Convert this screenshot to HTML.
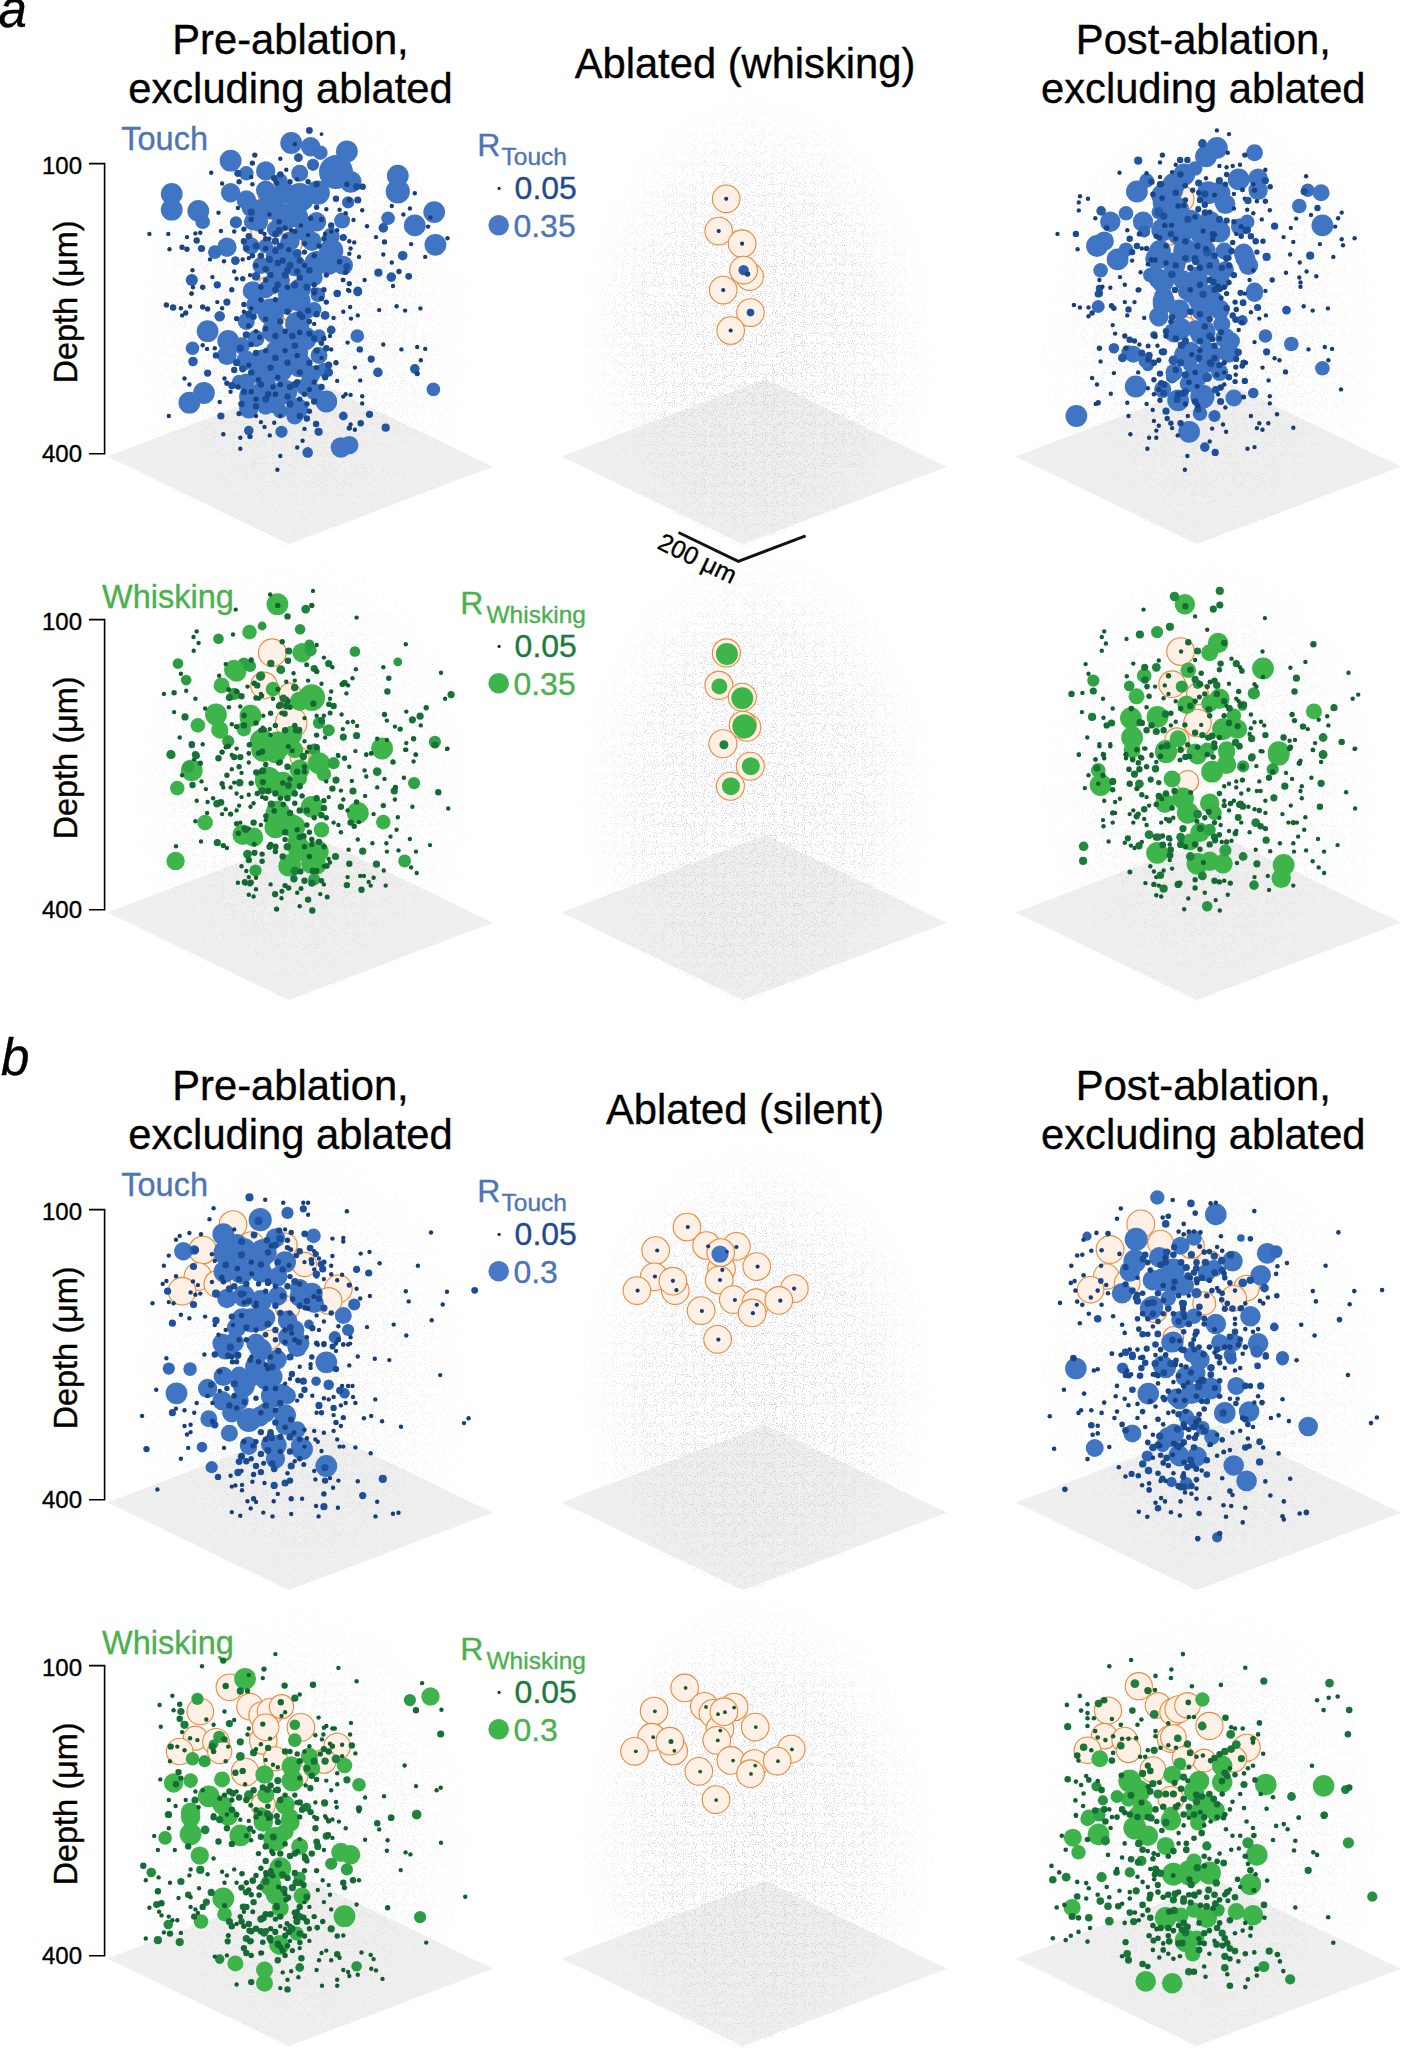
<!DOCTYPE html><html><head><meta charset="utf-8"><style>html,body{margin:0;padding:0;background:#fff;width:1403px;height:2048px;overflow:hidden}svg{display:block}</style></head><body>
<svg width="1403" height="2048" viewBox="0 0 1403 2048" font-family='"Liberation Sans", sans-serif'>
<style>text{stroke-width:0.35px}text:not([fill]){stroke:#000}</style>
<rect width="1403" height="2048" fill="#fff"/>
<text x="-1.5" y="27.3" font-size="51" font-style="italic" stroke="#000" stroke-width="0.7">a</text>
<text x="1" y="1074.5" font-size="51" font-style="italic" stroke="#000" stroke-width="0.7">b</text>
<polygon points="107.5,456.4 288.7,544.0 493.0,466.7 311.5,379.0" fill="#efefef"/>
<polygon points="561.5,456.4 742.7,544.0 947.0,466.7 765.5,379.0" fill="#efefef"/>
<polygon points="1015.5,456.4 1196.7,544.0 1401.0,466.7 1219.5,379.0" fill="#efefef"/>
<path d="M89,163.6 H104.6 V453.8 H89" fill="none" stroke="#000" stroke-width="1.6"/>
<text x="82" y="173.8" text-anchor="end" font-size="24">100</text>
<text x="82" y="462.0" text-anchor="end" font-size="24">400</text>
<text transform="translate(77,302.0) rotate(-90)" text-anchor="middle" font-size="32.5">Depth (μm)</text>
<polygon points="107.5,912.4 288.7,1000.0 493.0,922.7 311.5,835.0" fill="#efefef"/>
<polygon points="561.5,912.4 742.7,1000.0 947.0,922.7 765.5,835.0" fill="#efefef"/>
<polygon points="1015.5,912.4 1196.7,1000.0 1401.0,922.7 1219.5,835.0" fill="#efefef"/>
<path d="M89,619.6 H104.6 V909.8 H89" fill="none" stroke="#000" stroke-width="1.6"/>
<text x="82" y="629.8" text-anchor="end" font-size="24">100</text>
<text x="82" y="918.0" text-anchor="end" font-size="24">400</text>
<text transform="translate(77,758.0) rotate(-90)" text-anchor="middle" font-size="32.5">Depth (μm)</text>
<polygon points="107.5,1502.4 288.7,1590.0 493.0,1512.7 311.5,1425.0" fill="#efefef"/>
<polygon points="561.5,1502.4 742.7,1590.0 947.0,1512.7 765.5,1425.0" fill="#efefef"/>
<polygon points="1015.5,1502.4 1196.7,1590.0 1401.0,1512.7 1219.5,1425.0" fill="#efefef"/>
<path d="M89,1209.6 H104.6 V1499.8 H89" fill="none" stroke="#000" stroke-width="1.6"/>
<text x="82" y="1219.8" text-anchor="end" font-size="24">100</text>
<text x="82" y="1508.0" text-anchor="end" font-size="24">400</text>
<text transform="translate(77,1348.0) rotate(-90)" text-anchor="middle" font-size="32.5">Depth (μm)</text>
<polygon points="107.5,1958.4 288.7,2046.0 493.0,1968.7 311.5,1881.0" fill="#efefef"/>
<polygon points="561.5,1958.4 742.7,2046.0 947.0,1968.7 765.5,1881.0" fill="#efefef"/>
<polygon points="1015.5,1958.4 1196.7,2046.0 1401.0,1968.7 1219.5,1881.0" fill="#efefef"/>
<path d="M89,1665.6 H104.6 V1955.8 H89" fill="none" stroke="#000" stroke-width="1.6"/>
<text x="82" y="1675.8" text-anchor="end" font-size="24">100</text>
<text x="82" y="1964.0" text-anchor="end" font-size="24">400</text>
<text transform="translate(77,1804.0) rotate(-90)" text-anchor="middle" font-size="32.5">Depth (μm)</text>
<defs><filter id="spk" x="0" y="0" width="1" height="1" filterUnits="objectBoundingBox"><feTurbulence type="fractalNoise" baseFrequency="0.9" numOctaves="1" seed="7" result="n"/><feColorMatrix in="n" type="matrix" values="0 0 0 0 0.55  0 0 0 0 0.57  0 0 0 0 0.62  0 0 0 18 -10.6" result="d"/><feComposite in="d" in2="SourceGraphic" operator="in"/></filter><radialGradient id="cg" cx="0.5" cy="0.48" r="0.5"><stop offset="0" stop-color="#000" stop-opacity="1"/><stop offset="0.6" stop-color="#000" stop-opacity="0.7"/><stop offset="1" stop-color="#000" stop-opacity="0"/></radialGradient></defs>
<defs><clipPath id="cl00"><polygon points="107.6,90.0 490.7,90.0 490.7,465.0 287.5,548.8 107.6,456.2"/></clipPath><clipPath id="cl01"><polygon points="561.6,90.0 944.7,90.0 944.7,465.0 741.5,548.8 561.6,456.2"/></clipPath><clipPath id="cl02"><polygon points="1015.6,90.0 1398.7,90.0 1398.7,465.0 1195.5,548.8 1015.6,456.2"/></clipPath><clipPath id="cl10"><polygon points="107.6,546.0 490.7,546.0 490.7,921.0 287.5,1004.8 107.6,912.2"/></clipPath><clipPath id="cl11"><polygon points="561.6,546.0 944.7,546.0 944.7,921.0 741.5,1004.8 561.6,912.2"/></clipPath><clipPath id="cl12"><polygon points="1015.6,546.0 1398.7,546.0 1398.7,921.0 1195.5,1004.8 1015.6,912.2"/></clipPath><clipPath id="cl20"><polygon points="107.6,1136.0 490.7,1136.0 490.7,1511.0 287.5,1594.8 107.6,1502.2"/></clipPath><clipPath id="cl21"><polygon points="561.6,1136.0 944.7,1136.0 944.7,1511.0 741.5,1594.8 561.6,1502.2"/></clipPath><clipPath id="cl22"><polygon points="1015.6,1136.0 1398.7,1136.0 1398.7,1511.0 1195.5,1594.8 1015.6,1502.2"/></clipPath><clipPath id="cl30"><polygon points="107.6,1592.0 490.7,1592.0 490.7,1967.0 287.5,2050.8 107.6,1958.2"/></clipPath><clipPath id="cl31"><polygon points="561.6,1592.0 944.7,1592.0 944.7,1967.0 741.5,2050.8 561.6,1958.2"/></clipPath><clipPath id="cl32"><polygon points="1015.6,1592.0 1398.7,1592.0 1398.7,1967.0 1195.5,2050.8 1015.6,1958.2"/></clipPath></defs>
<g clip-path="url(#cl00)"><ellipse cx="303.0" cy="350.0" rx="185" ry="255" fill="url(#cg)" opacity="0.40" filter="url(#spk)"/></g>
<g clip-path="url(#cl01)"><ellipse cx="757.0" cy="350.0" rx="185" ry="255" fill="url(#cg)" opacity="0.80" filter="url(#spk)"/></g>
<g clip-path="url(#cl02)"><ellipse cx="1211.0" cy="350.0" rx="185" ry="255" fill="url(#cg)" opacity="0.40" filter="url(#spk)"/></g>
<g clip-path="url(#cl10)"><ellipse cx="303.0" cy="806.0" rx="185" ry="255" fill="url(#cg)" opacity="0.40" filter="url(#spk)"/></g>
<g clip-path="url(#cl11)"><ellipse cx="757.0" cy="806.0" rx="185" ry="255" fill="url(#cg)" opacity="0.80" filter="url(#spk)"/></g>
<g clip-path="url(#cl12)"><ellipse cx="1211.0" cy="806.0" rx="185" ry="255" fill="url(#cg)" opacity="0.40" filter="url(#spk)"/></g>
<g clip-path="url(#cl20)"><ellipse cx="303.0" cy="1396.0" rx="185" ry="255" fill="url(#cg)" opacity="0.40" filter="url(#spk)"/></g>
<g clip-path="url(#cl21)"><ellipse cx="757.0" cy="1396.0" rx="185" ry="255" fill="url(#cg)" opacity="0.80" filter="url(#spk)"/></g>
<g clip-path="url(#cl22)"><ellipse cx="1211.0" cy="1396.0" rx="185" ry="255" fill="url(#cg)" opacity="0.40" filter="url(#spk)"/></g>
<g clip-path="url(#cl30)"><ellipse cx="303.0" cy="1852.0" rx="185" ry="255" fill="url(#cg)" opacity="0.40" filter="url(#spk)"/></g>
<g clip-path="url(#cl31)"><ellipse cx="757.0" cy="1852.0" rx="185" ry="255" fill="url(#cg)" opacity="0.80" filter="url(#spk)"/></g>
<g clip-path="url(#cl32)"><ellipse cx="1211.0" cy="1852.0" rx="185" ry="255" fill="url(#cg)" opacity="0.40" filter="url(#spk)"/></g>
<text x="290.5" y="54.0" text-anchor="middle" font-size="41.7">Pre-ablation,</text>
<text x="290.5" y="102.5" text-anchor="middle" font-size="41.7">excluding ablated</text>
<text x="745" y="78.4" text-anchor="middle" font-size="41.7">Ablated (whisking)</text>
<text x="1203.3" y="54.0" text-anchor="middle" font-size="41.7">Post-ablation,</text>
<text x="1203.3" y="102.5" text-anchor="middle" font-size="41.7">excluding ablated</text>
<text x="290.5" y="1100.0" text-anchor="middle" font-size="41.7">Pre-ablation,</text>
<text x="290.5" y="1148.5" text-anchor="middle" font-size="41.7">excluding ablated</text>
<text x="745" y="1124.4" text-anchor="middle" font-size="41.7">Ablated (silent)</text>
<text x="1203.3" y="1100.0" text-anchor="middle" font-size="41.7">Post-ablation,</text>
<text x="1203.3" y="1148.5" text-anchor="middle" font-size="41.7">excluding ablated</text>
<text x="121.3" y="149.5" font-size="32.5" fill="#4d74b4" stroke="#4d74b4">Touch</text>
<text x="477.3" y="156.4" font-size="32" fill="#4d74b4" stroke="#4d74b4">R</text>
<text x="501.5" y="164.6" font-size="24.5" fill="#4d74b4" stroke="#4d74b4">Touch</text>
<circle cx="499.1" cy="188.4" r="1.6" fill="#1a2f55"/>
<text x="514.6" y="198.7" font-size="32" fill="#1f4b8e" stroke="#1f4b8e">0.05</text>
<circle cx="498.7" cy="225.2" r="10.3" fill="#4a78c6"/>
<text x="513.4" y="237.0" font-size="32" fill="#4d74b4" stroke="#4d74b4">0.35</text>
<text x="102.0" y="607.5" font-size="32.5" fill="#4cb050" stroke="#4cb050">Whisking</text>
<text x="460.3" y="614.4" font-size="32" fill="#4cb050" stroke="#4cb050">R</text>
<text x="486.5" y="622.6" font-size="24.5" fill="#4cb050" stroke="#4cb050">Whisking</text>
<circle cx="499.1" cy="646.4" r="1.6" fill="#1c3a28"/>
<text x="514.6" y="656.7" font-size="32" fill="#1e7a3c" stroke="#1e7a3c">0.05</text>
<circle cx="498.7" cy="683.2" r="10.3" fill="#3cb54a"/>
<text x="513.4" y="695.0" font-size="32" fill="#4cb050" stroke="#4cb050">0.35</text>
<text x="121.3" y="1195.5" font-size="32.5" fill="#4d74b4" stroke="#4d74b4">Touch</text>
<text x="477.3" y="1202.4" font-size="32" fill="#4d74b4" stroke="#4d74b4">R</text>
<text x="501.5" y="1210.6" font-size="24.5" fill="#4d74b4" stroke="#4d74b4">Touch</text>
<circle cx="499.1" cy="1234.4" r="1.6" fill="#1a2f55"/>
<text x="514.6" y="1244.7" font-size="32" fill="#1f4b8e" stroke="#1f4b8e">0.05</text>
<circle cx="498.7" cy="1271.2" r="10.3" fill="#4a78c6"/>
<text x="513.4" y="1283.0" font-size="32" fill="#4d74b4" stroke="#4d74b4">0.3</text>
<text x="102.0" y="1653.5" font-size="32.5" fill="#4cb050" stroke="#4cb050">Whisking</text>
<text x="460.3" y="1660.4" font-size="32" fill="#4cb050" stroke="#4cb050">R</text>
<text x="486.5" y="1668.6" font-size="24.5" fill="#4cb050" stroke="#4cb050">Whisking</text>
<circle cx="499.1" cy="1692.4" r="1.6" fill="#1c3a28"/>
<text x="514.6" y="1702.7" font-size="32" fill="#1e7a3c" stroke="#1e7a3c">0.05</text>
<circle cx="498.7" cy="1729.2" r="10.3" fill="#3cb54a"/>
<text x="513.4" y="1741.0" font-size="32" fill="#4cb050" stroke="#4cb050">0.3</text>
<path d="M678.5,532.5 L738.3,561.3 L805.6,535.9" fill="none" stroke="#111" stroke-width="3"/>
<text transform="translate(656,548) rotate(25.7)" font-size="25">200 μm</text>
<g>
<circle cx="295.6" cy="276.6" r="13.8" fill="#fef0e4" stroke="#e98a3d" stroke-width="1.1"/>
<circle cx="272.2" cy="198.8" r="13.8" fill="#fef0e4" stroke="#e98a3d" stroke-width="1.1"/>
<circle cx="264.7" cy="231.1" r="13.8" fill="#fef0e4" stroke="#e98a3d" stroke-width="1.1"/>
<circle cx="288.1" cy="243.7" r="13.8" fill="#fef0e4" stroke="#e98a3d" stroke-width="1.1"/>
<circle cx="289.6" cy="270.1" r="13.8" fill="#fef0e4" stroke="#e98a3d" stroke-width="1.1"/>
<circle cx="269.2" cy="290.1" r="13.8" fill="#fef0e4" stroke="#e98a3d" stroke-width="1.1"/>
<circle cx="296.5" cy="312.6" r="13.8" fill="#fef0e4" stroke="#e98a3d" stroke-width="1.1"/>
<circle cx="276.7" cy="330.5" r="13.8" fill="#fef0e4" stroke="#e98a3d" stroke-width="1.1"/>
<circle cx="171.7" cy="193.9" r="10.9" fill="#4075c4"/>
<circle cx="171.7" cy="209.7" r="10.9" fill="#4075c4"/>
<circle cx="230.6" cy="160.7" r="10.9" fill="#4075c4"/>
<circle cx="198.3" cy="210.9" r="10.9" fill="#4075c4"/>
<circle cx="202.7" cy="221.8" r="7.3" fill="#3e73c2"/>
<circle cx="230.6" cy="192.7" r="9.7" fill="#4075c4"/>
<circle cx="291.2" cy="143.0" r="10.9" fill="#4075c4"/>
<circle cx="310.6" cy="146.7" r="9.7" fill="#4075c4"/>
<circle cx="320.3" cy="152.7" r="7.3" fill="#3e73c2"/>
<circle cx="346.9" cy="151.5" r="10.9" fill="#4075c4"/>
<circle cx="265.7" cy="170.9" r="9.7" fill="#4075c4"/>
<circle cx="336.0" cy="172.1" r="17.0" fill="#4075c4"/>
<circle cx="350.6" cy="181.8" r="10.9" fill="#4075c4"/>
<circle cx="313.0" cy="164.8" r="6.1" fill="#3368b8"/>
<circle cx="299.7" cy="197.6" r="14.5" fill="#4075c4"/>
<circle cx="317.8" cy="192.7" r="12.1" fill="#4075c4"/>
<circle cx="270.6" cy="206.0" r="13.3" fill="#4075c4"/>
<circle cx="251.2" cy="207.3" r="9.7" fill="#4075c4"/>
<circle cx="285.1" cy="216.9" r="13.3" fill="#4075c4"/>
<circle cx="265.7" cy="190.3" r="9.7" fill="#4075c4"/>
<circle cx="252.4" cy="221.8" r="8.5" fill="#4075c4"/>
<circle cx="283.9" cy="192.7" r="10.9" fill="#4075c4"/>
<circle cx="397.8" cy="175.7" r="10.9" fill="#4075c4"/>
<circle cx="397.8" cy="191.5" r="12.1" fill="#4075c4"/>
<circle cx="434.2" cy="212.1" r="10.9" fill="#4075c4"/>
<circle cx="414.8" cy="225.4" r="10.9" fill="#4075c4"/>
<circle cx="435.4" cy="244.8" r="10.9" fill="#4075c4"/>
<circle cx="388.1" cy="218.2" r="6.8" fill="#3a6fbe"/>
<circle cx="342.1" cy="220.6" r="8.0" fill="#4075c4"/>
<circle cx="316.6" cy="221.8" r="9.7" fill="#4075c4"/>
<circle cx="311.8" cy="241.2" r="9.7" fill="#4075c4"/>
<circle cx="331.2" cy="250.9" r="12.1" fill="#4075c4"/>
<circle cx="343.3" cy="265.4" r="9.7" fill="#4075c4"/>
<circle cx="316.6" cy="263.0" r="12.1" fill="#4075c4"/>
<circle cx="226.9" cy="247.2" r="9.7" fill="#4075c4"/>
<circle cx="214.8" cy="252.1" r="6.8" fill="#3a6fbe"/>
<circle cx="251.2" cy="246.0" r="8.5" fill="#4075c4"/>
<circle cx="252.4" cy="290.9" r="9.7" fill="#4075c4"/>
<circle cx="271.8" cy="284.8" r="9.7" fill="#4075c4"/>
<circle cx="299.7" cy="289.7" r="10.9" fill="#4075c4"/>
<circle cx="285.1" cy="255.7" r="10.9" fill="#4075c4"/>
<circle cx="275.4" cy="267.8" r="10.9" fill="#4075c4"/>
<circle cx="306.9" cy="277.5" r="9.7" fill="#4075c4"/>
<circle cx="235.9" cy="222.3" r="6.1" fill="#3368b8"/>
<circle cx="246.3" cy="200.0" r="9.7" fill="#4075c4"/>
<circle cx="258.5" cy="221.8" r="9.7" fill="#4075c4"/>
<circle cx="275.4" cy="229.1" r="8.5" fill="#4075c4"/>
<circle cx="297.2" cy="216.9" r="10.9" fill="#4075c4"/>
<circle cx="304.5" cy="231.5" r="9.7" fill="#4075c4"/>
<circle cx="290.0" cy="241.2" r="9.7" fill="#4075c4"/>
<circle cx="265.7" cy="246.0" r="7.3" fill="#3e73c2"/>
<circle cx="275.4" cy="255.7" r="9.7" fill="#4075c4"/>
<circle cx="294.8" cy="265.4" r="10.9" fill="#4075c4"/>
<circle cx="331.2" cy="236.3" r="8.5" fill="#4075c4"/>
<circle cx="260.9" cy="265.4" r="8.5" fill="#4075c4"/>
<circle cx="280.3" cy="280.0" r="9.7" fill="#4075c4"/>
<circle cx="265.7" cy="289.7" r="8.5" fill="#4075c4"/>
<circle cx="287.5" cy="294.5" r="9.7" fill="#4075c4"/>
<circle cx="314.2" cy="277.5" r="8.5" fill="#4075c4"/>
<circle cx="328.7" cy="265.4" r="9.7" fill="#4075c4"/>
<circle cx="246.3" cy="173.3" r="7.3" fill="#3e73c2"/>
<circle cx="299.7" cy="173.3" r="8.5" fill="#4075c4"/>
<circle cx="280.3" cy="180.6" r="7.3" fill="#3e73c2"/>
<circle cx="348.1" cy="202.4" r="6.1" fill="#3368b8"/>
<circle cx="299.7" cy="300.9" r="10.9" fill="#4075c4"/>
<circle cx="317.8" cy="294.8" r="7.3" fill="#3e73c2"/>
<circle cx="270.6" cy="311.8" r="13.3" fill="#4075c4"/>
<circle cx="273.0" cy="331.2" r="10.9" fill="#4075c4"/>
<circle cx="297.2" cy="323.9" r="12.1" fill="#4075c4"/>
<circle cx="304.5" cy="338.5" r="12.1" fill="#4075c4"/>
<circle cx="286.3" cy="342.1" r="10.9" fill="#4075c4"/>
<circle cx="207.6" cy="331.2" r="10.9" fill="#4075c4"/>
<circle cx="228.2" cy="340.9" r="10.9" fill="#4075c4"/>
<circle cx="226.9" cy="355.4" r="9.7" fill="#4075c4"/>
<circle cx="192.5" cy="348.2" r="6.8" fill="#3a6fbe"/>
<circle cx="219.7" cy="316.2" r="5.3" fill="#2e63b3"/>
<circle cx="319.0" cy="336.0" r="6.8" fill="#3a6fbe"/>
<circle cx="262.1" cy="362.7" r="13.3" fill="#4075c4"/>
<circle cx="246.3" cy="360.3" r="9.7" fill="#4075c4"/>
<circle cx="280.3" cy="370.0" r="12.1" fill="#4075c4"/>
<circle cx="299.7" cy="365.1" r="12.1" fill="#4075c4"/>
<circle cx="310.6" cy="374.8" r="9.7" fill="#4075c4"/>
<circle cx="246.3" cy="382.1" r="8.5" fill="#4075c4"/>
<circle cx="251.2" cy="396.6" r="12.1" fill="#4075c4"/>
<circle cx="265.7" cy="386.9" r="10.9" fill="#4075c4"/>
<circle cx="285.1" cy="391.8" r="12.1" fill="#4075c4"/>
<circle cx="275.4" cy="403.9" r="9.7" fill="#4075c4"/>
<circle cx="297.2" cy="408.8" r="10.9" fill="#4075c4"/>
<circle cx="248.8" cy="408.8" r="9.7" fill="#4075c4"/>
<circle cx="326.3" cy="401.5" r="10.9" fill="#4075c4"/>
<circle cx="203.9" cy="393.0" r="10.9" fill="#4075c4"/>
<circle cx="189.4" cy="402.7" r="10.9" fill="#4075c4"/>
<circle cx="357.3" cy="336.0" r="6.8" fill="#3a6fbe"/>
<circle cx="433.4" cy="389.4" r="6.8" fill="#3a6fbe"/>
<circle cx="281.5" cy="431.8" r="6.1" fill="#3368b8"/>
<circle cx="340.9" cy="447.5" r="10.2" fill="#4075c4"/>
<circle cx="349.3" cy="445.1" r="9.2" fill="#4075c4"/>
<circle cx="294.8" cy="416.0" r="8.5" fill="#4075c4"/>
<circle cx="246.3" cy="321.5" r="8.5" fill="#4075c4"/>
<circle cx="256.0" cy="304.5" r="9.7" fill="#4075c4"/>
<circle cx="285.1" cy="304.5" r="9.7" fill="#4075c4"/>
<circle cx="314.2" cy="309.4" r="7.3" fill="#3e73c2"/>
<circle cx="319.0" cy="355.4" r="8.5" fill="#4075c4"/>
<circle cx="323.9" cy="370.0" r="7.3" fill="#3e73c2"/>
<circle cx="241.5" cy="345.7" r="8.5" fill="#4075c4"/>
<circle cx="256.0" cy="338.5" r="8.5" fill="#4075c4"/>
<circle cx="314.2" cy="391.8" r="8.5" fill="#4075c4"/>
<circle cx="275.4" cy="350.6" r="9.7" fill="#4075c4"/>
<circle cx="290.0" cy="353.0" r="9.7" fill="#4075c4"/>
<circle cx="260.9" cy="374.8" r="9.7" fill="#4075c4"/>
<circle cx="239.1" cy="382.1" r="7.3" fill="#3e73c2"/>
<circle cx="304.5" cy="386.9" r="8.5" fill="#4075c4"/>
<circle cx="265.7" cy="406.3" r="8.5" fill="#4075c4"/>
<circle cx="280.3" cy="411.2" r="7.3" fill="#3e73c2"/>
<circle cx="306.9" cy="311.8" r="7.3" fill="#3e73c2"/>
<circle cx="299.7" cy="353.0" r="8.5" fill="#4075c4"/>
<circle cx="309.4" cy="130.4" r="3.4" fill="#1b4e97"/>
<circle cx="321.5" cy="134.1" r="1.9" fill="#163a72"/>
<circle cx="254.8" cy="155.1" r="2.7" fill="#184384"/>
<circle cx="252.4" cy="163.1" r="2.7" fill="#184384"/>
<circle cx="211.2" cy="172.8" r="2.2" fill="#173d77"/>
<circle cx="237.9" cy="173.3" r="3.6" fill="#1c509c"/>
<circle cx="239.1" cy="181.8" r="2.7" fill="#184384"/>
<circle cx="222.1" cy="183.5" r="2.2" fill="#173d77"/>
<circle cx="280.3" cy="158.8" r="2.2" fill="#173d77"/>
<circle cx="286.3" cy="169.7" r="2.2" fill="#173d77"/>
<circle cx="280.3" cy="174.5" r="3.2" fill="#1a4a91"/>
<circle cx="274.2" cy="178.2" r="3.2" fill="#1a4a91"/>
<circle cx="276.6" cy="183.0" r="2.7" fill="#184384"/>
<circle cx="297.2" cy="179.4" r="2.2" fill="#173d77"/>
<circle cx="290.0" cy="181.8" r="2.7" fill="#184384"/>
<circle cx="308.1" cy="181.8" r="2.7" fill="#184384"/>
<circle cx="316.6" cy="184.2" r="3.2" fill="#1a4a91"/>
<circle cx="251.2" cy="177.0" r="2.2" fill="#173d77"/>
<circle cx="252.4" cy="184.2" r="2.2" fill="#173d77"/>
<circle cx="298.4" cy="157.6" r="4.4" fill="#2358a5"/>
<circle cx="294.8" cy="144.2" r="2.2" fill="#173d77"/>
<circle cx="356.6" cy="186.7" r="3.6" fill="#1c509c"/>
<circle cx="362.7" cy="186.7" r="3.2" fill="#1a4a91"/>
<circle cx="346.9" cy="184.2" r="2.7" fill="#184384"/>
<circle cx="336.0" cy="198.8" r="3.2" fill="#1a4a91"/>
<circle cx="349.3" cy="200.0" r="2.7" fill="#184384"/>
<circle cx="357.8" cy="200.0" r="3.6" fill="#1c509c"/>
<circle cx="316.6" cy="207.3" r="2.7" fill="#184384"/>
<circle cx="326.3" cy="209.2" r="2.2" fill="#173d77"/>
<circle cx="339.6" cy="209.7" r="2.2" fill="#173d77"/>
<circle cx="345.7" cy="213.3" r="2.2" fill="#173d77"/>
<circle cx="362.2" cy="210.2" r="2.2" fill="#173d77"/>
<circle cx="353.5" cy="219.9" r="2.2" fill="#173d77"/>
<circle cx="367.0" cy="226.2" r="2.2" fill="#173d77"/>
<circle cx="391.8" cy="206.0" r="2.2" fill="#173d77"/>
<circle cx="403.4" cy="214.5" r="2.2" fill="#173d77"/>
<circle cx="409.9" cy="208.5" r="2.2" fill="#173d77"/>
<circle cx="414.8" cy="193.2" r="2.2" fill="#173d77"/>
<circle cx="383.3" cy="227.9" r="4.8" fill="#285cab"/>
<circle cx="376.0" cy="237.1" r="2.2" fill="#173d77"/>
<circle cx="384.5" cy="241.9" r="2.7" fill="#184384"/>
<circle cx="411.1" cy="244.1" r="2.2" fill="#173d77"/>
<circle cx="428.1" cy="226.6" r="2.2" fill="#173d77"/>
<circle cx="430.5" cy="217.4" r="2.2" fill="#173d77"/>
<circle cx="447.5" cy="238.3" r="2.2" fill="#173d77"/>
<circle cx="402.7" cy="255.7" r="4.8" fill="#285cab"/>
<circle cx="425.2" cy="256.9" r="2.2" fill="#173d77"/>
<circle cx="383.3" cy="254.5" r="2.2" fill="#173d77"/>
<circle cx="391.8" cy="262.5" r="2.2" fill="#173d77"/>
<circle cx="378.4" cy="272.7" r="4.1" fill="#2155a2"/>
<circle cx="391.3" cy="277.1" r="4.8" fill="#285cab"/>
<circle cx="399.0" cy="271.5" r="2.7" fill="#184384"/>
<circle cx="408.7" cy="276.3" r="3.4" fill="#1b4e97"/>
<circle cx="393.0" cy="286.0" r="2.2" fill="#173d77"/>
<circle cx="364.6" cy="280.0" r="2.2" fill="#173d77"/>
<circle cx="357.8" cy="290.9" r="4.4" fill="#2358a5"/>
<circle cx="337.2" cy="293.3" r="3.6" fill="#1c509c"/>
<circle cx="349.3" cy="283.6" r="2.7" fill="#184384"/>
<circle cx="343.3" cy="280.0" r="2.2" fill="#173d77"/>
<circle cx="349.3" cy="290.9" r="2.2" fill="#173d77"/>
<circle cx="149.4" cy="233.9" r="2.2" fill="#173d77"/>
<circle cx="168.3" cy="233.9" r="2.2" fill="#173d77"/>
<circle cx="169.5" cy="249.2" r="2.2" fill="#173d77"/>
<circle cx="187.0" cy="237.1" r="2.2" fill="#173d77"/>
<circle cx="182.1" cy="247.2" r="2.7" fill="#184384"/>
<circle cx="187.0" cy="249.2" r="2.7" fill="#184384"/>
<circle cx="196.7" cy="240.5" r="3.2" fill="#1a4a91"/>
<circle cx="201.5" cy="248.5" r="3.6" fill="#1c509c"/>
<circle cx="195.4" cy="233.4" r="2.2" fill="#173d77"/>
<circle cx="200.3" cy="232.7" r="2.2" fill="#173d77"/>
<circle cx="218.5" cy="212.8" r="2.2" fill="#173d77"/>
<circle cx="220.9" cy="231.0" r="2.2" fill="#173d77"/>
<circle cx="237.9" cy="208.0" r="2.2" fill="#173d77"/>
<circle cx="234.2" cy="231.5" r="2.2" fill="#173d77"/>
<circle cx="210.0" cy="259.4" r="2.2" fill="#173d77"/>
<circle cx="224.0" cy="261.3" r="2.2" fill="#173d77"/>
<circle cx="235.4" cy="260.6" r="4.4" fill="#2358a5"/>
<circle cx="242.7" cy="259.4" r="2.2" fill="#173d77"/>
<circle cx="248.8" cy="258.1" r="2.2" fill="#173d77"/>
<circle cx="191.8" cy="280.0" r="6.1" fill="#2e63b3"/>
<circle cx="192.5" cy="270.3" r="2.2" fill="#173d77"/>
<circle cx="202.7" cy="287.2" r="2.7" fill="#184384"/>
<circle cx="193.0" cy="287.2" r="2.2" fill="#173d77"/>
<circle cx="191.3" cy="293.5" r="2.2" fill="#173d77"/>
<circle cx="217.3" cy="284.8" r="3.6" fill="#1c509c"/>
<circle cx="212.4" cy="277.1" r="2.2" fill="#173d77"/>
<circle cx="234.2" cy="271.5" r="2.2" fill="#173d77"/>
<circle cx="236.6" cy="278.7" r="2.2" fill="#173d77"/>
<circle cx="242.7" cy="278.7" r="2.7" fill="#184384"/>
<circle cx="250.0" cy="275.1" r="2.2" fill="#173d77"/>
<circle cx="256.0" cy="276.3" r="4.4" fill="#2358a5"/>
<circle cx="231.8" cy="289.7" r="2.7" fill="#184384"/>
<circle cx="248.8" cy="236.3" r="3.2" fill="#1a4a91"/>
<circle cx="256.0" cy="246.0" r="3.6" fill="#1c509c"/>
<circle cx="269.4" cy="238.8" r="2.2" fill="#173d77"/>
<circle cx="275.4" cy="241.2" r="3.6" fill="#1c509c"/>
<circle cx="265.7" cy="248.5" r="2.7" fill="#184384"/>
<circle cx="269.4" cy="259.4" r="3.6" fill="#1c509c"/>
<circle cx="280.3" cy="246.0" r="3.6" fill="#1c509c"/>
<circle cx="288.7" cy="249.7" r="2.7" fill="#184384"/>
<circle cx="297.2" cy="253.3" r="4.4" fill="#2358a5"/>
<circle cx="304.5" cy="252.1" r="2.7" fill="#184384"/>
<circle cx="290.0" cy="265.4" r="3.6" fill="#1c509c"/>
<circle cx="285.1" cy="275.1" r="3.6" fill="#1c509c"/>
<circle cx="297.2" cy="271.5" r="3.2" fill="#1a4a91"/>
<circle cx="294.8" cy="284.8" r="3.6" fill="#1c509c"/>
<circle cx="306.9" cy="287.2" r="3.6" fill="#1c509c"/>
<circle cx="314.2" cy="290.9" r="3.6" fill="#1c509c"/>
<circle cx="287.5" cy="287.2" r="2.7" fill="#184384"/>
<circle cx="277.8" cy="263.0" r="3.2" fill="#1a4a91"/>
<circle cx="265.7" cy="269.1" r="3.2" fill="#1a4a91"/>
<circle cx="260.9" cy="287.2" r="2.7" fill="#184384"/>
<circle cx="275.4" cy="289.7" r="3.2" fill="#1a4a91"/>
<circle cx="300.9" cy="225.4" r="2.2" fill="#173d77"/>
<circle cx="310.6" cy="218.2" r="2.7" fill="#184384"/>
<circle cx="321.5" cy="219.4" r="2.7" fill="#184384"/>
<circle cx="331.2" cy="225.4" r="3.2" fill="#1a4a91"/>
<circle cx="331.2" cy="231.5" r="2.2" fill="#173d77"/>
<circle cx="325.1" cy="233.9" r="2.2" fill="#173d77"/>
<circle cx="337.2" cy="230.3" r="2.2" fill="#173d77"/>
<circle cx="343.3" cy="237.5" r="3.6" fill="#1c509c"/>
<circle cx="349.3" cy="241.2" r="2.2" fill="#173d77"/>
<circle cx="354.2" cy="242.4" r="2.2" fill="#173d77"/>
<circle cx="350.6" cy="248.5" r="2.2" fill="#173d77"/>
<circle cx="349.3" cy="253.8" r="2.2" fill="#173d77"/>
<circle cx="359.0" cy="256.9" r="2.2" fill="#173d77"/>
<circle cx="339.6" cy="261.8" r="2.7" fill="#184384"/>
<circle cx="346.9" cy="266.6" r="3.6" fill="#1c509c"/>
<circle cx="345.7" cy="272.2" r="2.7" fill="#184384"/>
<circle cx="342.8" cy="280.0" r="2.2" fill="#173d77"/>
<circle cx="304.5" cy="265.4" r="2.7" fill="#184384"/>
<circle cx="326.3" cy="275.1" r="2.7" fill="#184384"/>
<circle cx="279.1" cy="221.8" r="2.7" fill="#184384"/>
<circle cx="279.1" cy="230.3" r="3.2" fill="#1a4a91"/>
<circle cx="285.1" cy="227.9" r="2.7" fill="#184384"/>
<circle cx="291.2" cy="230.3" r="2.2" fill="#173d77"/>
<circle cx="251.2" cy="212.1" r="3.6" fill="#1c509c"/>
<circle cx="251.2" cy="219.4" r="2.7" fill="#184384"/>
<circle cx="269.4" cy="214.5" r="2.2" fill="#173d77"/>
<circle cx="264.5" cy="233.9" r="2.2" fill="#173d77"/>
<circle cx="308.1" cy="235.1" r="2.2" fill="#173d77"/>
<circle cx="323.9" cy="238.8" r="2.7" fill="#184384"/>
<circle cx="243.9" cy="241.2" r="3.2" fill="#1a4a91"/>
<circle cx="246.3" cy="248.5" r="3.2" fill="#1a4a91"/>
<circle cx="252.4" cy="255.7" r="2.7" fill="#184384"/>
<circle cx="260.9" cy="255.7" r="3.2" fill="#1a4a91"/>
<circle cx="265.7" cy="238.8" r="2.7" fill="#184384"/>
<circle cx="275.4" cy="250.9" r="3.2" fill="#1a4a91"/>
<circle cx="282.7" cy="260.6" r="3.2" fill="#1a4a91"/>
<circle cx="287.5" cy="270.3" r="3.2" fill="#1a4a91"/>
<circle cx="299.7" cy="260.6" r="3.2" fill="#1a4a91"/>
<circle cx="309.4" cy="270.3" r="3.2" fill="#1a4a91"/>
<circle cx="314.2" cy="255.7" r="2.7" fill="#184384"/>
<circle cx="319.0" cy="246.0" r="2.7" fill="#184384"/>
<circle cx="304.5" cy="243.6" r="2.7" fill="#184384"/>
<circle cx="294.8" cy="231.5" r="2.7" fill="#184384"/>
<circle cx="275.4" cy="233.9" r="3.2" fill="#1a4a91"/>
<circle cx="285.1" cy="236.3" r="2.7" fill="#184384"/>
<circle cx="260.9" cy="231.5" r="2.7" fill="#184384"/>
<circle cx="243.9" cy="229.1" r="2.7" fill="#184384"/>
<circle cx="270.6" cy="275.1" r="3.2" fill="#1a4a91"/>
<circle cx="277.8" cy="284.8" r="3.2" fill="#1a4a91"/>
<circle cx="299.7" cy="277.5" r="3.2" fill="#1a4a91"/>
<circle cx="314.2" cy="284.8" r="2.7" fill="#184384"/>
<circle cx="323.9" cy="289.7" r="2.7" fill="#184384"/>
<circle cx="265.7" cy="280.0" r="2.7" fill="#184384"/>
<circle cx="256.0" cy="265.4" r="2.7" fill="#184384"/>
<circle cx="191.8" cy="293.6" r="2.2" fill="#173d77"/>
<circle cx="166.4" cy="305.0" r="2.7" fill="#184384"/>
<circle cx="173.1" cy="307.5" r="3.2" fill="#1a4a91"/>
<circle cx="180.9" cy="308.2" r="2.2" fill="#173d77"/>
<circle cx="190.1" cy="306.5" r="2.2" fill="#173d77"/>
<circle cx="182.1" cy="315.4" r="2.2" fill="#173d77"/>
<circle cx="185.7" cy="313.0" r="2.7" fill="#184384"/>
<circle cx="202.7" cy="307.0" r="2.7" fill="#184384"/>
<circle cx="207.6" cy="308.9" r="2.7" fill="#184384"/>
<circle cx="217.3" cy="302.1" r="2.2" fill="#173d77"/>
<circle cx="226.9" cy="302.1" r="3.6" fill="#1c509c"/>
<circle cx="222.1" cy="308.2" r="2.2" fill="#173d77"/>
<circle cx="236.6" cy="318.6" r="2.7" fill="#184384"/>
<circle cx="248.8" cy="314.2" r="3.6" fill="#1c509c"/>
<circle cx="253.6" cy="316.7" r="3.2" fill="#1a4a91"/>
<circle cx="251.2" cy="308.2" r="2.2" fill="#173d77"/>
<circle cx="243.9" cy="311.8" r="2.2" fill="#173d77"/>
<circle cx="248.8" cy="325.9" r="2.7" fill="#184384"/>
<circle cx="246.3" cy="334.8" r="3.6" fill="#1c509c"/>
<circle cx="256.0" cy="331.2" r="2.2" fill="#173d77"/>
<circle cx="251.2" cy="344.5" r="2.7" fill="#184384"/>
<circle cx="259.7" cy="337.3" r="2.7" fill="#184384"/>
<circle cx="240.3" cy="348.2" r="3.6" fill="#1c509c"/>
<circle cx="202.7" cy="345.3" r="2.2" fill="#173d77"/>
<circle cx="207.1" cy="348.9" r="2.2" fill="#173d77"/>
<circle cx="193.0" cy="361.5" r="4.8" fill="#285cab"/>
<circle cx="216.0" cy="355.4" r="3.2" fill="#1a4a91"/>
<circle cx="214.8" cy="348.2" r="2.2" fill="#173d77"/>
<circle cx="236.6" cy="362.7" r="3.6" fill="#1c509c"/>
<circle cx="234.2" cy="370.0" r="3.2" fill="#1a4a91"/>
<circle cx="242.7" cy="368.8" r="3.6" fill="#1c509c"/>
<circle cx="248.8" cy="365.1" r="2.7" fill="#184384"/>
<circle cx="207.6" cy="373.1" r="3.6" fill="#1c509c"/>
<circle cx="184.5" cy="378.5" r="2.2" fill="#173d77"/>
<circle cx="189.4" cy="384.5" r="2.2" fill="#173d77"/>
<circle cx="224.5" cy="378.5" r="2.2" fill="#173d77"/>
<circle cx="226.9" cy="383.3" r="2.7" fill="#184384"/>
<circle cx="231.8" cy="385.7" r="3.6" fill="#1c509c"/>
<circle cx="230.6" cy="391.8" r="2.2" fill="#173d77"/>
<circle cx="237.9" cy="386.9" r="2.7" fill="#184384"/>
<circle cx="219.7" cy="402.0" r="2.2" fill="#173d77"/>
<circle cx="220.9" cy="416.0" r="3.6" fill="#1c509c"/>
<circle cx="168.8" cy="416.0" r="2.2" fill="#173d77"/>
<circle cx="223.3" cy="434.2" r="2.2" fill="#173d77"/>
<circle cx="240.3" cy="437.8" r="2.2" fill="#173d77"/>
<circle cx="248.8" cy="430.6" r="4.8" fill="#285cab"/>
<circle cx="250.0" cy="436.6" r="2.7" fill="#184384"/>
<circle cx="240.3" cy="448.7" r="2.2" fill="#173d77"/>
<circle cx="260.9" cy="422.1" r="2.2" fill="#173d77"/>
<circle cx="264.5" cy="426.9" r="2.2" fill="#173d77"/>
<circle cx="269.8" cy="435.4" r="2.2" fill="#173d77"/>
<circle cx="274.2" cy="422.8" r="2.2" fill="#173d77"/>
<circle cx="280.3" cy="416.0" r="2.2" fill="#173d77"/>
<circle cx="280.3" cy="456.0" r="2.2" fill="#173d77"/>
<circle cx="277.4" cy="469.8" r="2.2" fill="#173d77"/>
<circle cx="297.2" cy="447.5" r="2.2" fill="#173d77"/>
<circle cx="302.6" cy="440.8" r="2.2" fill="#173d77"/>
<circle cx="307.7" cy="452.4" r="5.3" fill="#2c61b1"/>
<circle cx="304.5" cy="428.9" r="2.2" fill="#173d77"/>
<circle cx="316.1" cy="424.0" r="3.2" fill="#1a4a91"/>
<circle cx="318.6" cy="431.8" r="4.1" fill="#2155a2"/>
<circle cx="314.2" cy="293.6" r="2.2" fill="#173d77"/>
<circle cx="321.5" cy="298.5" r="2.7" fill="#184384"/>
<circle cx="326.3" cy="302.1" r="2.7" fill="#184384"/>
<circle cx="337.2" cy="293.6" r="3.6" fill="#1c509c"/>
<circle cx="348.1" cy="290.0" r="2.2" fill="#173d77"/>
<circle cx="357.8" cy="291.9" r="4.4" fill="#2358a5"/>
<circle cx="316.6" cy="314.2" r="3.2" fill="#1a4a91"/>
<circle cx="325.1" cy="315.4" r="4.4" fill="#2358a5"/>
<circle cx="333.6" cy="317.9" r="2.2" fill="#173d77"/>
<circle cx="343.3" cy="311.8" r="2.2" fill="#173d77"/>
<circle cx="350.1" cy="307.0" r="2.2" fill="#173d77"/>
<circle cx="357.8" cy="315.4" r="2.2" fill="#173d77"/>
<circle cx="351.0" cy="318.6" r="2.2" fill="#173d77"/>
<circle cx="331.2" cy="330.0" r="4.4" fill="#2358a5"/>
<circle cx="330.0" cy="336.0" r="2.2" fill="#173d77"/>
<circle cx="323.9" cy="338.5" r="2.7" fill="#184384"/>
<circle cx="314.2" cy="323.9" r="2.2" fill="#173d77"/>
<circle cx="308.1" cy="310.6" r="3.2" fill="#1a4a91"/>
<circle cx="302.1" cy="316.7" r="3.2" fill="#1a4a91"/>
<circle cx="316.6" cy="350.6" r="3.2" fill="#1a4a91"/>
<circle cx="326.3" cy="348.2" r="3.2" fill="#1a4a91"/>
<circle cx="331.2" cy="349.4" r="2.2" fill="#173d77"/>
<circle cx="321.5" cy="357.9" r="2.2" fill="#173d77"/>
<circle cx="336.0" cy="362.7" r="2.7" fill="#184384"/>
<circle cx="328.7" cy="365.1" r="3.6" fill="#1c509c"/>
<circle cx="328.7" cy="372.4" r="4.4" fill="#2358a5"/>
<circle cx="325.1" cy="377.3" r="3.2" fill="#1a4a91"/>
<circle cx="337.2" cy="380.9" r="2.2" fill="#173d77"/>
<circle cx="347.6" cy="342.6" r="2.2" fill="#173d77"/>
<circle cx="359.8" cy="349.4" r="3.2" fill="#1a4a91"/>
<circle cx="354.9" cy="367.6" r="2.2" fill="#173d77"/>
<circle cx="371.2" cy="359.1" r="3.6" fill="#1c509c"/>
<circle cx="377.9" cy="372.4" r="4.8" fill="#285cab"/>
<circle cx="360.2" cy="380.4" r="2.2" fill="#173d77"/>
<circle cx="383.3" cy="344.5" r="2.2" fill="#173d77"/>
<circle cx="379.2" cy="310.1" r="2.2" fill="#173d77"/>
<circle cx="396.6" cy="306.2" r="2.2" fill="#173d77"/>
<circle cx="405.1" cy="310.6" r="2.2" fill="#173d77"/>
<circle cx="420.4" cy="308.4" r="2.2" fill="#173d77"/>
<circle cx="401.4" cy="349.4" r="2.2" fill="#173d77"/>
<circle cx="417.2" cy="347.0" r="2.2" fill="#173d77"/>
<circle cx="425.2" cy="348.9" r="2.2" fill="#173d77"/>
<circle cx="420.8" cy="360.3" r="2.2" fill="#173d77"/>
<circle cx="414.8" cy="368.8" r="4.8" fill="#285cab"/>
<circle cx="417.2" cy="373.6" r="2.7" fill="#184384"/>
<circle cx="343.3" cy="396.6" r="2.2" fill="#173d77"/>
<circle cx="345.7" cy="394.2" r="2.2" fill="#173d77"/>
<circle cx="350.6" cy="394.9" r="2.2" fill="#173d77"/>
<circle cx="362.2" cy="396.2" r="2.2" fill="#173d77"/>
<circle cx="362.2" cy="403.4" r="2.2" fill="#173d77"/>
<circle cx="343.3" cy="416.0" r="4.4" fill="#2358a5"/>
<circle cx="369.5" cy="414.3" r="3.6" fill="#1c509c"/>
<circle cx="360.7" cy="423.3" r="3.2" fill="#1a4a91"/>
<circle cx="350.6" cy="424.5" r="2.2" fill="#173d77"/>
<circle cx="349.3" cy="428.1" r="2.7" fill="#184384"/>
<circle cx="354.9" cy="429.8" r="2.2" fill="#173d77"/>
<circle cx="385.7" cy="427.7" r="4.1" fill="#2155a2"/>
<circle cx="265.7" cy="328.8" r="2.7" fill="#184384"/>
<circle cx="275.4" cy="336.0" r="3.2" fill="#1a4a91"/>
<circle cx="285.1" cy="331.2" r="2.7" fill="#184384"/>
<circle cx="292.4" cy="336.0" r="3.2" fill="#1a4a91"/>
<circle cx="299.7" cy="332.4" r="2.7" fill="#184384"/>
<circle cx="309.4" cy="333.6" r="3.2" fill="#1a4a91"/>
<circle cx="270.6" cy="367.6" r="3.2" fill="#1a4a91"/>
<circle cx="277.8" cy="377.3" r="2.7" fill="#184384"/>
<circle cx="287.5" cy="362.7" r="3.2" fill="#1a4a91"/>
<circle cx="297.2" cy="355.4" r="2.7" fill="#184384"/>
<circle cx="299.7" cy="372.4" r="3.2" fill="#1a4a91"/>
<circle cx="309.4" cy="362.7" r="3.2" fill="#1a4a91"/>
<circle cx="316.6" cy="367.6" r="2.7" fill="#184384"/>
<circle cx="260.9" cy="384.5" r="3.2" fill="#1a4a91"/>
<circle cx="273.0" cy="386.9" r="2.7" fill="#184384"/>
<circle cx="290.0" cy="386.9" r="3.2" fill="#1a4a91"/>
<circle cx="294.8" cy="384.5" r="3.6" fill="#1c509c"/>
<circle cx="304.5" cy="394.2" r="2.7" fill="#184384"/>
<circle cx="309.4" cy="389.4" r="2.7" fill="#184384"/>
<circle cx="314.2" cy="401.5" r="3.2" fill="#1a4a91"/>
<circle cx="306.9" cy="403.9" r="2.7" fill="#184384"/>
<circle cx="256.0" cy="406.3" r="3.2" fill="#1a4a91"/>
<circle cx="265.7" cy="399.1" r="3.6" fill="#1c509c"/>
<circle cx="275.4" cy="394.2" r="2.7" fill="#184384"/>
<circle cx="290.0" cy="403.9" r="3.6" fill="#1c509c"/>
<circle cx="299.7" cy="416.0" r="3.2" fill="#1a4a91"/>
<circle cx="306.9" cy="418.5" r="3.2" fill="#1a4a91"/>
<circle cx="241.5" cy="403.9" r="3.2" fill="#1a4a91"/>
<circle cx="239.1" cy="413.6" r="2.7" fill="#184384"/>
<circle cx="256.0" cy="416.0" r="2.2" fill="#173d77"/>
<circle cx="243.9" cy="304.5" r="2.7" fill="#184384"/>
<circle cx="260.9" cy="299.7" r="2.7" fill="#184384"/>
<circle cx="275.4" cy="299.7" r="2.7" fill="#184384"/>
<circle cx="287.5" cy="311.8" r="3.2" fill="#1a4a91"/>
<circle cx="280.3" cy="321.5" r="3.2" fill="#1a4a91"/>
<circle cx="265.7" cy="319.1" r="2.7" fill="#184384"/>
<circle cx="299.7" cy="314.2" r="3.2" fill="#1a4a91"/>
<circle cx="309.4" cy="321.5" r="2.7" fill="#184384"/>
<circle cx="314.2" cy="338.5" r="3.2" fill="#1a4a91"/>
<circle cx="321.5" cy="343.3" r="2.7" fill="#184384"/>
<circle cx="294.8" cy="345.7" r="3.2" fill="#1a4a91"/>
<circle cx="285.1" cy="350.6" r="2.7" fill="#184384"/>
<circle cx="275.4" cy="357.9" r="3.2" fill="#1a4a91"/>
<circle cx="265.7" cy="350.6" r="2.7" fill="#184384"/>
<circle cx="256.0" cy="353.0" r="3.2" fill="#1a4a91"/>
<circle cx="251.2" cy="372.4" r="3.2" fill="#1a4a91"/>
<circle cx="258.5" cy="379.7" r="2.7" fill="#184384"/>
<circle cx="268.1" cy="394.2" r="3.2" fill="#1a4a91"/>
<circle cx="280.3" cy="384.5" r="2.7" fill="#184384"/>
<circle cx="287.5" cy="396.6" r="3.2" fill="#1a4a91"/>
<circle cx="299.7" cy="399.1" r="2.7" fill="#184384"/>
<circle cx="297.2" cy="382.1" r="3.2" fill="#1a4a91"/>
<circle cx="314.2" cy="382.1" r="2.7" fill="#184384"/>
<circle cx="321.5" cy="386.9" r="3.2" fill="#1a4a91"/>
<circle cx="309.4" cy="411.2" r="2.7" fill="#184384"/>
<circle cx="251.2" cy="391.8" r="2.7" fill="#184384"/>
<circle cx="243.9" cy="391.8" r="3.2" fill="#1a4a91"/>
<circle cx="256.0" cy="399.1" r="2.7" fill="#184384"/>
</g>
<g>
<circle cx="749.6" cy="276.6" r="13.8" fill="#fef0e4" stroke="#e98a3d" stroke-width="1.1"/>
<circle cx="726.2" cy="198.8" r="13.8" fill="#fef0e4" stroke="#e98a3d" stroke-width="1.1"/>
<circle cx="718.7" cy="231.1" r="13.8" fill="#fef0e4" stroke="#e98a3d" stroke-width="1.1"/>
<circle cx="742.1" cy="243.7" r="13.8" fill="#fef0e4" stroke="#e98a3d" stroke-width="1.1"/>
<circle cx="743.6" cy="270.1" r="13.8" fill="#fef0e4" stroke="#e98a3d" stroke-width="1.1"/>
<circle cx="723.2" cy="290.1" r="13.8" fill="#fef0e4" stroke="#e98a3d" stroke-width="1.1"/>
<circle cx="750.5" cy="312.6" r="13.8" fill="#fef0e4" stroke="#e98a3d" stroke-width="1.1"/>
<circle cx="730.7" cy="330.5" r="13.8" fill="#fef0e4" stroke="#e98a3d" stroke-width="1.1"/>
<circle cx="726.2" cy="198.8" r="2.1" fill="#163c76"/>
<circle cx="718.7" cy="231.1" r="2.1" fill="#163c76"/>
<circle cx="742.1" cy="243.7" r="2.1" fill="#163c76"/>
<circle cx="723.2" cy="290.1" r="2.1" fill="#163c76"/>
<circle cx="730.7" cy="330.5" r="2.1" fill="#163c76"/>
<circle cx="743.6" cy="270.1" r="5.2" fill="#2b60af"/>
<circle cx="747.5" cy="274.0" r="2.8" fill="#184486"/>
<circle cx="750.5" cy="312.6" r="3.8" fill="#1e529e"/>
</g>
<g>
<circle cx="1203.6" cy="276.6" r="13.8" fill="#fef0e4" stroke="#e98a3d" stroke-width="1.1"/>
<circle cx="1180.2" cy="198.8" r="13.8" fill="#fef0e4" stroke="#e98a3d" stroke-width="1.1"/>
<circle cx="1172.7" cy="231.1" r="13.8" fill="#fef0e4" stroke="#e98a3d" stroke-width="1.1"/>
<circle cx="1196.1" cy="243.7" r="13.8" fill="#fef0e4" stroke="#e98a3d" stroke-width="1.1"/>
<circle cx="1197.6" cy="270.1" r="13.8" fill="#fef0e4" stroke="#e98a3d" stroke-width="1.1"/>
<circle cx="1177.2" cy="290.1" r="13.8" fill="#fef0e4" stroke="#e98a3d" stroke-width="1.1"/>
<circle cx="1204.5" cy="312.6" r="13.8" fill="#fef0e4" stroke="#e98a3d" stroke-width="1.1"/>
<circle cx="1184.7" cy="330.5" r="13.8" fill="#fef0e4" stroke="#e98a3d" stroke-width="1.1"/>
<circle cx="1216.9" cy="147.9" r="10.9" fill="#4075c4"/>
<circle cx="1206.0" cy="156.4" r="10.9" fill="#4075c4"/>
<circle cx="1254.5" cy="152.7" r="8.5" fill="#4075c4"/>
<circle cx="1184.2" cy="174.5" r="10.9" fill="#4075c4"/>
<circle cx="1195.1" cy="168.5" r="7.3" fill="#3e73c2"/>
<circle cx="1136.9" cy="191.5" r="10.9" fill="#4075c4"/>
<circle cx="1146.6" cy="180.6" r="7.3" fill="#3e73c2"/>
<circle cx="1238.7" cy="179.4" r="10.9" fill="#4075c4"/>
<circle cx="1258.1" cy="178.2" r="9.7" fill="#4075c4"/>
<circle cx="1258.1" cy="190.3" r="9.7" fill="#4075c4"/>
<circle cx="1219.4" cy="192.7" r="10.9" fill="#4075c4"/>
<circle cx="1223.0" cy="202.4" r="8.5" fill="#4075c4"/>
<circle cx="1170.9" cy="190.3" r="12.1" fill="#4075c4"/>
<circle cx="1163.6" cy="202.4" r="10.9" fill="#4075c4"/>
<circle cx="1175.7" cy="209.7" r="13.3" fill="#4075c4"/>
<circle cx="1158.8" cy="212.1" r="7.3" fill="#3e73c2"/>
<circle cx="1190.3" cy="221.8" r="12.1" fill="#4075c4"/>
<circle cx="1168.5" cy="226.6" r="10.9" fill="#4075c4"/>
<circle cx="1209.7" cy="221.8" r="10.9" fill="#4075c4"/>
<circle cx="1219.4" cy="231.5" r="10.9" fill="#4075c4"/>
<circle cx="1110.3" cy="221.8" r="10.2" fill="#4075c4"/>
<circle cx="1126.0" cy="213.3" r="7.3" fill="#3e73c2"/>
<circle cx="1143.0" cy="221.8" r="10.2" fill="#4075c4"/>
<circle cx="1144.2" cy="231.5" r="6.1" fill="#3368b8"/>
<circle cx="1097.0" cy="246.0" r="10.9" fill="#4075c4"/>
<circle cx="1104.2" cy="241.2" r="9.7" fill="#4075c4"/>
<circle cx="1117.6" cy="259.4" r="10.9" fill="#4075c4"/>
<circle cx="1126.0" cy="249.7" r="7.3" fill="#3e73c2"/>
<circle cx="1100.6" cy="270.3" r="7.3" fill="#3e73c2"/>
<circle cx="1160.0" cy="250.9" r="10.9" fill="#4075c4"/>
<circle cx="1153.9" cy="259.4" r="8.5" fill="#4075c4"/>
<circle cx="1185.4" cy="250.9" r="12.1" fill="#4075c4"/>
<circle cx="1204.8" cy="250.9" r="10.9" fill="#4075c4"/>
<circle cx="1224.2" cy="250.9" r="8.5" fill="#4075c4"/>
<circle cx="1243.6" cy="253.3" r="9.7" fill="#4075c4"/>
<circle cx="1248.4" cy="265.4" r="9.7" fill="#4075c4"/>
<circle cx="1158.8" cy="278.7" r="10.2" fill="#4075c4"/>
<circle cx="1150.3" cy="275.1" r="7.3" fill="#3e73c2"/>
<circle cx="1183.0" cy="280.0" r="9.7" fill="#4075c4"/>
<circle cx="1197.5" cy="275.1" r="8.5" fill="#4075c4"/>
<circle cx="1216.9" cy="275.1" r="7.3" fill="#3e73c2"/>
<circle cx="1247.2" cy="221.8" r="7.3" fill="#3e73c2"/>
<circle cx="1299.3" cy="206.0" r="7.3" fill="#3e73c2"/>
<circle cx="1307.8" cy="190.3" r="6.8" fill="#3a6fbe"/>
<circle cx="1321.1" cy="192.7" r="8.5" fill="#4075c4"/>
<circle cx="1322.4" cy="225.4" r="10.9" fill="#4075c4"/>
<circle cx="1254.5" cy="290.9" r="8.5" fill="#4075c4"/>
<circle cx="1163.6" cy="296.9" r="9.7" fill="#4075c4"/>
<circle cx="1190.3" cy="294.5" r="8.5" fill="#4075c4"/>
<circle cx="1209.7" cy="294.5" r="9.7" fill="#4075c4"/>
<circle cx="1163.6" cy="300.9" r="10.9" fill="#4075c4"/>
<circle cx="1158.8" cy="316.7" r="9.7" fill="#4075c4"/>
<circle cx="1178.1" cy="309.4" r="9.7" fill="#4075c4"/>
<circle cx="1197.5" cy="299.7" r="9.7" fill="#4075c4"/>
<circle cx="1214.5" cy="299.7" r="8.5" fill="#4075c4"/>
<circle cx="1185.4" cy="292.4" r="7.3" fill="#3e73c2"/>
<circle cx="1221.8" cy="323.9" r="8.5" fill="#4075c4"/>
<circle cx="1180.6" cy="328.8" r="10.9" fill="#4075c4"/>
<circle cx="1195.1" cy="328.8" r="8.5" fill="#4075c4"/>
<circle cx="1231.5" cy="340.9" r="8.5" fill="#4075c4"/>
<circle cx="1229.0" cy="353.0" r="9.7" fill="#4075c4"/>
<circle cx="1190.3" cy="353.0" r="10.9" fill="#4075c4"/>
<circle cx="1207.2" cy="355.4" r="9.7" fill="#4075c4"/>
<circle cx="1190.3" cy="365.1" r="7.3" fill="#3e73c2"/>
<circle cx="1209.7" cy="365.1" r="7.3" fill="#3e73c2"/>
<circle cx="1098.2" cy="306.5" r="6.5" fill="#376cbc"/>
<circle cx="1254.5" cy="293.6" r="8.5" fill="#4075c4"/>
<circle cx="1265.4" cy="336.0" r="6.8" fill="#3a6fbe"/>
<circle cx="1291.3" cy="344.0" r="7.3" fill="#3e73c2"/>
<circle cx="1322.4" cy="368.3" r="7.3" fill="#3e73c2"/>
<circle cx="1133.3" cy="354.2" r="8.5" fill="#4075c4"/>
<circle cx="1147.9" cy="365.1" r="6.1" fill="#3368b8"/>
<circle cx="1113.9" cy="348.2" r="5.3" fill="#2e63b3"/>
<circle cx="1135.7" cy="386.5" r="10.9" fill="#4075c4"/>
<circle cx="1076.4" cy="416.0" r="10.9" fill="#4075c4"/>
<circle cx="1178.1" cy="400.3" r="10.9" fill="#4075c4"/>
<circle cx="1202.4" cy="396.6" r="12.1" fill="#4075c4"/>
<circle cx="1233.9" cy="397.9" r="8.5" fill="#4075c4"/>
<circle cx="1200.0" cy="413.6" r="7.3" fill="#3e73c2"/>
<circle cx="1214.5" cy="416.0" r="6.1" fill="#3368b8"/>
<circle cx="1189.1" cy="431.8" r="10.9" fill="#4075c4"/>
<circle cx="1172.1" cy="377.3" r="6.1" fill="#3368b8"/>
<circle cx="1187.8" cy="382.1" r="6.8" fill="#3a6fbe"/>
<circle cx="1253.3" cy="393.0" r="5.3" fill="#2e63b3"/>
<circle cx="1208.3" cy="192.7" r="11.4" fill="#4075c4"/>
<circle cx="1225.4" cy="204.1" r="10.0" fill="#4075c4"/>
<circle cx="1162.7" cy="195.5" r="11.4" fill="#4075c4"/>
<circle cx="1174.1" cy="184.1" r="11.4" fill="#4075c4"/>
<circle cx="1162.7" cy="229.7" r="11.4" fill="#4075c4"/>
<circle cx="1179.8" cy="232.6" r="12.8" fill="#4075c4"/>
<circle cx="1202.6" cy="232.6" r="12.8" fill="#4075c4"/>
<circle cx="1157.0" cy="258.3" r="11.4" fill="#4075c4"/>
<circle cx="1174.1" cy="264.0" r="11.4" fill="#4075c4"/>
<circle cx="1208.3" cy="264.0" r="11.4" fill="#4075c4"/>
<circle cx="1225.4" cy="269.7" r="8.6" fill="#4075c4"/>
<circle cx="1162.7" cy="281.1" r="11.4" fill="#4075c4"/>
<circle cx="1196.9" cy="281.1" r="11.4" fill="#4075c4"/>
<circle cx="1219.7" cy="281.1" r="10.0" fill="#4075c4"/>
<circle cx="1162.7" cy="303.9" r="10.0" fill="#4075c4"/>
<circle cx="1179.8" cy="309.6" r="10.0" fill="#4075c4"/>
<circle cx="1202.6" cy="309.6" r="11.4" fill="#4075c4"/>
<circle cx="1219.7" cy="309.6" r="10.0" fill="#4075c4"/>
<circle cx="1174.1" cy="332.4" r="10.0" fill="#4075c4"/>
<circle cx="1202.6" cy="332.4" r="12.8" fill="#4075c4"/>
<circle cx="1225.4" cy="338.1" r="10.0" fill="#4075c4"/>
<circle cx="1185.5" cy="355.2" r="11.4" fill="#4075c4"/>
<circle cx="1208.3" cy="355.2" r="12.8" fill="#4075c4"/>
<circle cx="1228.2" cy="352.3" r="10.0" fill="#4075c4"/>
<circle cx="1174.1" cy="372.3" r="8.6" fill="#4075c4"/>
<circle cx="1196.9" cy="375.1" r="11.4" fill="#4075c4"/>
<circle cx="1219.7" cy="372.3" r="8.6" fill="#4075c4"/>
<circle cx="1162.7" cy="389.4" r="8.6" fill="#4075c4"/>
<circle cx="1188.3" cy="383.7" r="8.6" fill="#4075c4"/>
<circle cx="1128.4" cy="352.3" r="7.1" fill="#3d72c1"/>
<circle cx="1145.6" cy="360.9" r="7.1" fill="#3d72c1"/>
<circle cx="1239.6" cy="226.9" r="8.6" fill="#4075c4"/>
<circle cx="1245.3" cy="258.3" r="10.0" fill="#4075c4"/>
<circle cx="1216.9" cy="130.4" r="2.2" fill="#173d77"/>
<circle cx="1229.0" cy="134.1" r="2.2" fill="#173d77"/>
<circle cx="1202.4" cy="143.5" r="4.4" fill="#2358a5"/>
<circle cx="1227.8" cy="152.7" r="2.2" fill="#173d77"/>
<circle cx="1244.8" cy="155.1" r="2.7" fill="#184384"/>
<circle cx="1138.2" cy="160.7" r="4.1" fill="#2155a2"/>
<circle cx="1162.4" cy="155.1" r="2.7" fill="#184384"/>
<circle cx="1160.0" cy="162.4" r="2.2" fill="#173d77"/>
<circle cx="1119.5" cy="172.8" r="2.2" fill="#173d77"/>
<circle cx="1180.1" cy="160.0" r="3.2" fill="#1a4a91"/>
<circle cx="1187.4" cy="160.0" r="3.2" fill="#1a4a91"/>
<circle cx="1175.7" cy="164.8" r="2.2" fill="#173d77"/>
<circle cx="1172.1" cy="172.1" r="2.2" fill="#173d77"/>
<circle cx="1180.6" cy="174.5" r="3.2" fill="#1a4a91"/>
<circle cx="1160.0" cy="177.0" r="2.2" fill="#173d77"/>
<circle cx="1160.0" cy="184.2" r="3.2" fill="#1a4a91"/>
<circle cx="1151.5" cy="181.8" r="3.2" fill="#1a4a91"/>
<circle cx="1146.6" cy="173.3" r="2.2" fill="#173d77"/>
<circle cx="1198.7" cy="183.0" r="3.6" fill="#1c509c"/>
<circle cx="1206.0" cy="178.2" r="2.2" fill="#173d77"/>
<circle cx="1219.4" cy="180.6" r="3.6" fill="#1c509c"/>
<circle cx="1225.4" cy="184.2" r="2.7" fill="#184384"/>
<circle cx="1219.4" cy="166.0" r="2.2" fill="#173d77"/>
<circle cx="1226.6" cy="167.3" r="2.2" fill="#173d77"/>
<circle cx="1232.7" cy="166.0" r="2.2" fill="#173d77"/>
<circle cx="1240.0" cy="164.8" r="2.2" fill="#173d77"/>
<circle cx="1226.6" cy="174.5" r="2.7" fill="#184384"/>
<circle cx="1265.4" cy="169.7" r="2.2" fill="#173d77"/>
<circle cx="1265.4" cy="180.6" r="3.6" fill="#1c509c"/>
<circle cx="1270.2" cy="186.7" r="2.7" fill="#184384"/>
<circle cx="1253.3" cy="184.2" r="2.2" fill="#173d77"/>
<circle cx="1254.5" cy="190.3" r="2.7" fill="#184384"/>
<circle cx="1256.9" cy="201.2" r="2.2" fill="#173d77"/>
<circle cx="1265.4" cy="201.2" r="2.7" fill="#184384"/>
<circle cx="1244.8" cy="198.8" r="2.2" fill="#173d77"/>
<circle cx="1233.9" cy="193.9" r="2.2" fill="#173d77"/>
<circle cx="1192.7" cy="190.3" r="2.7" fill="#184384"/>
<circle cx="1198.7" cy="192.7" r="2.7" fill="#184384"/>
<circle cx="1204.8" cy="193.9" r="3.6" fill="#1c509c"/>
<circle cx="1200.0" cy="200.0" r="3.2" fill="#1a4a91"/>
<circle cx="1204.8" cy="204.8" r="3.2" fill="#1a4a91"/>
<circle cx="1209.7" cy="212.1" r="2.7" fill="#184384"/>
<circle cx="1175.7" cy="192.7" r="3.2" fill="#1a4a91"/>
<circle cx="1185.4" cy="200.0" r="2.7" fill="#184384"/>
<circle cx="1178.1" cy="206.0" r="2.7" fill="#184384"/>
<circle cx="1187.8" cy="219.4" r="3.6" fill="#1c509c"/>
<circle cx="1195.1" cy="216.9" r="2.7" fill="#184384"/>
<circle cx="1080.0" cy="196.3" r="2.2" fill="#173d77"/>
<circle cx="1088.0" cy="198.8" r="2.2" fill="#173d77"/>
<circle cx="1078.8" cy="202.4" r="2.2" fill="#173d77"/>
<circle cx="1078.8" cy="210.4" r="2.2" fill="#173d77"/>
<circle cx="1095.3" cy="218.2" r="2.2" fill="#173d77"/>
<circle cx="1101.1" cy="210.9" r="4.8" fill="#285cab"/>
<circle cx="1106.7" cy="227.9" r="2.7" fill="#184384"/>
<circle cx="1075.9" cy="233.9" r="3.2" fill="#1a4a91"/>
<circle cx="1057.5" cy="233.9" r="2.2" fill="#173d77"/>
<circle cx="1077.6" cy="249.2" r="2.2" fill="#173d77"/>
<circle cx="1127.3" cy="230.3" r="2.2" fill="#173d77"/>
<circle cx="1129.7" cy="238.8" r="3.2" fill="#1a4a91"/>
<circle cx="1139.4" cy="233.9" r="2.7" fill="#184384"/>
<circle cx="1136.9" cy="246.0" r="3.2" fill="#1a4a91"/>
<circle cx="1132.1" cy="252.1" r="3.2" fill="#1a4a91"/>
<circle cx="1132.1" cy="260.6" r="2.2" fill="#173d77"/>
<circle cx="1141.8" cy="248.5" r="2.2" fill="#173d77"/>
<circle cx="1146.6" cy="248.5" r="2.7" fill="#184384"/>
<circle cx="1156.3" cy="236.3" r="2.7" fill="#184384"/>
<circle cx="1166.0" cy="246.0" r="2.7" fill="#184384"/>
<circle cx="1170.9" cy="233.9" r="3.2" fill="#1a4a91"/>
<circle cx="1175.7" cy="238.8" r="2.7" fill="#184384"/>
<circle cx="1185.4" cy="241.2" r="3.2" fill="#1a4a91"/>
<circle cx="1158.8" cy="212.1" r="4.8" fill="#285cab"/>
<circle cx="1164.8" cy="225.4" r="2.7" fill="#184384"/>
<circle cx="1233.9" cy="208.5" r="2.2" fill="#173d77"/>
<circle cx="1247.2" cy="209.7" r="2.2" fill="#173d77"/>
<circle cx="1253.3" cy="213.3" r="2.2" fill="#173d77"/>
<circle cx="1269.8" cy="210.2" r="2.2" fill="#173d77"/>
<circle cx="1261.8" cy="219.4" r="2.2" fill="#173d77"/>
<circle cx="1274.6" cy="226.2" r="3.6" fill="#1c509c"/>
<circle cx="1219.4" cy="219.4" r="3.6" fill="#1c509c"/>
<circle cx="1226.6" cy="220.6" r="3.2" fill="#1a4a91"/>
<circle cx="1233.9" cy="221.8" r="2.7" fill="#184384"/>
<circle cx="1241.2" cy="226.6" r="2.7" fill="#184384"/>
<circle cx="1246.0" cy="230.3" r="3.6" fill="#1c509c"/>
<circle cx="1250.9" cy="236.3" r="3.2" fill="#1a4a91"/>
<circle cx="1255.7" cy="241.2" r="3.2" fill="#1a4a91"/>
<circle cx="1263.0" cy="241.2" r="2.7" fill="#184384"/>
<circle cx="1241.2" cy="236.3" r="2.7" fill="#184384"/>
<circle cx="1236.3" cy="233.9" r="2.2" fill="#173d77"/>
<circle cx="1232.7" cy="242.4" r="2.7" fill="#184384"/>
<circle cx="1231.5" cy="250.9" r="3.2" fill="#1a4a91"/>
<circle cx="1229.0" cy="258.1" r="2.7" fill="#184384"/>
<circle cx="1214.5" cy="255.7" r="3.2" fill="#1a4a91"/>
<circle cx="1207.2" cy="252.1" r="4.4" fill="#2358a5"/>
<circle cx="1197.5" cy="246.0" r="3.2" fill="#1a4a91"/>
<circle cx="1195.1" cy="258.1" r="3.2" fill="#1a4a91"/>
<circle cx="1185.4" cy="258.1" r="3.2" fill="#1a4a91"/>
<circle cx="1266.6" cy="256.9" r="4.1" fill="#2155a2"/>
<circle cx="1256.9" cy="252.1" r="2.7" fill="#184384"/>
<circle cx="1253.3" cy="270.3" r="2.2" fill="#173d77"/>
<circle cx="1283.6" cy="237.1" r="2.2" fill="#173d77"/>
<circle cx="1293.3" cy="241.9" r="2.2" fill="#173d77"/>
<circle cx="1290.8" cy="227.9" r="2.2" fill="#173d77"/>
<circle cx="1296.2" cy="218.6" r="2.2" fill="#173d77"/>
<circle cx="1311.0" cy="215.0" r="2.2" fill="#173d77"/>
<circle cx="1317.5" cy="208.0" r="3.2" fill="#1a4a91"/>
<circle cx="1306.1" cy="176.2" r="2.2" fill="#173d77"/>
<circle cx="1304.2" cy="191.5" r="3.6" fill="#1c509c"/>
<circle cx="1338.1" cy="218.2" r="2.2" fill="#173d77"/>
<circle cx="1341.7" cy="212.6" r="2.2" fill="#173d77"/>
<circle cx="1335.2" cy="226.6" r="2.2" fill="#173d77"/>
<circle cx="1319.9" cy="244.1" r="2.2" fill="#173d77"/>
<circle cx="1341.7" cy="239.2" r="2.2" fill="#173d77"/>
<circle cx="1343.0" cy="245.3" r="2.2" fill="#173d77"/>
<circle cx="1354.6" cy="238.3" r="2.2" fill="#173d77"/>
<circle cx="1333.3" cy="256.9" r="2.2" fill="#173d77"/>
<circle cx="1310.2" cy="255.7" r="4.1" fill="#2155a2"/>
<circle cx="1290.1" cy="254.5" r="2.2" fill="#173d77"/>
<circle cx="1299.8" cy="262.5" r="2.2" fill="#173d77"/>
<circle cx="1306.6" cy="271.5" r="2.2" fill="#173d77"/>
<circle cx="1316.3" cy="276.3" r="2.2" fill="#173d77"/>
<circle cx="1286.0" cy="272.7" r="2.2" fill="#173d77"/>
<circle cx="1299.3" cy="277.5" r="2.2" fill="#173d77"/>
<circle cx="1300.5" cy="282.4" r="2.2" fill="#173d77"/>
<circle cx="1300.5" cy="286.7" r="2.2" fill="#173d77"/>
<circle cx="1272.2" cy="280.0" r="2.7" fill="#184384"/>
<circle cx="1265.4" cy="290.9" r="2.2" fill="#173d77"/>
<circle cx="1249.6" cy="280.0" r="2.2" fill="#173d77"/>
<circle cx="1099.4" cy="288.4" r="3.6" fill="#1c509c"/>
<circle cx="1098.2" cy="294.0" r="3.6" fill="#1c509c"/>
<circle cx="1102.5" cy="286.7" r="2.2" fill="#173d77"/>
<circle cx="1110.3" cy="287.7" r="2.2" fill="#173d77"/>
<circle cx="1120.0" cy="277.1" r="2.2" fill="#173d77"/>
<circle cx="1124.8" cy="284.8" r="2.2" fill="#173d77"/>
<circle cx="1099.4" cy="280.0" r="2.2" fill="#173d77"/>
<circle cx="1139.4" cy="289.7" r="2.2" fill="#173d77"/>
<circle cx="1140.6" cy="272.2" r="2.2" fill="#173d77"/>
<circle cx="1147.9" cy="264.2" r="2.2" fill="#173d77"/>
<circle cx="1166.0" cy="263.0" r="2.7" fill="#184384"/>
<circle cx="1175.7" cy="265.4" r="3.2" fill="#1a4a91"/>
<circle cx="1190.3" cy="267.8" r="3.2" fill="#1a4a91"/>
<circle cx="1200.0" cy="267.8" r="3.2" fill="#1a4a91"/>
<circle cx="1209.7" cy="265.4" r="3.2" fill="#1a4a91"/>
<circle cx="1221.8" cy="267.8" r="3.2" fill="#1a4a91"/>
<circle cx="1229.0" cy="265.4" r="3.2" fill="#1a4a91"/>
<circle cx="1233.9" cy="275.1" r="3.2" fill="#1a4a91"/>
<circle cx="1229.0" cy="282.4" r="2.7" fill="#184384"/>
<circle cx="1209.7" cy="280.0" r="3.2" fill="#1a4a91"/>
<circle cx="1200.0" cy="284.8" r="3.2" fill="#1a4a91"/>
<circle cx="1190.3" cy="289.7" r="2.7" fill="#184384"/>
<circle cx="1175.7" cy="289.7" r="2.7" fill="#184384"/>
<circle cx="1214.5" cy="289.7" r="3.2" fill="#1a4a91"/>
<circle cx="1224.2" cy="287.2" r="2.7" fill="#184384"/>
<circle cx="1073.9" cy="305.0" r="2.2" fill="#173d77"/>
<circle cx="1080.0" cy="307.5" r="2.2" fill="#173d77"/>
<circle cx="1088.5" cy="307.5" r="2.2" fill="#173d77"/>
<circle cx="1092.1" cy="313.0" r="2.7" fill="#184384"/>
<circle cx="1088.5" cy="316.2" r="2.2" fill="#173d77"/>
<circle cx="1099.4" cy="293.6" r="3.6" fill="#1c509c"/>
<circle cx="1111.5" cy="305.8" r="2.7" fill="#184384"/>
<circle cx="1113.9" cy="308.2" r="2.7" fill="#184384"/>
<circle cx="1124.8" cy="302.1" r="2.2" fill="#173d77"/>
<circle cx="1134.5" cy="302.1" r="2.2" fill="#173d77"/>
<circle cx="1128.5" cy="309.4" r="3.2" fill="#1a4a91"/>
<circle cx="1127.3" cy="315.4" r="2.2" fill="#173d77"/>
<circle cx="1138.2" cy="290.0" r="2.7" fill="#184384"/>
<circle cx="1144.2" cy="317.9" r="2.2" fill="#173d77"/>
<circle cx="1112.7" cy="325.1" r="2.2" fill="#173d77"/>
<circle cx="1115.1" cy="333.6" r="2.2" fill="#173d77"/>
<circle cx="1124.8" cy="336.0" r="2.7" fill="#184384"/>
<circle cx="1129.7" cy="339.7" r="3.2" fill="#1a4a91"/>
<circle cx="1134.5" cy="340.9" r="2.7" fill="#184384"/>
<circle cx="1139.4" cy="344.5" r="2.2" fill="#173d77"/>
<circle cx="1099.4" cy="348.2" r="2.7" fill="#184384"/>
<circle cx="1100.6" cy="361.5" r="2.2" fill="#173d77"/>
<circle cx="1122.4" cy="357.9" r="4.4" fill="#2358a5"/>
<circle cx="1126.0" cy="348.2" r="2.7" fill="#184384"/>
<circle cx="1141.8" cy="353.0" r="3.6" fill="#1c509c"/>
<circle cx="1149.1" cy="355.4" r="3.6" fill="#1c509c"/>
<circle cx="1153.9" cy="362.7" r="3.2" fill="#1a4a91"/>
<circle cx="1158.8" cy="360.3" r="2.7" fill="#184384"/>
<circle cx="1153.9" cy="334.8" r="3.6" fill="#1c509c"/>
<circle cx="1157.5" cy="345.7" r="2.2" fill="#173d77"/>
<circle cx="1163.6" cy="351.8" r="3.6" fill="#1c509c"/>
<circle cx="1166.0" cy="336.0" r="2.7" fill="#184384"/>
<circle cx="1113.9" cy="373.1" r="2.2" fill="#173d77"/>
<circle cx="1092.1" cy="378.0" r="2.2" fill="#173d77"/>
<circle cx="1097.0" cy="384.5" r="2.2" fill="#173d77"/>
<circle cx="1110.8" cy="393.7" r="2.2" fill="#173d77"/>
<circle cx="1098.2" cy="402.7" r="2.7" fill="#184384"/>
<circle cx="1095.7" cy="403.9" r="2.2" fill="#173d77"/>
<circle cx="1138.2" cy="372.4" r="2.2" fill="#173d77"/>
<circle cx="1147.9" cy="388.2" r="2.2" fill="#173d77"/>
<circle cx="1153.9" cy="379.7" r="2.7" fill="#184384"/>
<circle cx="1160.0" cy="373.6" r="3.2" fill="#1a4a91"/>
<circle cx="1161.2" cy="383.3" r="3.2" fill="#1a4a91"/>
<circle cx="1153.9" cy="394.2" r="2.2" fill="#173d77"/>
<circle cx="1158.8" cy="389.4" r="2.7" fill="#184384"/>
<circle cx="1163.6" cy="393.0" r="3.6" fill="#1c509c"/>
<circle cx="1160.0" cy="400.3" r="2.7" fill="#184384"/>
<circle cx="1127.3" cy="402.7" r="2.2" fill="#173d77"/>
<circle cx="1128.5" cy="416.0" r="2.2" fill="#173d77"/>
<circle cx="1146.6" cy="403.9" r="2.2" fill="#173d77"/>
<circle cx="1152.7" cy="410.0" r="2.2" fill="#173d77"/>
<circle cx="1153.9" cy="420.9" r="2.2" fill="#173d77"/>
<circle cx="1156.3" cy="430.6" r="2.2" fill="#173d77"/>
<circle cx="1149.1" cy="437.8" r="2.2" fill="#173d77"/>
<circle cx="1156.3" cy="437.8" r="2.2" fill="#173d77"/>
<circle cx="1158.8" cy="425.7" r="2.2" fill="#173d77"/>
<circle cx="1166.0" cy="411.2" r="3.6" fill="#1c509c"/>
<circle cx="1167.2" cy="418.5" r="2.7" fill="#184384"/>
<circle cx="1170.9" cy="423.3" r="2.7" fill="#184384"/>
<circle cx="1172.1" cy="428.1" r="2.2" fill="#173d77"/>
<circle cx="1130.4" cy="434.2" r="2.2" fill="#173d77"/>
<circle cx="1147.4" cy="448.7" r="2.2" fill="#173d77"/>
<circle cx="1184.9" cy="469.8" r="2.2" fill="#173d77"/>
<circle cx="1187.4" cy="456.0" r="2.2" fill="#173d77"/>
<circle cx="1180.6" cy="423.3" r="3.2" fill="#1a4a91"/>
<circle cx="1187.8" cy="416.0" r="2.2" fill="#173d77"/>
<circle cx="1177.7" cy="435.4" r="2.2" fill="#173d77"/>
<circle cx="1204.8" cy="447.1" r="4.8" fill="#285cab"/>
<circle cx="1209.7" cy="441.5" r="2.2" fill="#173d77"/>
<circle cx="1215.2" cy="452.4" r="3.6" fill="#1c509c"/>
<circle cx="1212.1" cy="428.6" r="2.2" fill="#173d77"/>
<circle cx="1223.0" cy="424.5" r="2.2" fill="#173d77"/>
<circle cx="1226.1" cy="431.8" r="2.2" fill="#173d77"/>
<circle cx="1220.6" cy="401.5" r="3.6" fill="#1c509c"/>
<circle cx="1225.4" cy="407.5" r="2.2" fill="#173d77"/>
<circle cx="1218.1" cy="394.2" r="2.2" fill="#173d77"/>
<circle cx="1224.2" cy="384.5" r="2.2" fill="#173d77"/>
<circle cx="1229.0" cy="377.3" r="3.2" fill="#1a4a91"/>
<circle cx="1235.1" cy="381.6" r="2.7" fill="#184384"/>
<circle cx="1244.8" cy="380.9" r="3.2" fill="#1a4a91"/>
<circle cx="1235.8" cy="374.8" r="2.2" fill="#173d77"/>
<circle cx="1235.8" cy="367.1" r="2.7" fill="#184384"/>
<circle cx="1243.6" cy="362.7" r="3.2" fill="#1a4a91"/>
<circle cx="1246.0" cy="362.7" r="2.2" fill="#173d77"/>
<circle cx="1219.4" cy="365.1" r="3.2" fill="#1a4a91"/>
<circle cx="1224.2" cy="372.4" r="2.2" fill="#173d77"/>
<circle cx="1216.9" cy="374.8" r="2.7" fill="#184384"/>
<circle cx="1207.2" cy="377.3" r="4.8" fill="#285cab"/>
<circle cx="1185.4" cy="374.8" r="3.6" fill="#1c509c"/>
<circle cx="1195.1" cy="372.4" r="2.7" fill="#184384"/>
<circle cx="1175.7" cy="370.0" r="3.2" fill="#1a4a91"/>
<circle cx="1173.3" cy="360.3" r="4.8" fill="#285cab"/>
<circle cx="1180.6" cy="362.7" r="3.6" fill="#1c509c"/>
<circle cx="1185.4" cy="391.8" r="3.6" fill="#1c509c"/>
<circle cx="1178.1" cy="394.2" r="3.2" fill="#1a4a91"/>
<circle cx="1185.4" cy="403.9" r="2.7" fill="#184384"/>
<circle cx="1195.1" cy="401.5" r="3.2" fill="#1a4a91"/>
<circle cx="1250.9" cy="416.0" r="2.2" fill="#173d77"/>
<circle cx="1259.3" cy="423.3" r="2.2" fill="#173d77"/>
<circle cx="1256.9" cy="428.1" r="2.2" fill="#173d77"/>
<circle cx="1262.5" cy="429.8" r="2.2" fill="#173d77"/>
<circle cx="1268.3" cy="423.3" r="2.2" fill="#173d77"/>
<circle cx="1277.0" cy="414.3" r="2.2" fill="#173d77"/>
<circle cx="1269.8" cy="403.4" r="2.2" fill="#173d77"/>
<circle cx="1269.8" cy="396.2" r="2.2" fill="#173d77"/>
<circle cx="1268.6" cy="380.4" r="2.2" fill="#173d77"/>
<circle cx="1293.3" cy="427.7" r="2.2" fill="#173d77"/>
<circle cx="1247.5" cy="448.7" r="2.2" fill="#173d77"/>
<circle cx="1254.5" cy="447.1" r="2.2" fill="#173d77"/>
<circle cx="1286.5" cy="310.1" r="4.4" fill="#2358a5"/>
<circle cx="1303.7" cy="306.2" r="2.2" fill="#173d77"/>
<circle cx="1312.7" cy="310.6" r="2.2" fill="#173d77"/>
<circle cx="1327.9" cy="308.4" r="2.2" fill="#173d77"/>
<circle cx="1308.5" cy="349.4" r="2.2" fill="#173d77"/>
<circle cx="1324.8" cy="347.0" r="2.2" fill="#173d77"/>
<circle cx="1332.1" cy="348.9" r="2.2" fill="#173d77"/>
<circle cx="1328.4" cy="360.3" r="2.2" fill="#173d77"/>
<circle cx="1285.5" cy="371.9" r="2.7" fill="#184384"/>
<circle cx="1274.6" cy="358.3" r="2.2" fill="#173d77"/>
<circle cx="1279.5" cy="360.3" r="2.2" fill="#173d77"/>
<circle cx="1266.6" cy="351.8" r="3.6" fill="#1c509c"/>
<circle cx="1254.5" cy="342.1" r="2.2" fill="#173d77"/>
<circle cx="1262.5" cy="367.6" r="2.2" fill="#173d77"/>
<circle cx="1341.0" cy="389.4" r="2.2" fill="#173d77"/>
<circle cx="1257.6" cy="307.5" r="3.6" fill="#1c509c"/>
<circle cx="1250.9" cy="312.3" r="2.2" fill="#173d77"/>
<circle cx="1259.3" cy="318.6" r="2.2" fill="#173d77"/>
<circle cx="1265.9" cy="315.4" r="2.2" fill="#173d77"/>
<circle cx="1242.4" cy="320.3" r="5.3" fill="#2c61b1"/>
<circle cx="1238.7" cy="330.0" r="2.2" fill="#173d77"/>
<circle cx="1232.7" cy="315.4" r="3.2" fill="#1a4a91"/>
<circle cx="1236.3" cy="309.4" r="2.7" fill="#184384"/>
<circle cx="1226.6" cy="308.2" r="3.2" fill="#1a4a91"/>
<circle cx="1235.1" cy="302.1" r="2.7" fill="#184384"/>
<circle cx="1226.6" cy="293.6" r="2.7" fill="#184384"/>
<circle cx="1244.8" cy="293.6" r="2.2" fill="#173d77"/>
<circle cx="1209.7" cy="319.1" r="3.2" fill="#1a4a91"/>
<circle cx="1204.8" cy="326.4" r="3.2" fill="#1a4a91"/>
<circle cx="1209.7" cy="336.0" r="3.6" fill="#1c509c"/>
<circle cx="1200.0" cy="340.9" r="3.2" fill="#1a4a91"/>
<circle cx="1214.5" cy="345.7" r="3.2" fill="#1a4a91"/>
<circle cx="1219.4" cy="338.5" r="2.7" fill="#184384"/>
<circle cx="1200.0" cy="314.2" r="3.2" fill="#1a4a91"/>
<circle cx="1190.3" cy="311.8" r="3.2" fill="#1a4a91"/>
<circle cx="1170.9" cy="321.5" r="2.7" fill="#184384"/>
<circle cx="1166.0" cy="331.2" r="3.2" fill="#1a4a91"/>
<circle cx="1175.7" cy="338.5" r="3.2" fill="#1a4a91"/>
<circle cx="1185.4" cy="340.9" r="3.6" fill="#1c509c"/>
<circle cx="1200.0" cy="350.6" r="2.7" fill="#184384"/>
<circle cx="1214.5" cy="357.9" r="3.2" fill="#1a4a91"/>
<circle cx="1224.2" cy="362.7" r="2.7" fill="#184384"/>
<circle cx="1243.6" cy="397.1" r="2.5" fill="#184180"/>
<circle cx="1155.0" cy="260.0" r="2.8" fill="#194588"/>
<circle cx="1221.1" cy="332.1" r="3.1" fill="#1a498f"/>
<circle cx="1171.5" cy="225.2" r="2.5" fill="#184180"/>
<circle cx="1205.1" cy="212.6" r="3.4" fill="#1b4d97"/>
<circle cx="1211.1" cy="363.5" r="3.7" fill="#1d519c"/>
<circle cx="1243.1" cy="302.7" r="3.4" fill="#1b4d97"/>
<circle cx="1197.2" cy="386.3" r="2.5" fill="#184180"/>
<circle cx="1182.9" cy="393.4" r="3.4" fill="#1b4d97"/>
<circle cx="1188.9" cy="382.3" r="2.8" fill="#194588"/>
<circle cx="1203.1" cy="230.9" r="2.5" fill="#184180"/>
<circle cx="1163.8" cy="216.1" r="3.7" fill="#1d519c"/>
<circle cx="1198.0" cy="409.1" r="3.7" fill="#1d519c"/>
<circle cx="1164.1" cy="384.6" r="3.4" fill="#1b4d97"/>
<circle cx="1220.8" cy="387.4" r="3.1" fill="#1a498f"/>
<circle cx="1226.5" cy="258.3" r="3.4" fill="#1b4d97"/>
<circle cx="1162.1" cy="351.8" r="3.4" fill="#1b4d97"/>
<circle cx="1212.8" cy="234.0" r="3.1" fill="#1a498f"/>
<circle cx="1240.5" cy="292.8" r="3.1" fill="#1a498f"/>
<circle cx="1213.4" cy="281.9" r="3.4" fill="#1b4d97"/>
<circle cx="1181.5" cy="345.2" r="3.7" fill="#1d519c"/>
<circle cx="1220.0" cy="289.3" r="2.8" fill="#194588"/>
<circle cx="1242.2" cy="366.0" r="2.8" fill="#194588"/>
<circle cx="1235.6" cy="319.6" r="3.4" fill="#1b4d97"/>
<circle cx="1177.2" cy="399.4" r="3.7" fill="#1d519c"/>
<circle cx="1203.1" cy="294.2" r="3.7" fill="#1d519c"/>
<circle cx="1206.0" cy="248.6" r="2.8" fill="#194588"/>
<circle cx="1195.7" cy="261.4" r="3.7" fill="#1d519c"/>
<circle cx="1236.2" cy="358.9" r="3.1" fill="#1a498f"/>
<circle cx="1220.0" cy="387.7" r="2.8" fill="#194588"/>
<circle cx="1247.9" cy="200.4" r="3.7" fill="#1d519c"/>
<circle cx="1212.6" cy="239.4" r="2.8" fill="#194588"/>
<circle cx="1215.7" cy="389.7" r="3.7" fill="#1d519c"/>
<circle cx="1159.5" cy="237.7" r="2.8" fill="#194588"/>
<circle cx="1242.5" cy="189.8" r="2.5" fill="#184180"/>
<circle cx="1151.3" cy="259.7" r="2.8" fill="#194588"/>
<circle cx="1214.5" cy="195.0" r="2.5" fill="#184180"/>
<circle cx="1148.1" cy="346.1" r="2.5" fill="#184180"/>
<circle cx="1183.8" cy="205.5" r="2.8" fill="#194588"/>
<circle cx="1221.1" cy="297.9" r="2.5" fill="#184180"/>
<circle cx="1185.2" cy="185.6" r="2.8" fill="#194588"/>
<circle cx="1161.2" cy="184.1" r="3.1" fill="#1a498f"/>
<circle cx="1241.9" cy="322.4" r="2.5" fill="#184180"/>
<circle cx="1174.9" cy="289.9" r="3.1" fill="#1a498f"/>
<circle cx="1191.7" cy="354.6" r="2.5" fill="#184180"/>
<circle cx="1238.2" cy="352.3" r="3.7" fill="#1d519c"/>
<circle cx="1218.0" cy="286.2" r="2.8" fill="#194588"/>
<circle cx="1155.2" cy="336.4" r="2.5" fill="#184180"/>
<circle cx="1148.1" cy="359.8" r="2.8" fill="#194588"/>
<circle cx="1198.9" cy="358.0" r="3.4" fill="#1b4d97"/>
<circle cx="1198.3" cy="209.2" r="3.1" fill="#1a498f"/>
<circle cx="1172.1" cy="317.3" r="3.4" fill="#1b4d97"/>
<circle cx="1212.6" cy="339.2" r="2.8" fill="#194588"/>
<circle cx="1214.3" cy="234.6" r="2.8" fill="#194588"/>
<circle cx="1162.1" cy="198.1" r="2.8" fill="#194588"/>
<circle cx="1197.7" cy="405.4" r="2.5" fill="#184180"/>
<circle cx="1247.6" cy="230.0" r="3.4" fill="#1b4d97"/>
<circle cx="1153.0" cy="194.4" r="2.8" fill="#194588"/>
<circle cx="1209.7" cy="362.6" r="3.1" fill="#1a498f"/>
<circle cx="1171.8" cy="274.5" r="3.7" fill="#1d519c"/>
</g>
<g>
<circle cx="272.3" cy="652.7" r="13.8" fill="#fef0e4" stroke="#e98a3d" stroke-width="1.1"/>
<circle cx="264.0" cy="685.4" r="13.3" fill="#fef0e4" stroke="#e98a3d" stroke-width="1.1"/>
<circle cx="290.0" cy="693.9" r="10.9" fill="#fef0e4" stroke="#e98a3d" stroke-width="1.1"/>
<circle cx="291.2" cy="723.0" r="15.8" fill="#fef0e4" stroke="#e98a3d" stroke-width="1.1"/>
<circle cx="299.7" cy="756.9" r="9.7" fill="#fef0e4" stroke="#e98a3d" stroke-width="1.1"/>
<circle cx="277.4" cy="604.2" r="10.9" fill="#3db54a"/>
<circle cx="249.5" cy="632.1" r="7.3" fill="#3bb249"/>
<circle cx="218.5" cy="638.7" r="5.3" fill="#2a9a43"/>
<circle cx="262.1" cy="626.0" r="4.4" fill="#2a9a43"/>
<circle cx="300.1" cy="629.2" r="5.3" fill="#2a9a43"/>
<circle cx="302.1" cy="652.7" r="9.7" fill="#3db54a"/>
<circle cx="310.6" cy="650.3" r="6.1" fill="#2fa245"/>
<circle cx="309.4" cy="644.2" r="4.8" fill="#2a9a43"/>
<circle cx="178.0" cy="663.6" r="5.3" fill="#2a9a43"/>
<circle cx="186.2" cy="680.1" r="5.3" fill="#2a9a43"/>
<circle cx="236.6" cy="672.1" r="9.7" fill="#3db54a"/>
<circle cx="243.9" cy="663.6" r="6.1" fill="#2fa245"/>
<circle cx="250.0" cy="666.0" r="6.1" fill="#2fa245"/>
<circle cx="221.6" cy="685.4" r="8.0" fill="#3db54a"/>
<circle cx="234.2" cy="693.9" r="6.1" fill="#2fa245"/>
<circle cx="273.0" cy="689.1" r="7.3" fill="#3bb249"/>
<circle cx="311.8" cy="697.5" r="13.3" fill="#3db54a"/>
<circle cx="299.7" cy="701.2" r="9.7" fill="#3db54a"/>
<circle cx="216.0" cy="714.5" r="10.9" fill="#3db54a"/>
<circle cx="197.9" cy="725.4" r="7.3" fill="#3bb249"/>
<circle cx="220.9" cy="731.5" r="7.3" fill="#3bb249"/>
<circle cx="228.2" cy="741.2" r="6.1" fill="#2fa245"/>
<circle cx="250.5" cy="715.7" r="10.9" fill="#3db54a"/>
<circle cx="243.9" cy="729.1" r="7.3" fill="#3bb249"/>
<circle cx="262.1" cy="741.2" r="12.1" fill="#3db54a"/>
<circle cx="277.8" cy="744.8" r="13.3" fill="#3db54a"/>
<circle cx="292.4" cy="735.1" r="9.7" fill="#3db54a"/>
<circle cx="294.8" cy="749.7" r="8.5" fill="#3db54a"/>
<circle cx="319.0" cy="723.0" r="6.1" fill="#2fa245"/>
<circle cx="328.7" cy="730.3" r="6.1" fill="#2fa245"/>
<circle cx="382.1" cy="748.4" r="10.9" fill="#3db54a"/>
<circle cx="434.9" cy="741.9" r="6.1" fill="#2fa245"/>
<circle cx="354.9" cy="651.5" r="5.3" fill="#2a9a43"/>
<circle cx="397.8" cy="661.9" r="4.4" fill="#2a9a43"/>
<circle cx="260.9" cy="675.7" r="4.4" fill="#2a9a43"/>
<circle cx="314.2" cy="749.7" r="6.1" fill="#2fa245"/>
<circle cx="263.3" cy="749.8" r="12.1" fill="#3db54a"/>
<circle cx="275.4" cy="752.3" r="10.9" fill="#3db54a"/>
<circle cx="191.8" cy="770.4" r="10.9" fill="#3db54a"/>
<circle cx="188.2" cy="766.8" r="6.1" fill="#2fa245"/>
<circle cx="177.3" cy="788.1" r="7.3" fill="#3bb249"/>
<circle cx="319.0" cy="763.2" r="10.9" fill="#3db54a"/>
<circle cx="323.9" cy="774.1" r="7.3" fill="#3bb249"/>
<circle cx="382.1" cy="749.8" r="9.7" fill="#3db54a"/>
<circle cx="268.1" cy="780.1" r="13.3" fill="#3db54a"/>
<circle cx="282.7" cy="782.6" r="10.9" fill="#3db54a"/>
<circle cx="299.7" cy="778.9" r="7.3" fill="#3bb249"/>
<circle cx="277.8" cy="812.9" r="12.1" fill="#3db54a"/>
<circle cx="275.4" cy="827.4" r="10.9" fill="#3db54a"/>
<circle cx="290.0" cy="822.6" r="9.7" fill="#3db54a"/>
<circle cx="311.8" cy="806.8" r="10.9" fill="#3db54a"/>
<circle cx="357.8" cy="812.9" r="10.9" fill="#3db54a"/>
<circle cx="383.3" cy="822.1" r="7.3" fill="#3bb249"/>
<circle cx="205.1" cy="822.6" r="7.8" fill="#3db54a"/>
<circle cx="242.7" cy="834.7" r="10.2" fill="#3db54a"/>
<circle cx="253.6" cy="837.1" r="9.7" fill="#3db54a"/>
<circle cx="321.5" cy="829.8" r="7.8" fill="#3db54a"/>
<circle cx="297.2" cy="841.9" r="9.7" fill="#3db54a"/>
<circle cx="317.8" cy="851.6" r="10.9" fill="#3db54a"/>
<circle cx="316.6" cy="865.0" r="9.7" fill="#3db54a"/>
<circle cx="290.0" cy="865.0" r="10.9" fill="#3db54a"/>
<circle cx="175.6" cy="860.9" r="9.2" fill="#3db54a"/>
<circle cx="404.6" cy="860.9" r="6.5" fill="#34a847"/>
<circle cx="414.1" cy="783.1" r="6.1" fill="#2fa245"/>
<circle cx="255.5" cy="870.5" r="6.1" fill="#2fa245"/>
<circle cx="314.2" cy="879.5" r="6.1" fill="#2fa245"/>
<circle cx="333.6" cy="763.2" r="6.1" fill="#2fa245"/>
<circle cx="271.1" cy="746.8" r="11.4" fill="#3db54a"/>
<circle cx="285.3" cy="786.7" r="11.4" fill="#3db54a"/>
<circle cx="299.6" cy="769.6" r="10.0" fill="#3db54a"/>
<circle cx="276.8" cy="815.2" r="11.4" fill="#3db54a"/>
<circle cx="293.9" cy="826.6" r="11.4" fill="#3db54a"/>
<circle cx="299.6" cy="849.4" r="11.4" fill="#3db54a"/>
<circle cx="311.0" cy="863.7" r="10.0" fill="#3db54a"/>
<circle cx="288.2" cy="866.5" r="10.0" fill="#3db54a"/>
<circle cx="234.0" cy="669.8" r="10.0" fill="#3db54a"/>
<circle cx="248.3" cy="718.3" r="8.6" fill="#3db54a"/>
<circle cx="219.7" cy="729.7" r="8.6" fill="#3db54a"/>
<circle cx="270.1" cy="594.5" r="2.2" fill="#115d2d"/>
<circle cx="277.8" cy="605.4" r="2.7" fill="#136430"/>
<circle cx="287.5" cy="616.4" r="3.2" fill="#156b34"/>
<circle cx="305.7" cy="609.1" r="4.4" fill="#1f823c"/>
<circle cx="311.8" cy="605.4" r="2.7" fill="#136430"/>
<circle cx="313.0" cy="590.9" r="2.2" fill="#115d2d"/>
<circle cx="235.7" cy="609.6" r="2.2" fill="#115d2d"/>
<circle cx="356.6" cy="617.6" r="2.2" fill="#115d2d"/>
<circle cx="196.7" cy="631.4" r="2.2" fill="#115d2d"/>
<circle cx="193.5" cy="637.0" r="2.2" fill="#115d2d"/>
<circle cx="198.6" cy="643.0" r="2.2" fill="#115d2d"/>
<circle cx="193.7" cy="650.8" r="2.2" fill="#115d2d"/>
<circle cx="233.0" cy="634.5" r="2.2" fill="#115d2d"/>
<circle cx="282.2" cy="641.8" r="2.7" fill="#136430"/>
<circle cx="288.7" cy="651.0" r="3.6" fill="#177337"/>
<circle cx="288.0" cy="660.7" r="3.2" fill="#156b34"/>
<circle cx="280.8" cy="669.7" r="4.4" fill="#1f823c"/>
<circle cx="314.2" cy="668.5" r="3.6" fill="#177337"/>
<circle cx="323.9" cy="657.6" r="2.2" fill="#115d2d"/>
<circle cx="328.7" cy="663.6" r="3.6" fill="#177337"/>
<circle cx="332.4" cy="667.3" r="2.2" fill="#115d2d"/>
<circle cx="316.6" cy="645.0" r="2.2" fill="#115d2d"/>
<circle cx="225.7" cy="664.1" r="2.2" fill="#115d2d"/>
<circle cx="180.9" cy="673.8" r="2.2" fill="#115d2d"/>
<circle cx="219.2" cy="675.7" r="2.2" fill="#115d2d"/>
<circle cx="251.2" cy="660.0" r="2.7" fill="#136430"/>
<circle cx="163.9" cy="693.9" r="2.2" fill="#115d2d"/>
<circle cx="174.1" cy="692.7" r="2.7" fill="#136430"/>
<circle cx="186.2" cy="690.8" r="2.2" fill="#115d2d"/>
<circle cx="195.4" cy="698.8" r="2.2" fill="#115d2d"/>
<circle cx="247.5" cy="686.6" r="2.2" fill="#115d2d"/>
<circle cx="257.2" cy="685.4" r="3.2" fill="#156b34"/>
<circle cx="260.4" cy="676.5" r="4.4" fill="#1f823c"/>
<circle cx="260.9" cy="693.9" r="2.2" fill="#115d2d"/>
<circle cx="256.0" cy="698.0" r="2.7" fill="#136430"/>
<circle cx="273.0" cy="698.8" r="2.2" fill="#115d2d"/>
<circle cx="279.1" cy="706.0" r="3.2" fill="#156b34"/>
<circle cx="287.5" cy="701.2" r="3.2" fill="#156b34"/>
<circle cx="290.0" cy="707.2" r="2.7" fill="#136430"/>
<circle cx="281.5" cy="713.3" r="2.2" fill="#115d2d"/>
<circle cx="286.3" cy="681.8" r="2.2" fill="#115d2d"/>
<circle cx="293.6" cy="673.3" r="2.2" fill="#115d2d"/>
<circle cx="294.8" cy="680.6" r="2.2" fill="#115d2d"/>
<circle cx="308.1" cy="680.6" r="2.2" fill="#115d2d"/>
<circle cx="321.5" cy="683.7" r="2.2" fill="#115d2d"/>
<circle cx="229.4" cy="697.5" r="3.6" fill="#177337"/>
<circle cx="241.5" cy="696.3" r="3.2" fill="#156b34"/>
<circle cx="236.6" cy="691.5" r="2.7" fill="#136430"/>
<circle cx="174.1" cy="712.1" r="2.2" fill="#115d2d"/>
<circle cx="185.0" cy="716.9" r="3.6" fill="#177337"/>
<circle cx="205.1" cy="708.5" r="2.2" fill="#115d2d"/>
<circle cx="228.9" cy="707.2" r="2.2" fill="#115d2d"/>
<circle cx="240.3" cy="706.5" r="2.2" fill="#115d2d"/>
<circle cx="270.6" cy="713.3" r="2.7" fill="#136430"/>
<circle cx="263.3" cy="715.7" r="2.2" fill="#115d2d"/>
<circle cx="256.0" cy="723.0" r="2.7" fill="#136430"/>
<circle cx="231.8" cy="724.2" r="2.2" fill="#115d2d"/>
<circle cx="236.6" cy="726.6" r="2.7" fill="#136430"/>
<circle cx="243.9" cy="725.4" r="3.2" fill="#156b34"/>
<circle cx="262.8" cy="727.8" r="2.2" fill="#115d2d"/>
<circle cx="269.8" cy="729.1" r="2.2" fill="#115d2d"/>
<circle cx="179.7" cy="737.5" r="2.2" fill="#115d2d"/>
<circle cx="191.8" cy="744.1" r="3.2" fill="#156b34"/>
<circle cx="202.7" cy="744.3" r="2.2" fill="#115d2d"/>
<circle cx="170.7" cy="754.5" r="4.4" fill="#1f823c"/>
<circle cx="196.7" cy="755.7" r="3.2" fill="#156b34"/>
<circle cx="194.2" cy="759.4" r="2.2" fill="#115d2d"/>
<circle cx="222.1" cy="752.1" r="2.7" fill="#136430"/>
<circle cx="225.7" cy="747.2" r="2.2" fill="#115d2d"/>
<circle cx="231.8" cy="755.0" r="2.2" fill="#115d2d"/>
<circle cx="248.8" cy="753.3" r="2.2" fill="#115d2d"/>
<circle cx="258.5" cy="753.3" r="2.7" fill="#136430"/>
<circle cx="304.5" cy="718.1" r="2.2" fill="#115d2d"/>
<circle cx="316.6" cy="715.7" r="2.2" fill="#115d2d"/>
<circle cx="323.9" cy="715.7" r="2.2" fill="#115d2d"/>
<circle cx="321.5" cy="720.6" r="3.6" fill="#177337"/>
<circle cx="316.6" cy="735.1" r="2.7" fill="#136430"/>
<circle cx="325.1" cy="737.5" r="2.2" fill="#115d2d"/>
<circle cx="331.2" cy="691.5" r="2.2" fill="#115d2d"/>
<circle cx="330.0" cy="698.8" r="2.2" fill="#115d2d"/>
<circle cx="333.6" cy="706.0" r="3.2" fill="#156b34"/>
<circle cx="346.4" cy="693.4" r="2.2" fill="#115d2d"/>
<circle cx="344.5" cy="683.0" r="3.2" fill="#156b34"/>
<circle cx="348.1" cy="685.4" r="2.2" fill="#115d2d"/>
<circle cx="352.5" cy="678.2" r="2.2" fill="#115d2d"/>
<circle cx="355.9" cy="669.2" r="2.2" fill="#115d2d"/>
<circle cx="341.6" cy="714.5" r="2.2" fill="#115d2d"/>
<circle cx="347.6" cy="722.3" r="2.2" fill="#115d2d"/>
<circle cx="353.0" cy="721.8" r="2.2" fill="#115d2d"/>
<circle cx="357.1" cy="725.9" r="2.2" fill="#115d2d"/>
<circle cx="342.8" cy="729.1" r="2.2" fill="#115d2d"/>
<circle cx="343.3" cy="737.1" r="3.6" fill="#177337"/>
<circle cx="356.6" cy="735.6" r="3.6" fill="#177337"/>
<circle cx="337.9" cy="755.0" r="2.2" fill="#115d2d"/>
<circle cx="383.3" cy="667.3" r="2.2" fill="#115d2d"/>
<circle cx="388.8" cy="678.2" r="2.7" fill="#136430"/>
<circle cx="387.4" cy="691.5" r="3.2" fill="#156b34"/>
<circle cx="405.8" cy="644.2" r="2.2" fill="#115d2d"/>
<circle cx="441.0" cy="672.8" r="2.2" fill="#115d2d"/>
<circle cx="384.5" cy="714.5" r="2.7" fill="#136430"/>
<circle cx="386.9" cy="720.6" r="2.2" fill="#115d2d"/>
<circle cx="394.9" cy="726.6" r="2.2" fill="#115d2d"/>
<circle cx="400.2" cy="729.1" r="2.7" fill="#136430"/>
<circle cx="406.3" cy="711.6" r="2.2" fill="#115d2d"/>
<circle cx="412.4" cy="719.8" r="3.6" fill="#177337"/>
<circle cx="420.1" cy="716.2" r="3.6" fill="#177337"/>
<circle cx="420.8" cy="725.4" r="2.2" fill="#115d2d"/>
<circle cx="426.2" cy="707.7" r="2.7" fill="#136430"/>
<circle cx="445.1" cy="698.8" r="2.2" fill="#115d2d"/>
<circle cx="451.1" cy="694.6" r="3.6" fill="#177337"/>
<circle cx="377.2" cy="738.7" r="2.2" fill="#115d2d"/>
<circle cx="386.9" cy="740.0" r="2.2" fill="#115d2d"/>
<circle cx="406.3" cy="743.1" r="2.2" fill="#115d2d"/>
<circle cx="413.6" cy="738.7" r="2.7" fill="#136430"/>
<circle cx="415.5" cy="754.5" r="2.2" fill="#115d2d"/>
<circle cx="405.1" cy="749.7" r="2.2" fill="#115d2d"/>
<circle cx="447.0" cy="748.9" r="2.2" fill="#115d2d"/>
<circle cx="366.3" cy="754.5" r="2.2" fill="#115d2d"/>
<circle cx="371.2" cy="753.3" r="2.2" fill="#115d2d"/>
<circle cx="304.5" cy="741.2" r="2.2" fill="#115d2d"/>
<circle cx="309.4" cy="747.2" r="2.7" fill="#136430"/>
<circle cx="316.6" cy="747.2" r="3.2" fill="#156b34"/>
<circle cx="306.9" cy="752.1" r="2.2" fill="#115d2d"/>
<circle cx="260.9" cy="730.3" r="2.7" fill="#136430"/>
<circle cx="270.6" cy="735.1" r="2.2" fill="#115d2d"/>
<circle cx="275.4" cy="725.4" r="2.7" fill="#136430"/>
<circle cx="285.1" cy="730.3" r="3.2" fill="#156b34"/>
<circle cx="294.8" cy="725.4" r="2.7" fill="#136430"/>
<circle cx="299.7" cy="730.3" r="2.2" fill="#115d2d"/>
<circle cx="171.2" cy="754.7" r="4.4" fill="#1f823c"/>
<circle cx="191.8" cy="745.0" r="3.2" fill="#156b34"/>
<circle cx="195.4" cy="754.7" r="3.6" fill="#177337"/>
<circle cx="200.3" cy="763.2" r="2.7" fill="#136430"/>
<circle cx="182.1" cy="775.3" r="2.2" fill="#115d2d"/>
<circle cx="192.5" cy="785.0" r="3.2" fill="#156b34"/>
<circle cx="201.5" cy="781.4" r="2.2" fill="#115d2d"/>
<circle cx="205.9" cy="789.1" r="2.2" fill="#115d2d"/>
<circle cx="218.5" cy="758.3" r="3.2" fill="#156b34"/>
<circle cx="222.1" cy="752.3" r="2.2" fill="#115d2d"/>
<circle cx="228.2" cy="746.2" r="2.7" fill="#136430"/>
<circle cx="236.6" cy="748.6" r="2.2" fill="#115d2d"/>
<circle cx="234.2" cy="757.1" r="3.2" fill="#156b34"/>
<circle cx="240.3" cy="757.1" r="3.2" fill="#156b34"/>
<circle cx="248.8" cy="753.5" r="2.2" fill="#115d2d"/>
<circle cx="248.8" cy="762.5" r="2.2" fill="#115d2d"/>
<circle cx="239.1" cy="766.8" r="2.7" fill="#136430"/>
<circle cx="241.5" cy="772.9" r="2.2" fill="#115d2d"/>
<circle cx="231.8" cy="769.2" r="2.2" fill="#115d2d"/>
<circle cx="226.9" cy="775.3" r="2.7" fill="#136430"/>
<circle cx="222.1" cy="783.8" r="2.7" fill="#136430"/>
<circle cx="223.3" cy="787.4" r="2.2" fill="#115d2d"/>
<circle cx="230.6" cy="787.4" r="2.2" fill="#115d2d"/>
<circle cx="234.2" cy="782.6" r="2.2" fill="#115d2d"/>
<circle cx="251.2" cy="783.3" r="2.7" fill="#136430"/>
<circle cx="236.6" cy="793.5" r="2.2" fill="#115d2d"/>
<circle cx="241.5" cy="797.1" r="2.2" fill="#115d2d"/>
<circle cx="248.8" cy="794.7" r="2.2" fill="#115d2d"/>
<circle cx="257.2" cy="793.5" r="2.7" fill="#136430"/>
<circle cx="262.1" cy="797.1" r="2.2" fill="#115d2d"/>
<circle cx="253.6" cy="803.2" r="2.2" fill="#115d2d"/>
<circle cx="196.7" cy="800.7" r="2.2" fill="#115d2d"/>
<circle cx="207.6" cy="802.0" r="2.2" fill="#115d2d"/>
<circle cx="213.1" cy="798.3" r="2.2" fill="#115d2d"/>
<circle cx="225.7" cy="809.2" r="2.2" fill="#115d2d"/>
<circle cx="230.6" cy="814.1" r="2.7" fill="#136430"/>
<circle cx="222.1" cy="814.1" r="2.2" fill="#115d2d"/>
<circle cx="236.6" cy="810.4" r="2.2" fill="#115d2d"/>
<circle cx="239.1" cy="805.6" r="2.2" fill="#115d2d"/>
<circle cx="250.5" cy="806.8" r="2.2" fill="#115d2d"/>
<circle cx="195.4" cy="821.3" r="2.2" fill="#115d2d"/>
<circle cx="207.1" cy="812.9" r="2.2" fill="#115d2d"/>
<circle cx="201.0" cy="841.5" r="2.2" fill="#115d2d"/>
<circle cx="176.0" cy="846.3" r="2.2" fill="#115d2d"/>
<circle cx="217.3" cy="842.7" r="3.6" fill="#177337"/>
<circle cx="223.3" cy="845.6" r="2.7" fill="#136430"/>
<circle cx="226.9" cy="848.0" r="2.2" fill="#115d2d"/>
<circle cx="236.6" cy="823.8" r="2.7" fill="#136430"/>
<circle cx="240.3" cy="822.6" r="2.2" fill="#115d2d"/>
<circle cx="248.8" cy="828.6" r="2.2" fill="#115d2d"/>
<circle cx="253.6" cy="822.6" r="3.2" fill="#156b34"/>
<circle cx="260.9" cy="825.0" r="2.2" fill="#115d2d"/>
<circle cx="265.7" cy="820.1" r="2.2" fill="#115d2d"/>
<circle cx="247.5" cy="854.1" r="4.4" fill="#1f823c"/>
<circle cx="248.8" cy="860.1" r="3.2" fill="#156b34"/>
<circle cx="262.1" cy="854.1" r="2.7" fill="#136430"/>
<circle cx="262.1" cy="861.3" r="2.7" fill="#136430"/>
<circle cx="241.5" cy="866.2" r="2.2" fill="#115d2d"/>
<circle cx="246.3" cy="871.0" r="2.2" fill="#115d2d"/>
<circle cx="248.8" cy="877.1" r="2.2" fill="#115d2d"/>
<circle cx="256.0" cy="877.8" r="2.2" fill="#115d2d"/>
<circle cx="237.9" cy="882.7" r="2.2" fill="#115d2d"/>
<circle cx="245.9" cy="883.6" r="2.2" fill="#115d2d"/>
<circle cx="250.0" cy="884.4" r="2.2" fill="#115d2d"/>
<circle cx="256.0" cy="889.2" r="2.2" fill="#115d2d"/>
<circle cx="248.8" cy="894.8" r="2.2" fill="#115d2d"/>
<circle cx="253.6" cy="896.5" r="2.2" fill="#115d2d"/>
<circle cx="270.6" cy="844.4" r="2.7" fill="#136430"/>
<circle cx="275.4" cy="846.8" r="3.2" fill="#156b34"/>
<circle cx="275.4" cy="851.6" r="2.7" fill="#136430"/>
<circle cx="282.7" cy="856.5" r="3.2" fill="#156b34"/>
<circle cx="285.1" cy="839.5" r="2.7" fill="#136430"/>
<circle cx="299.7" cy="837.1" r="3.2" fill="#156b34"/>
<circle cx="304.5" cy="846.8" r="2.7" fill="#136430"/>
<circle cx="309.4" cy="856.5" r="2.7" fill="#136430"/>
<circle cx="311.8" cy="839.5" r="2.7" fill="#136430"/>
<circle cx="270.6" cy="884.4" r="2.2" fill="#115d2d"/>
<circle cx="281.5" cy="898.2" r="2.2" fill="#115d2d"/>
<circle cx="285.1" cy="885.6" r="2.7" fill="#136430"/>
<circle cx="288.7" cy="888.0" r="2.7" fill="#136430"/>
<circle cx="297.2" cy="892.8" r="2.2" fill="#115d2d"/>
<circle cx="299.7" cy="906.2" r="2.2" fill="#115d2d"/>
<circle cx="308.1" cy="899.6" r="3.2" fill="#156b34"/>
<circle cx="312.3" cy="910.5" r="3.2" fill="#156b34"/>
<circle cx="320.3" cy="894.1" r="2.2" fill="#115d2d"/>
<circle cx="276.6" cy="909.1" r="2.7" fill="#136430"/>
<circle cx="294.8" cy="871.0" r="4.4" fill="#1f823c"/>
<circle cx="304.5" cy="880.7" r="3.2" fill="#156b34"/>
<circle cx="311.8" cy="883.1" r="3.6" fill="#177337"/>
<circle cx="321.5" cy="880.7" r="2.7" fill="#136430"/>
<circle cx="323.9" cy="884.4" r="2.2" fill="#115d2d"/>
<circle cx="326.3" cy="781.4" r="2.2" fill="#115d2d"/>
<circle cx="332.4" cy="788.6" r="3.2" fill="#156b34"/>
<circle cx="328.7" cy="797.1" r="2.2" fill="#115d2d"/>
<circle cx="336.0" cy="780.1" r="3.6" fill="#177337"/>
<circle cx="338.4" cy="755.9" r="2.2" fill="#115d2d"/>
<circle cx="344.5" cy="758.3" r="2.7" fill="#136430"/>
<circle cx="340.9" cy="790.6" r="2.2" fill="#115d2d"/>
<circle cx="349.3" cy="766.8" r="2.2" fill="#115d2d"/>
<circle cx="351.8" cy="780.9" r="2.2" fill="#115d2d"/>
<circle cx="353.0" cy="791.0" r="3.6" fill="#177337"/>
<circle cx="355.4" cy="751.1" r="2.2" fill="#115d2d"/>
<circle cx="343.3" cy="799.5" r="2.2" fill="#115d2d"/>
<circle cx="340.9" cy="806.8" r="3.2" fill="#156b34"/>
<circle cx="347.6" cy="810.4" r="2.2" fill="#115d2d"/>
<circle cx="356.6" cy="802.0" r="2.7" fill="#136430"/>
<circle cx="350.6" cy="822.6" r="3.2" fill="#156b34"/>
<circle cx="354.2" cy="826.2" r="2.7" fill="#136430"/>
<circle cx="333.6" cy="822.6" r="2.2" fill="#115d2d"/>
<circle cx="338.4" cy="825.0" r="2.2" fill="#115d2d"/>
<circle cx="340.9" cy="832.3" r="2.2" fill="#115d2d"/>
<circle cx="366.3" cy="754.7" r="2.2" fill="#115d2d"/>
<circle cx="371.2" cy="753.5" r="2.2" fill="#115d2d"/>
<circle cx="364.6" cy="770.4" r="2.2" fill="#115d2d"/>
<circle cx="366.3" cy="776.5" r="2.2" fill="#115d2d"/>
<circle cx="377.2" cy="771.7" r="4.4" fill="#1f823c"/>
<circle cx="384.5" cy="778.9" r="2.2" fill="#115d2d"/>
<circle cx="377.2" cy="787.4" r="2.2" fill="#115d2d"/>
<circle cx="393.0" cy="762.0" r="2.7" fill="#136430"/>
<circle cx="406.3" cy="749.8" r="2.2" fill="#115d2d"/>
<circle cx="413.6" cy="761.5" r="2.2" fill="#115d2d"/>
<circle cx="416.0" cy="754.7" r="2.2" fill="#115d2d"/>
<circle cx="447.5" cy="748.6" r="2.2" fill="#115d2d"/>
<circle cx="434.9" cy="745.0" r="3.6" fill="#177337"/>
<circle cx="365.1" cy="795.9" r="2.2" fill="#115d2d"/>
<circle cx="373.6" cy="814.1" r="2.2" fill="#115d2d"/>
<circle cx="383.3" cy="805.6" r="2.7" fill="#136430"/>
<circle cx="394.2" cy="791.0" r="3.6" fill="#177337"/>
<circle cx="395.4" cy="787.4" r="2.7" fill="#136430"/>
<circle cx="394.9" cy="799.5" r="2.2" fill="#115d2d"/>
<circle cx="412.4" cy="806.8" r="2.2" fill="#115d2d"/>
<circle cx="403.9" cy="777.7" r="2.2" fill="#115d2d"/>
<circle cx="397.8" cy="817.2" r="2.2" fill="#115d2d"/>
<circle cx="396.6" cy="829.8" r="2.2" fill="#115d2d"/>
<circle cx="390.5" cy="836.6" r="2.2" fill="#115d2d"/>
<circle cx="386.4" cy="843.2" r="2.2" fill="#115d2d"/>
<circle cx="386.9" cy="851.6" r="2.2" fill="#115d2d"/>
<circle cx="398.5" cy="850.4" r="2.2" fill="#115d2d"/>
<circle cx="409.9" cy="839.0" r="2.2" fill="#115d2d"/>
<circle cx="416.0" cy="851.6" r="2.2" fill="#115d2d"/>
<circle cx="430.0" cy="845.1" r="2.2" fill="#115d2d"/>
<circle cx="438.3" cy="792.3" r="3.2" fill="#156b34"/>
<circle cx="448.2" cy="808.5" r="2.2" fill="#115d2d"/>
<circle cx="357.8" cy="839.5" r="2.2" fill="#115d2d"/>
<circle cx="359.0" cy="822.1" r="2.2" fill="#115d2d"/>
<circle cx="362.7" cy="851.2" r="3.6" fill="#177337"/>
<circle cx="372.4" cy="843.2" r="2.2" fill="#115d2d"/>
<circle cx="348.6" cy="849.7" r="2.2" fill="#115d2d"/>
<circle cx="335.5" cy="856.5" r="3.6" fill="#177337"/>
<circle cx="330.0" cy="862.5" r="2.2" fill="#115d2d"/>
<circle cx="349.3" cy="863.8" r="3.2" fill="#156b34"/>
<circle cx="376.5" cy="864.2" r="3.6" fill="#177337"/>
<circle cx="383.8" cy="870.5" r="2.2" fill="#115d2d"/>
<circle cx="411.1" cy="867.4" r="2.2" fill="#115d2d"/>
<circle cx="416.7" cy="873.0" r="2.2" fill="#115d2d"/>
<circle cx="347.6" cy="877.1" r="2.2" fill="#115d2d"/>
<circle cx="346.9" cy="885.1" r="3.2" fill="#156b34"/>
<circle cx="360.2" cy="875.9" r="2.2" fill="#115d2d"/>
<circle cx="363.9" cy="875.9" r="2.2" fill="#115d2d"/>
<circle cx="373.6" cy="877.8" r="2.2" fill="#115d2d"/>
<circle cx="370.7" cy="885.6" r="2.2" fill="#115d2d"/>
<circle cx="361.5" cy="889.7" r="3.2" fill="#156b34"/>
<circle cx="385.7" cy="885.6" r="2.2" fill="#115d2d"/>
<circle cx="368.7" cy="881.9" r="2.2" fill="#115d2d"/>
<circle cx="290.0" cy="778.9" r="2.7" fill="#136430"/>
<circle cx="297.2" cy="771.7" r="3.2" fill="#156b34"/>
<circle cx="304.5" cy="771.7" r="2.7" fill="#136430"/>
<circle cx="299.7" cy="786.2" r="3.2" fill="#156b34"/>
<circle cx="294.8" cy="793.5" r="3.2" fill="#156b34"/>
<circle cx="302.1" cy="795.9" r="2.7" fill="#136430"/>
<circle cx="304.5" cy="766.8" r="2.7" fill="#136430"/>
<circle cx="287.5" cy="766.8" r="3.2" fill="#156b34"/>
<circle cx="280.3" cy="762.0" r="2.7" fill="#136430"/>
<circle cx="265.7" cy="764.4" r="2.7" fill="#136430"/>
<circle cx="260.9" cy="771.7" r="2.7" fill="#136430"/>
<circle cx="275.4" cy="793.5" r="3.2" fill="#156b34"/>
<circle cx="268.1" cy="791.0" r="3.2" fill="#156b34"/>
<circle cx="265.7" cy="798.3" r="2.7" fill="#136430"/>
<circle cx="280.3" cy="798.3" r="2.7" fill="#136430"/>
<circle cx="287.5" cy="798.3" r="3.2" fill="#156b34"/>
<circle cx="294.8" cy="803.2" r="2.7" fill="#136430"/>
<circle cx="299.7" cy="810.4" r="3.2" fill="#156b34"/>
<circle cx="306.9" cy="810.4" r="3.2" fill="#156b34"/>
<circle cx="316.6" cy="798.3" r="3.2" fill="#156b34"/>
<circle cx="323.9" cy="800.7" r="2.7" fill="#136430"/>
<circle cx="323.9" cy="808.0" r="3.2" fill="#156b34"/>
<circle cx="321.5" cy="815.3" r="3.2" fill="#156b34"/>
<circle cx="326.3" cy="817.7" r="2.7" fill="#136430"/>
<circle cx="314.2" cy="817.7" r="2.7" fill="#136430"/>
<circle cx="306.9" cy="825.0" r="2.7" fill="#136430"/>
<circle cx="290.0" cy="812.9" r="3.2" fill="#156b34"/>
<circle cx="285.1" cy="832.3" r="3.2" fill="#156b34"/>
<circle cx="297.2" cy="829.8" r="2.7" fill="#136430"/>
<circle cx="309.4" cy="832.3" r="2.7" fill="#136430"/>
<circle cx="311.8" cy="844.4" r="2.7" fill="#136430"/>
<circle cx="319.0" cy="841.9" r="3.2" fill="#156b34"/>
<circle cx="323.9" cy="846.8" r="2.7" fill="#136430"/>
<circle cx="328.7" cy="858.9" r="2.2" fill="#115d2d"/>
<circle cx="323.9" cy="866.2" r="2.2" fill="#115d2d"/>
<circle cx="292.2" cy="750.8" r="2.5" fill="#126230"/>
<circle cx="277.9" cy="689.2" r="2.5" fill="#126230"/>
<circle cx="228.6" cy="689.5" r="2.5" fill="#126230"/>
<circle cx="265.9" cy="816.0" r="2.8" fill="#136631"/>
<circle cx="282.8" cy="783.0" r="2.8" fill="#136631"/>
<circle cx="327.2" cy="897.0" r="2.5" fill="#126230"/>
<circle cx="316.4" cy="870.8" r="3.1" fill="#146a33"/>
<circle cx="313.3" cy="703.7" r="3.1" fill="#146a33"/>
<circle cx="244.0" cy="715.4" r="2.8" fill="#136631"/>
<circle cx="303.3" cy="756.5" r="3.7" fill="#187437"/>
<circle cx="286.2" cy="699.2" r="2.8" fill="#136631"/>
<circle cx="280.5" cy="704.9" r="3.4" fill="#166e35"/>
<circle cx="326.9" cy="865.9" r="2.8" fill="#136631"/>
<circle cx="286.5" cy="706.0" r="3.4" fill="#166e35"/>
<circle cx="274.2" cy="810.9" r="2.8" fill="#136631"/>
<circle cx="256.2" cy="772.4" r="3.1" fill="#146a33"/>
<circle cx="262.2" cy="751.6" r="3.1" fill="#146a33"/>
<circle cx="301.0" cy="888.5" r="2.5" fill="#126230"/>
<circle cx="283.3" cy="698.3" r="3.7" fill="#187437"/>
<circle cx="250.8" cy="882.5" r="3.1" fill="#146a33"/>
<circle cx="293.9" cy="878.8" r="3.7" fill="#187437"/>
<circle cx="288.2" cy="746.5" r="2.5" fill="#126230"/>
<circle cx="264.2" cy="729.7" r="2.8" fill="#136631"/>
<circle cx="254.2" cy="683.2" r="2.8" fill="#136631"/>
<circle cx="287.3" cy="846.8" r="3.7" fill="#187437"/>
<circle cx="244.5" cy="828.6" r="3.1" fill="#146a33"/>
<circle cx="342.3" cy="684.3" r="2.8" fill="#136631"/>
<circle cx="328.9" cy="704.3" r="2.8" fill="#136631"/>
<circle cx="262.8" cy="770.7" r="3.4" fill="#166e35"/>
<circle cx="216.9" cy="803.8" r="3.7" fill="#187437"/>
<circle cx="271.3" cy="804.1" r="3.7" fill="#187437"/>
<circle cx="306.7" cy="664.7" r="2.5" fill="#126230"/>
<circle cx="220.9" cy="802.4" r="3.4" fill="#166e35"/>
<circle cx="281.9" cy="891.3" r="2.5" fill="#126230"/>
<circle cx="275.1" cy="894.2" r="3.1" fill="#146a33"/>
<circle cx="330.1" cy="713.1" r="2.5" fill="#126230"/>
<circle cx="258.8" cy="698.3" r="2.5" fill="#126230"/>
<circle cx="294.7" cy="687.5" r="3.7" fill="#187437"/>
<circle cx="283.3" cy="804.4" r="2.8" fill="#136631"/>
<circle cx="269.4" cy="846.8" r="3.1" fill="#146a33"/>
<circle cx="261.9" cy="791.0" r="3.7" fill="#187437"/>
<circle cx="239.7" cy="782.7" r="3.7" fill="#187437"/>
<circle cx="245.7" cy="829.4" r="3.4" fill="#166e35"/>
<circle cx="299.0" cy="730.2" r="3.4" fill="#166e35"/>
<circle cx="262.8" cy="782.1" r="3.1" fill="#146a33"/>
<circle cx="303.6" cy="836.0" r="3.1" fill="#146a33"/>
<circle cx="261.7" cy="695.7" r="2.5" fill="#126230"/>
<circle cx="238.3" cy="833.2" r="2.8" fill="#136631"/>
<circle cx="296.2" cy="729.9" r="3.4" fill="#166e35"/>
<circle cx="300.4" cy="871.4" r="3.1" fill="#146a33"/>
<circle cx="254.2" cy="844.3" r="2.5" fill="#126230"/>
<circle cx="270.8" cy="663.5" r="3.7" fill="#187437"/>
<circle cx="288.5" cy="785.5" r="3.4" fill="#166e35"/>
<circle cx="254.5" cy="852.8" r="3.1" fill="#146a33"/>
<circle cx="278.8" cy="763.0" r="2.8" fill="#136631"/>
<circle cx="284.7" cy="713.7" r="3.1" fill="#146a33"/>
<circle cx="249.4" cy="744.8" r="2.8" fill="#136631"/>
<circle cx="316.7" cy="671.5" r="2.8" fill="#136631"/>
<circle cx="313.0" cy="870.8" r="3.4" fill="#166e35"/>
<circle cx="244.8" cy="882.2" r="3.1" fill="#146a33"/>
</g>
<g>
<circle cx="746.8" cy="727.3" r="14.0" fill="#fef0e4" stroke="#e98a3d" stroke-width="1.1"/>
<circle cx="726.4" cy="652.9" r="14.0" fill="#fef0e4" stroke="#e98a3d" stroke-width="1.1"/>
<circle cx="718.9" cy="685.4" r="14.0" fill="#fef0e4" stroke="#e98a3d" stroke-width="1.1"/>
<circle cx="742.3" cy="697.3" r="14.0" fill="#fef0e4" stroke="#e98a3d" stroke-width="1.1"/>
<circle cx="742.8" cy="724.8" r="13.5" fill="#fef0e4" stroke="#e98a3d" stroke-width="1.1"/>
<circle cx="722.9" cy="743.7" r="14.0" fill="#fef0e4" stroke="#e98a3d" stroke-width="1.1"/>
<circle cx="750.3" cy="766.2" r="14.0" fill="#fef0e4" stroke="#e98a3d" stroke-width="1.1"/>
<circle cx="730.4" cy="786.2" r="14.0" fill="#fef0e4" stroke="#e98a3d" stroke-width="1.1"/>
<circle cx="726.9" cy="653.9" r="11.0" fill="#3db54a"/>
<circle cx="719.4" cy="686.4" r="8.0" fill="#3db54a"/>
<circle cx="742.3" cy="698.3" r="11.0" fill="#3db54a"/>
<circle cx="744.3" cy="726.3" r="12.0" fill="#3db54a"/>
<circle cx="750.8" cy="766.2" r="9.0" fill="#3db54a"/>
<circle cx="730.9" cy="786.2" r="9.0" fill="#3db54a"/>
<circle cx="723.9" cy="744.7" r="4.5" fill="#20853c"/>
</g>
<g>
<circle cx="1180.6" cy="651.5" r="13.8" fill="#fef0e4" stroke="#e98a3d" stroke-width="1.1"/>
<circle cx="1172.1" cy="684.2" r="13.3" fill="#fef0e4" stroke="#e98a3d" stroke-width="1.1"/>
<circle cx="1197.5" cy="693.9" r="10.9" fill="#fef0e4" stroke="#e98a3d" stroke-width="1.1"/>
<circle cx="1197.5" cy="723.0" r="13.8" fill="#fef0e4" stroke="#e98a3d" stroke-width="1.1"/>
<circle cx="1176.9" cy="740.0" r="12.1" fill="#fef0e4" stroke="#e98a3d" stroke-width="1.1"/>
<circle cx="1187.8" cy="781.4" r="10.9" fill="#fef0e4" stroke="#e98a3d" stroke-width="1.1"/>
<circle cx="1184.9" cy="604.2" r="10.2" fill="#3db54a"/>
<circle cx="1157.1" cy="632.1" r="6.1" fill="#2fa245"/>
<circle cx="1218.1" cy="643.0" r="10.2" fill="#3db54a"/>
<circle cx="1209.7" cy="652.7" r="8.5" fill="#3db54a"/>
<circle cx="1263.0" cy="668.5" r="10.9" fill="#3db54a"/>
<circle cx="1188.3" cy="670.2" r="7.8" fill="#3db54a"/>
<circle cx="1144.2" cy="675.7" r="7.3" fill="#3bb249"/>
<circle cx="1093.3" cy="680.6" r="6.1" fill="#2fa245"/>
<circle cx="1129.2" cy="685.9" r="5.3" fill="#2a9a43"/>
<circle cx="1136.5" cy="696.3" r="8.0" fill="#3db54a"/>
<circle cx="1181.8" cy="686.6" r="6.1" fill="#2fa245"/>
<circle cx="1186.6" cy="704.8" r="9.2" fill="#3db54a"/>
<circle cx="1197.5" cy="684.2" r="4.8" fill="#2a9a43"/>
<circle cx="1219.4" cy="698.8" r="10.2" fill="#3db54a"/>
<circle cx="1209.7" cy="703.6" r="8.5" fill="#3db54a"/>
<circle cx="1253.8" cy="693.4" r="6.1" fill="#2fa245"/>
<circle cx="1313.9" cy="711.4" r="8.0" fill="#3db54a"/>
<circle cx="1130.9" cy="718.1" r="10.9" fill="#3db54a"/>
<circle cx="1157.5" cy="716.9" r="10.9" fill="#3db54a"/>
<circle cx="1132.1" cy="737.5" r="10.9" fill="#3db54a"/>
<circle cx="1132.1" cy="750.9" r="7.3" fill="#3bb249"/>
<circle cx="1223.0" cy="729.1" r="10.9" fill="#3db54a"/>
<circle cx="1237.5" cy="729.1" r="9.7" fill="#3db54a"/>
<circle cx="1233.9" cy="715.7" r="7.3" fill="#3bb249"/>
<circle cx="1166.0" cy="750.9" r="10.9" fill="#3db54a"/>
<circle cx="1178.1" cy="738.7" r="8.5" fill="#3db54a"/>
<circle cx="1195.1" cy="752.1" r="8.5" fill="#3db54a"/>
<circle cx="1226.6" cy="749.7" r="8.5" fill="#3db54a"/>
<circle cx="1278.7" cy="752.1" r="10.9" fill="#3db54a"/>
<circle cx="1242.4" cy="706.0" r="4.8" fill="#2a9a43"/>
<circle cx="1132.1" cy="749.8" r="8.5" fill="#3db54a"/>
<circle cx="1166.0" cy="752.3" r="10.9" fill="#3db54a"/>
<circle cx="1197.5" cy="754.7" r="9.7" fill="#3db54a"/>
<circle cx="1207.2" cy="749.8" r="7.3" fill="#3bb249"/>
<circle cx="1226.6" cy="752.3" r="8.5" fill="#3db54a"/>
<circle cx="1226.6" cy="764.4" r="9.7" fill="#3db54a"/>
<circle cx="1212.1" cy="771.7" r="10.9" fill="#3db54a"/>
<circle cx="1278.7" cy="754.7" r="10.9" fill="#3db54a"/>
<circle cx="1098.2" cy="770.4" r="7.3" fill="#3bb249"/>
<circle cx="1100.6" cy="785.0" r="10.9" fill="#3db54a"/>
<circle cx="1172.1" cy="778.9" r="8.5" fill="#3db54a"/>
<circle cx="1164.8" cy="803.2" r="9.7" fill="#3db54a"/>
<circle cx="1183.0" cy="798.3" r="10.9" fill="#3db54a"/>
<circle cx="1187.8" cy="812.9" r="10.9" fill="#3db54a"/>
<circle cx="1209.7" cy="803.2" r="9.7" fill="#3db54a"/>
<circle cx="1214.5" cy="812.9" r="7.3" fill="#3bb249"/>
<circle cx="1200.0" cy="832.3" r="9.7" fill="#3db54a"/>
<circle cx="1190.3" cy="841.9" r="8.5" fill="#3db54a"/>
<circle cx="1209.7" cy="829.8" r="6.1" fill="#2fa245"/>
<circle cx="1157.1" cy="852.9" r="10.9" fill="#3db54a"/>
<circle cx="1197.5" cy="863.8" r="10.9" fill="#3db54a"/>
<circle cx="1209.7" cy="861.3" r="9.7" fill="#3db54a"/>
<circle cx="1223.0" cy="863.8" r="9.7" fill="#3db54a"/>
<circle cx="1225.4" cy="850.4" r="6.1" fill="#2fa245"/>
<circle cx="1283.6" cy="865.0" r="10.9" fill="#3db54a"/>
<circle cx="1281.2" cy="878.3" r="9.7" fill="#3db54a"/>
<circle cx="1272.7" cy="769.2" r="6.1" fill="#2fa245"/>
<circle cx="1243.1" cy="766.3" r="6.1" fill="#2fa245"/>
<circle cx="1174.5" cy="596.5" r="4.8" fill="#238c3f"/>
<circle cx="1185.4" cy="606.2" r="3.2" fill="#156b34"/>
<circle cx="1219.8" cy="590.9" r="4.1" fill="#1c7d3a"/>
<circle cx="1219.8" cy="605.0" r="3.6" fill="#177337"/>
<circle cx="1213.3" cy="609.1" r="3.6" fill="#177337"/>
<circle cx="1195.1" cy="616.4" r="2.2" fill="#115d2d"/>
<circle cx="1143.5" cy="609.6" r="2.2" fill="#115d2d"/>
<circle cx="1264.9" cy="618.1" r="2.2" fill="#115d2d"/>
<circle cx="1169.9" cy="626.8" r="4.1" fill="#1c7d3a"/>
<circle cx="1139.9" cy="634.5" r="4.1" fill="#1c7d3a"/>
<circle cx="1104.2" cy="631.4" r="2.2" fill="#115d2d"/>
<circle cx="1101.8" cy="637.0" r="2.2" fill="#115d2d"/>
<circle cx="1105.9" cy="643.5" r="2.2" fill="#115d2d"/>
<circle cx="1101.8" cy="650.8" r="2.2" fill="#115d2d"/>
<circle cx="1126.5" cy="638.9" r="2.2" fill="#115d2d"/>
<circle cx="1207.2" cy="629.7" r="2.2" fill="#115d2d"/>
<circle cx="1188.3" cy="642.3" r="3.2" fill="#156b34"/>
<circle cx="1197.5" cy="651.0" r="3.6" fill="#177337"/>
<circle cx="1181.1" cy="651.5" r="2.2" fill="#115d2d"/>
<circle cx="1224.2" cy="643.0" r="3.2" fill="#156b34"/>
<circle cx="1313.4" cy="644.2" r="3.2" fill="#156b34"/>
<circle cx="1262.5" cy="651.5" r="2.2" fill="#115d2d"/>
<circle cx="1231.5" cy="658.8" r="2.2" fill="#115d2d"/>
<circle cx="1236.3" cy="663.6" r="3.6" fill="#177337"/>
<circle cx="1240.0" cy="667.3" r="2.2" fill="#115d2d"/>
<circle cx="1220.6" cy="663.6" r="3.2" fill="#156b34"/>
<circle cx="1219.4" cy="669.7" r="2.7" fill="#136430"/>
<circle cx="1195.1" cy="660.0" r="2.2" fill="#115d2d"/>
<circle cx="1085.6" cy="664.1" r="2.2" fill="#115d2d"/>
<circle cx="1133.3" cy="663.6" r="2.2" fill="#115d2d"/>
<circle cx="1144.7" cy="667.3" r="3.6" fill="#177337"/>
<circle cx="1156.3" cy="667.3" r="4.4" fill="#1f823c"/>
<circle cx="1158.8" cy="660.5" r="2.2" fill="#115d2d"/>
<circle cx="1088.5" cy="673.8" r="2.2" fill="#115d2d"/>
<circle cx="1126.8" cy="676.2" r="2.2" fill="#115d2d"/>
<circle cx="1168.5" cy="675.7" r="2.7" fill="#136430"/>
<circle cx="1164.8" cy="685.4" r="2.2" fill="#115d2d"/>
<circle cx="1168.5" cy="693.9" r="2.2" fill="#115d2d"/>
<circle cx="1190.3" cy="669.7" r="3.2" fill="#156b34"/>
<circle cx="1201.2" cy="673.3" r="2.7" fill="#136430"/>
<circle cx="1071.5" cy="693.9" r="3.2" fill="#156b34"/>
<circle cx="1082.4" cy="692.9" r="2.2" fill="#115d2d"/>
<circle cx="1093.3" cy="691.0" r="3.6" fill="#177337"/>
<circle cx="1103.0" cy="698.8" r="2.2" fill="#115d2d"/>
<circle cx="1112.7" cy="708.5" r="2.2" fill="#115d2d"/>
<circle cx="1146.6" cy="707.2" r="2.2" fill="#115d2d"/>
<circle cx="1155.1" cy="686.6" r="2.2" fill="#115d2d"/>
<circle cx="1163.6" cy="698.3" r="2.2" fill="#115d2d"/>
<circle cx="1149.1" cy="696.3" r="2.7" fill="#136430"/>
<circle cx="1290.4" cy="667.7" r="2.2" fill="#115d2d"/>
<circle cx="1296.4" cy="678.2" r="3.6" fill="#177337"/>
<circle cx="1294.5" cy="691.5" r="3.2" fill="#156b34"/>
<circle cx="1305.4" cy="661.9" r="2.2" fill="#115d2d"/>
<circle cx="1348.5" cy="672.8" r="2.2" fill="#115d2d"/>
<circle cx="1352.7" cy="698.8" r="2.2" fill="#115d2d"/>
<circle cx="1358.2" cy="694.6" r="2.2" fill="#115d2d"/>
<circle cx="1334.0" cy="707.7" r="3.6" fill="#177337"/>
<circle cx="1327.2" cy="716.2" r="2.2" fill="#115d2d"/>
<circle cx="1328.4" cy="725.4" r="2.2" fill="#115d2d"/>
<circle cx="1318.7" cy="719.8" r="2.2" fill="#115d2d"/>
<circle cx="1292.1" cy="714.5" r="2.7" fill="#136430"/>
<circle cx="1294.5" cy="720.6" r="2.7" fill="#136430"/>
<circle cx="1303.0" cy="726.6" r="3.2" fill="#156b34"/>
<circle cx="1307.8" cy="729.1" r="2.2" fill="#115d2d"/>
<circle cx="1283.6" cy="737.5" r="3.2" fill="#156b34"/>
<circle cx="1289.6" cy="740.7" r="2.2" fill="#115d2d"/>
<circle cx="1295.0" cy="740.0" r="2.2" fill="#115d2d"/>
<circle cx="1323.1" cy="737.5" r="4.4" fill="#1f823c"/>
<circle cx="1315.1" cy="743.1" r="2.2" fill="#115d2d"/>
<circle cx="1341.7" cy="741.9" r="3.2" fill="#156b34"/>
<circle cx="1323.1" cy="754.5" r="4.4" fill="#1f823c"/>
<circle cx="1354.6" cy="748.9" r="2.2" fill="#115d2d"/>
<circle cx="1313.1" cy="750.1" r="2.2" fill="#115d2d"/>
<circle cx="1290.4" cy="747.2" r="2.7" fill="#136430"/>
<circle cx="1254.5" cy="684.2" r="2.2" fill="#115d2d"/>
<circle cx="1256.4" cy="686.6" r="2.2" fill="#115d2d"/>
<circle cx="1263.0" cy="676.9" r="2.2" fill="#115d2d"/>
<circle cx="1250.9" cy="714.5" r="2.2" fill="#115d2d"/>
<circle cx="1254.5" cy="722.3" r="2.2" fill="#115d2d"/>
<circle cx="1261.0" cy="721.8" r="2.2" fill="#115d2d"/>
<circle cx="1264.2" cy="725.4" r="2.2" fill="#115d2d"/>
<circle cx="1265.4" cy="735.1" r="3.2" fill="#156b34"/>
<circle cx="1250.9" cy="728.3" r="2.2" fill="#115d2d"/>
<circle cx="1251.6" cy="738.7" r="3.6" fill="#177337"/>
<circle cx="1249.6" cy="733.9" r="2.2" fill="#115d2d"/>
<circle cx="1262.5" cy="751.4" r="2.2" fill="#115d2d"/>
<circle cx="1252.1" cy="756.9" r="3.6" fill="#177337"/>
<circle cx="1229.0" cy="683.7" r="2.2" fill="#115d2d"/>
<circle cx="1238.7" cy="691.5" r="2.7" fill="#136430"/>
<circle cx="1236.3" cy="698.8" r="2.2" fill="#115d2d"/>
<circle cx="1243.6" cy="704.8" r="3.6" fill="#177337"/>
<circle cx="1238.7" cy="701.2" r="2.2" fill="#115d2d"/>
<circle cx="1214.5" cy="680.6" r="3.2" fill="#156b34"/>
<circle cx="1207.2" cy="686.6" r="2.7" fill="#136430"/>
<circle cx="1195.1" cy="679.4" r="3.6" fill="#177337"/>
<circle cx="1200.0" cy="684.2" r="3.2" fill="#156b34"/>
<circle cx="1204.8" cy="693.9" r="2.7" fill="#136430"/>
<circle cx="1081.9" cy="712.1" r="2.2" fill="#115d2d"/>
<circle cx="1092.1" cy="716.9" r="4.1" fill="#1c7d3a"/>
<circle cx="1106.7" cy="725.4" r="3.2" fill="#156b34"/>
<circle cx="1111.5" cy="723.0" r="3.6" fill="#177337"/>
<circle cx="1103.5" cy="717.7" r="2.2" fill="#115d2d"/>
<circle cx="1087.3" cy="737.5" r="2.2" fill="#115d2d"/>
<circle cx="1099.4" cy="744.1" r="2.2" fill="#115d2d"/>
<circle cx="1110.3" cy="744.3" r="2.2" fill="#115d2d"/>
<circle cx="1078.8" cy="754.5" r="2.2" fill="#115d2d"/>
<circle cx="1103.0" cy="754.0" r="2.2" fill="#115d2d"/>
<circle cx="1095.3" cy="759.4" r="2.2" fill="#115d2d"/>
<circle cx="1141.8" cy="723.0" r="3.2" fill="#156b34"/>
<circle cx="1151.5" cy="725.4" r="3.2" fill="#156b34"/>
<circle cx="1146.6" cy="730.3" r="3.2" fill="#156b34"/>
<circle cx="1156.3" cy="731.5" r="3.6" fill="#177337"/>
<circle cx="1163.6" cy="730.3" r="3.2" fill="#156b34"/>
<circle cx="1170.9" cy="713.3" r="2.7" fill="#136430"/>
<circle cx="1175.7" cy="721.8" r="2.2" fill="#115d2d"/>
<circle cx="1170.9" cy="725.4" r="2.2" fill="#115d2d"/>
<circle cx="1184.9" cy="724.9" r="2.7" fill="#136430"/>
<circle cx="1201.2" cy="724.9" r="2.2" fill="#115d2d"/>
<circle cx="1144.2" cy="748.4" r="2.2" fill="#115d2d"/>
<circle cx="1141.8" cy="758.1" r="2.7" fill="#136430"/>
<circle cx="1151.5" cy="754.5" r="2.2" fill="#115d2d"/>
<circle cx="1126.0" cy="754.5" r="2.7" fill="#136430"/>
<circle cx="1136.9" cy="749.7" r="2.7" fill="#136430"/>
<circle cx="1195.1" cy="732.7" r="3.2" fill="#156b34"/>
<circle cx="1202.4" cy="735.1" r="3.2" fill="#156b34"/>
<circle cx="1209.7" cy="737.5" r="2.7" fill="#136430"/>
<circle cx="1214.5" cy="747.2" r="3.2" fill="#156b34"/>
<circle cx="1207.2" cy="754.5" r="2.7" fill="#136430"/>
<circle cx="1187.8" cy="744.8" r="2.7" fill="#136430"/>
<circle cx="1180.6" cy="749.7" r="3.2" fill="#156b34"/>
<circle cx="1185.4" cy="756.9" r="3.2" fill="#156b34"/>
<circle cx="1197.5" cy="747.2" r="2.7" fill="#136430"/>
<circle cx="1209.7" cy="715.7" r="2.7" fill="#136430"/>
<circle cx="1224.2" cy="715.7" r="2.7" fill="#136430"/>
<circle cx="1229.0" cy="723.0" r="3.2" fill="#156b34"/>
<circle cx="1219.4" cy="737.5" r="2.7" fill="#136430"/>
<circle cx="1180.6" cy="708.5" r="2.7" fill="#136430"/>
<circle cx="1190.3" cy="706.0" r="3.2" fill="#156b34"/>
<circle cx="1195.1" cy="701.2" r="2.7" fill="#136430"/>
<circle cx="1175.7" cy="701.2" r="2.2" fill="#115d2d"/>
<circle cx="1216.9" cy="693.9" r="3.2" fill="#156b34"/>
<circle cx="1224.2" cy="701.2" r="3.2" fill="#156b34"/>
<circle cx="1226.6" cy="706.0" r="2.2" fill="#115d2d"/>
<circle cx="1207.2" cy="906.2" r="5.3" fill="#289642"/>
<circle cx="1083.6" cy="846.3" r="4.8" fill="#238c3f"/>
<circle cx="1078.8" cy="754.7" r="2.2" fill="#115d2d"/>
<circle cx="1103.5" cy="754.7" r="2.7" fill="#136430"/>
<circle cx="1104.2" cy="758.3" r="2.2" fill="#115d2d"/>
<circle cx="1110.3" cy="746.2" r="2.2" fill="#115d2d"/>
<circle cx="1099.4" cy="746.2" r="2.2" fill="#115d2d"/>
<circle cx="1095.7" cy="759.5" r="2.2" fill="#115d2d"/>
<circle cx="1088.5" cy="775.3" r="2.2" fill="#115d2d"/>
<circle cx="1097.0" cy="768.0" r="3.6" fill="#177337"/>
<circle cx="1103.0" cy="775.3" r="2.7" fill="#136430"/>
<circle cx="1112.7" cy="781.4" r="3.6" fill="#177337"/>
<circle cx="1112.7" cy="789.8" r="2.7" fill="#136430"/>
<circle cx="1084.8" cy="788.1" r="2.2" fill="#115d2d"/>
<circle cx="1098.2" cy="783.8" r="2.2" fill="#115d2d"/>
<circle cx="1126.0" cy="758.3" r="2.2" fill="#115d2d"/>
<circle cx="1140.6" cy="757.1" r="2.7" fill="#136430"/>
<circle cx="1145.4" cy="748.6" r="2.2" fill="#115d2d"/>
<circle cx="1151.5" cy="755.9" r="2.2" fill="#115d2d"/>
<circle cx="1156.3" cy="762.0" r="2.2" fill="#115d2d"/>
<circle cx="1146.6" cy="766.8" r="2.7" fill="#136430"/>
<circle cx="1134.5" cy="774.1" r="3.6" fill="#177337"/>
<circle cx="1139.4" cy="769.2" r="3.2" fill="#156b34"/>
<circle cx="1129.7" cy="783.8" r="3.2" fill="#156b34"/>
<circle cx="1139.4" cy="783.8" r="4.4" fill="#1f823c"/>
<circle cx="1136.9" cy="788.6" r="2.7" fill="#136430"/>
<circle cx="1141.8" cy="794.7" r="2.7" fill="#136430"/>
<circle cx="1146.6" cy="797.1" r="2.2" fill="#115d2d"/>
<circle cx="1158.8" cy="782.6" r="2.7" fill="#136430"/>
<circle cx="1104.2" cy="800.7" r="2.2" fill="#115d2d"/>
<circle cx="1115.1" cy="802.0" r="2.2" fill="#115d2d"/>
<circle cx="1120.0" cy="798.8" r="2.2" fill="#115d2d"/>
<circle cx="1112.7" cy="812.9" r="2.7" fill="#136430"/>
<circle cx="1115.1" cy="812.9" r="2.2" fill="#115d2d"/>
<circle cx="1133.3" cy="810.4" r="2.2" fill="#115d2d"/>
<circle cx="1138.2" cy="814.1" r="2.7" fill="#136430"/>
<circle cx="1144.2" cy="809.2" r="3.2" fill="#156b34"/>
<circle cx="1149.1" cy="805.6" r="2.2" fill="#115d2d"/>
<circle cx="1129.7" cy="814.1" r="2.2" fill="#115d2d"/>
<circle cx="1103.0" cy="820.1" r="2.2" fill="#115d2d"/>
<circle cx="1103.5" cy="826.2" r="2.2" fill="#115d2d"/>
<circle cx="1112.7" cy="822.6" r="2.2" fill="#115d2d"/>
<circle cx="1133.3" cy="822.6" r="2.2" fill="#115d2d"/>
<circle cx="1144.2" cy="818.9" r="2.2" fill="#115d2d"/>
<circle cx="1146.6" cy="825.0" r="2.2" fill="#115d2d"/>
<circle cx="1108.6" cy="841.5" r="2.2" fill="#115d2d"/>
<circle cx="1124.8" cy="842.7" r="2.2" fill="#115d2d"/>
<circle cx="1130.9" cy="845.6" r="2.2" fill="#115d2d"/>
<circle cx="1134.5" cy="848.0" r="2.2" fill="#115d2d"/>
<circle cx="1141.8" cy="841.9" r="2.2" fill="#115d2d"/>
<circle cx="1149.1" cy="834.7" r="4.4" fill="#1f823c"/>
<circle cx="1156.3" cy="837.1" r="3.6" fill="#177337"/>
<circle cx="1162.4" cy="835.9" r="2.7" fill="#136430"/>
<circle cx="1169.7" cy="844.4" r="2.2" fill="#115d2d"/>
<circle cx="1170.4" cy="839.5" r="2.2" fill="#115d2d"/>
<circle cx="1083.1" cy="860.9" r="4.1" fill="#1c7d3a"/>
<circle cx="1169.7" cy="854.1" r="2.2" fill="#115d2d"/>
<circle cx="1169.7" cy="860.1" r="2.2" fill="#115d2d"/>
<circle cx="1172.1" cy="868.6" r="2.2" fill="#115d2d"/>
<circle cx="1163.6" cy="870.5" r="2.2" fill="#115d2d"/>
<circle cx="1150.3" cy="866.2" r="2.2" fill="#115d2d"/>
<circle cx="1153.9" cy="871.5" r="2.2" fill="#115d2d"/>
<circle cx="1156.3" cy="877.1" r="2.2" fill="#115d2d"/>
<circle cx="1145.4" cy="883.1" r="2.2" fill="#115d2d"/>
<circle cx="1153.9" cy="884.4" r="2.7" fill="#136430"/>
<circle cx="1158.8" cy="885.6" r="2.2" fill="#115d2d"/>
<circle cx="1163.6" cy="888.7" r="4.1" fill="#1c7d3a"/>
<circle cx="1156.3" cy="895.3" r="2.2" fill="#115d2d"/>
<circle cx="1161.2" cy="896.5" r="2.2" fill="#115d2d"/>
<circle cx="1178.1" cy="884.4" r="3.6" fill="#177337"/>
<circle cx="1184.2" cy="909.3" r="2.2" fill="#115d2d"/>
<circle cx="1188.3" cy="898.4" r="2.2" fill="#115d2d"/>
<circle cx="1195.1" cy="879.8" r="2.7" fill="#136430"/>
<circle cx="1195.1" cy="888.0" r="2.7" fill="#136430"/>
<circle cx="1204.8" cy="892.8" r="2.2" fill="#115d2d"/>
<circle cx="1215.7" cy="900.1" r="2.2" fill="#115d2d"/>
<circle cx="1219.8" cy="910.5" r="2.2" fill="#115d2d"/>
<circle cx="1227.8" cy="894.8" r="2.2" fill="#115d2d"/>
<circle cx="1230.3" cy="883.1" r="2.7" fill="#136430"/>
<circle cx="1214.5" cy="880.7" r="3.2" fill="#156b34"/>
<circle cx="1219.4" cy="881.9" r="2.7" fill="#136430"/>
<circle cx="1224.2" cy="880.7" r="2.2" fill="#115d2d"/>
<circle cx="1202.4" cy="875.9" r="4.4" fill="#1f823c"/>
<circle cx="1190.3" cy="856.5" r="4.4" fill="#1f823c"/>
<circle cx="1185.4" cy="846.8" r="2.7" fill="#136430"/>
<circle cx="1180.6" cy="837.1" r="4.4" fill="#1f823c"/>
<circle cx="1183.0" cy="828.6" r="3.6" fill="#177337"/>
<circle cx="1180.6" cy="844.4" r="3.6" fill="#177337"/>
<circle cx="1195.1" cy="844.4" r="3.2" fill="#156b34"/>
<circle cx="1200.0" cy="849.2" r="2.7" fill="#136430"/>
<circle cx="1209.7" cy="844.4" r="3.2" fill="#156b34"/>
<circle cx="1214.5" cy="837.1" r="3.6" fill="#177337"/>
<circle cx="1219.4" cy="834.7" r="2.7" fill="#136430"/>
<circle cx="1221.8" cy="841.9" r="2.2" fill="#115d2d"/>
<circle cx="1226.6" cy="841.9" r="2.7" fill="#136430"/>
<circle cx="1231.5" cy="840.7" r="2.2" fill="#115d2d"/>
<circle cx="1197.5" cy="814.1" r="4.4" fill="#1f823c"/>
<circle cx="1204.8" cy="817.7" r="2.7" fill="#136430"/>
<circle cx="1214.5" cy="822.6" r="2.7" fill="#136430"/>
<circle cx="1219.4" cy="817.7" r="2.2" fill="#115d2d"/>
<circle cx="1220.6" cy="825.0" r="2.2" fill="#115d2d"/>
<circle cx="1224.2" cy="805.6" r="2.7" fill="#136430"/>
<circle cx="1229.0" cy="810.4" r="2.2" fill="#115d2d"/>
<circle cx="1224.2" cy="800.7" r="2.2" fill="#115d2d"/>
<circle cx="1219.4" cy="793.5" r="2.7" fill="#136430"/>
<circle cx="1224.2" cy="786.2" r="2.2" fill="#115d2d"/>
<circle cx="1229.0" cy="783.8" r="2.2" fill="#115d2d"/>
<circle cx="1174.5" cy="791.0" r="3.2" fill="#156b34"/>
<circle cx="1166.0" cy="793.5" r="3.2" fill="#156b34"/>
<circle cx="1158.8" cy="795.9" r="3.2" fill="#156b34"/>
<circle cx="1156.3" cy="804.4" r="2.7" fill="#136430"/>
<circle cx="1172.1" cy="808.0" r="2.7" fill="#136430"/>
<circle cx="1173.3" cy="817.7" r="2.2" fill="#115d2d"/>
<circle cx="1166.0" cy="818.9" r="2.2" fill="#115d2d"/>
<circle cx="1161.2" cy="822.6" r="2.2" fill="#115d2d"/>
<circle cx="1236.3" cy="781.4" r="2.2" fill="#115d2d"/>
<circle cx="1242.4" cy="780.1" r="2.7" fill="#136430"/>
<circle cx="1236.3" cy="787.4" r="2.2" fill="#115d2d"/>
<circle cx="1241.2" cy="793.5" r="2.2" fill="#115d2d"/>
<circle cx="1233.9" cy="800.7" r="2.2" fill="#115d2d"/>
<circle cx="1248.4" cy="789.8" r="2.2" fill="#115d2d"/>
<circle cx="1256.9" cy="791.0" r="2.2" fill="#115d2d"/>
<circle cx="1260.6" cy="791.0" r="2.2" fill="#115d2d"/>
<circle cx="1259.3" cy="781.4" r="2.2" fill="#115d2d"/>
<circle cx="1251.6" cy="757.8" r="3.6" fill="#177337"/>
<circle cx="1260.6" cy="751.1" r="2.2" fill="#115d2d"/>
<circle cx="1256.4" cy="766.1" r="2.2" fill="#115d2d"/>
<circle cx="1248.4" cy="806.8" r="2.2" fill="#115d2d"/>
<circle cx="1254.5" cy="809.2" r="2.2" fill="#115d2d"/>
<circle cx="1259.3" cy="810.4" r="2.7" fill="#136430"/>
<circle cx="1265.4" cy="812.9" r="2.2" fill="#115d2d"/>
<circle cx="1265.4" cy="800.7" r="2.2" fill="#115d2d"/>
<circle cx="1273.9" cy="797.8" r="3.6" fill="#177337"/>
<circle cx="1282.4" cy="814.1" r="2.2" fill="#115d2d"/>
<circle cx="1290.8" cy="805.6" r="2.2" fill="#115d2d"/>
<circle cx="1255.7" cy="822.6" r="4.4" fill="#1f823c"/>
<circle cx="1260.6" cy="826.2" r="3.2" fill="#156b34"/>
<circle cx="1265.4" cy="828.6" r="2.7" fill="#136430"/>
<circle cx="1249.6" cy="832.3" r="2.2" fill="#115d2d"/>
<circle cx="1236.3" cy="831.0" r="2.2" fill="#115d2d"/>
<circle cx="1229.0" cy="831.0" r="2.2" fill="#115d2d"/>
<circle cx="1241.2" cy="822.6" r="2.2" fill="#115d2d"/>
<circle cx="1269.0" cy="777.7" r="3.2" fill="#156b34"/>
<circle cx="1272.7" cy="771.7" r="2.7" fill="#136430"/>
<circle cx="1284.8" cy="786.2" r="3.6" fill="#177337"/>
<circle cx="1286.0" cy="772.9" r="2.2" fill="#115d2d"/>
<circle cx="1292.1" cy="778.9" r="2.2" fill="#115d2d"/>
<circle cx="1301.8" cy="786.2" r="2.2" fill="#115d2d"/>
<circle cx="1300.5" cy="791.0" r="2.2" fill="#115d2d"/>
<circle cx="1301.8" cy="798.3" r="2.2" fill="#115d2d"/>
<circle cx="1299.3" cy="763.2" r="2.7" fill="#136430"/>
<circle cx="1300.5" cy="760.8" r="2.2" fill="#115d2d"/>
<circle cx="1289.6" cy="748.6" r="2.7" fill="#136430"/>
<circle cx="1312.7" cy="749.8" r="2.2" fill="#115d2d"/>
<circle cx="1323.1" cy="754.7" r="4.1" fill="#1c7d3a"/>
<circle cx="1321.1" cy="762.0" r="2.2" fill="#115d2d"/>
<circle cx="1355.1" cy="748.6" r="2.2" fill="#115d2d"/>
<circle cx="1311.4" cy="777.7" r="2.2" fill="#115d2d"/>
<circle cx="1321.1" cy="783.3" r="3.6" fill="#177337"/>
<circle cx="1346.1" cy="792.3" r="2.2" fill="#115d2d"/>
<circle cx="1319.9" cy="806.8" r="3.2" fill="#156b34"/>
<circle cx="1355.1" cy="808.5" r="2.2" fill="#115d2d"/>
<circle cx="1288.4" cy="822.6" r="2.2" fill="#115d2d"/>
<circle cx="1293.3" cy="822.6" r="2.7" fill="#136430"/>
<circle cx="1296.9" cy="822.6" r="2.2" fill="#115d2d"/>
<circle cx="1305.4" cy="817.2" r="2.2" fill="#115d2d"/>
<circle cx="1304.2" cy="829.8" r="2.2" fill="#115d2d"/>
<circle cx="1298.1" cy="836.6" r="2.2" fill="#115d2d"/>
<circle cx="1293.3" cy="843.2" r="2.2" fill="#115d2d"/>
<circle cx="1294.0" cy="851.6" r="2.2" fill="#115d2d"/>
<circle cx="1306.1" cy="850.4" r="2.2" fill="#115d2d"/>
<circle cx="1318.0" cy="839.0" r="2.2" fill="#115d2d"/>
<circle cx="1324.1" cy="851.6" r="2.2" fill="#115d2d"/>
<circle cx="1337.6" cy="845.1" r="2.2" fill="#115d2d"/>
<circle cx="1312.7" cy="861.3" r="2.2" fill="#115d2d"/>
<circle cx="1318.7" cy="867.4" r="2.2" fill="#115d2d"/>
<circle cx="1324.1" cy="873.0" r="2.2" fill="#115d2d"/>
<circle cx="1266.1" cy="840.2" r="3.6" fill="#177337"/>
<circle cx="1255.7" cy="849.7" r="2.2" fill="#115d2d"/>
<circle cx="1270.2" cy="851.2" r="2.2" fill="#115d2d"/>
<circle cx="1279.9" cy="843.2" r="2.2" fill="#115d2d"/>
<circle cx="1243.1" cy="856.5" r="4.4" fill="#1f823c"/>
<circle cx="1237.0" cy="863.0" r="2.2" fill="#115d2d"/>
<circle cx="1256.9" cy="863.8" r="3.6" fill="#177337"/>
<circle cx="1267.8" cy="875.9" r="2.2" fill="#115d2d"/>
<circle cx="1293.3" cy="885.6" r="2.2" fill="#115d2d"/>
<circle cx="1269.0" cy="889.9" r="2.2" fill="#115d2d"/>
<circle cx="1254.0" cy="885.1" r="4.8" fill="#238c3f"/>
<circle cx="1254.5" cy="877.1" r="2.2" fill="#115d2d"/>
<circle cx="1200.3" cy="828.3" r="3.7" fill="#187437"/>
<circle cx="1129.0" cy="769.3" r="2.8" fill="#136631"/>
<circle cx="1203.4" cy="862.5" r="2.5" fill="#126230"/>
<circle cx="1170.1" cy="855.4" r="3.4" fill="#166e35"/>
<circle cx="1190.6" cy="792.4" r="2.5" fill="#126230"/>
<circle cx="1213.1" cy="757.0" r="2.8" fill="#136631"/>
<circle cx="1235.4" cy="833.4" r="2.8" fill="#136631"/>
<circle cx="1216.8" cy="685.2" r="3.7" fill="#187437"/>
<circle cx="1199.4" cy="696.9" r="2.5" fill="#126230"/>
<circle cx="1241.9" cy="670.9" r="2.8" fill="#136631"/>
<circle cx="1240.5" cy="705.1" r="2.8" fill="#136631"/>
<circle cx="1160.4" cy="875.3" r="3.7" fill="#187437"/>
<circle cx="1230.5" cy="803.5" r="2.8" fill="#136631"/>
<circle cx="1238.2" cy="817.5" r="3.4" fill="#166e35"/>
<circle cx="1161.2" cy="747.0" r="2.8" fill="#136631"/>
<circle cx="1237.6" cy="726.2" r="3.1" fill="#146a33"/>
<circle cx="1161.8" cy="798.7" r="2.5" fill="#126230"/>
<circle cx="1196.9" cy="821.2" r="2.5" fill="#126230"/>
<circle cx="1162.7" cy="844.8" r="3.4" fill="#166e35"/>
<circle cx="1208.8" cy="709.4" r="3.4" fill="#166e35"/>
<circle cx="1210.0" cy="682.0" r="2.5" fill="#126230"/>
<circle cx="1239.4" cy="746.2" r="3.4" fill="#166e35"/>
<circle cx="1127.9" cy="838.3" r="3.1" fill="#146a33"/>
<circle cx="1170.6" cy="849.7" r="3.4" fill="#166e35"/>
<circle cx="1131.3" cy="708.6" r="2.8" fill="#136631"/>
<circle cx="1139.8" cy="722.5" r="3.4" fill="#166e35"/>
<circle cx="1166.9" cy="745.6" r="3.7" fill="#187437"/>
<circle cx="1155.5" cy="768.7" r="3.7" fill="#187437"/>
<circle cx="1215.1" cy="840.3" r="3.1" fill="#146a33"/>
<circle cx="1129.9" cy="871.9" r="2.5" fill="#126230"/>
<circle cx="1150.7" cy="779.6" r="3.1" fill="#146a33"/>
<circle cx="1235.6" cy="742.5" r="3.7" fill="#187437"/>
<circle cx="1136.7" cy="816.3" r="3.1" fill="#146a33"/>
<circle cx="1147.0" cy="686.6" r="2.8" fill="#136631"/>
<circle cx="1212.0" cy="735.9" r="3.4" fill="#166e35"/>
<circle cx="1145.0" cy="680.0" r="3.7" fill="#187437"/>
<circle cx="1189.5" cy="756.5" r="2.8" fill="#136631"/>
<circle cx="1214.3" cy="743.3" r="3.1" fill="#146a33"/>
<circle cx="1180.0" cy="759.9" r="2.5" fill="#126230"/>
<circle cx="1242.8" cy="806.4" r="3.4" fill="#166e35"/>
<circle cx="1165.5" cy="714.0" r="3.7" fill="#187437"/>
<circle cx="1239.4" cy="804.6" r="3.4" fill="#166e35"/>
<circle cx="1138.4" cy="762.7" r="2.8" fill="#136631"/>
<circle cx="1132.7" cy="759.6" r="2.8" fill="#136631"/>
<circle cx="1179.8" cy="883.3" r="2.8" fill="#136631"/>
<circle cx="1242.5" cy="766.7" r="3.4" fill="#166e35"/>
<circle cx="1208.0" cy="737.6" r="3.1" fill="#146a33"/>
<circle cx="1160.4" cy="756.2" r="2.8" fill="#136631"/>
<circle cx="1139.0" cy="845.7" r="3.7" fill="#187437"/>
<circle cx="1240.5" cy="803.8" r="3.4" fill="#166e35"/>
<circle cx="1229.4" cy="708.3" r="3.4" fill="#166e35"/>
<circle cx="1158.1" cy="837.1" r="3.7" fill="#187437"/>
<circle cx="1168.9" cy="838.0" r="3.1" fill="#146a33"/>
<circle cx="1208.8" cy="811.8" r="3.1" fill="#146a33"/>
<circle cx="1169.2" cy="820.3" r="3.1" fill="#146a33"/>
</g>
<g>
<circle cx="233.0" cy="1224.5" r="13.8" fill="#fef0e4" stroke="#e98a3d" stroke-width="1.1"/>
<circle cx="202.7" cy="1250.0" r="13.8" fill="#fef0e4" stroke="#e98a3d" stroke-width="1.1"/>
<circle cx="197.9" cy="1276.6" r="13.8" fill="#fef0e4" stroke="#e98a3d" stroke-width="1.1"/>
<circle cx="182.1" cy="1291.2" r="13.8" fill="#fef0e4" stroke="#e98a3d" stroke-width="1.1"/>
<circle cx="217.3" cy="1283.9" r="13.3" fill="#fef0e4" stroke="#e98a3d" stroke-width="1.1"/>
<circle cx="251.2" cy="1245.1" r="13.3" fill="#fef0e4" stroke="#e98a3d" stroke-width="1.1"/>
<circle cx="285.1" cy="1245.1" r="12.1" fill="#fef0e4" stroke="#e98a3d" stroke-width="1.1"/>
<circle cx="304.5" cy="1264.5" r="12.1" fill="#fef0e4" stroke="#e98a3d" stroke-width="1.1"/>
<circle cx="338.4" cy="1288.8" r="13.8" fill="#fef0e4" stroke="#e98a3d" stroke-width="1.1"/>
<circle cx="328.7" cy="1300.9" r="13.3" fill="#fef0e4" stroke="#e98a3d" stroke-width="1.1"/>
<circle cx="287.5" cy="1308.1" r="12.1" fill="#fef0e4" stroke="#e98a3d" stroke-width="1.1"/>
<circle cx="270.6" cy="1339.7" r="9.7" fill="#fef0e4" stroke="#e98a3d" stroke-width="1.1"/>
<circle cx="260.2" cy="1219.7" r="11.6" fill="#4075c4"/>
<circle cx="223.3" cy="1234.2" r="10.9" fill="#4075c4"/>
<circle cx="287.5" cy="1212.9" r="6.1" fill="#3368b8"/>
<circle cx="313.5" cy="1235.9" r="7.3" fill="#3e73c2"/>
<circle cx="183.3" cy="1251.2" r="9.2" fill="#4075c4"/>
<circle cx="194.2" cy="1250.0" r="4.8" fill="#2e63b3"/>
<circle cx="226.9" cy="1252.4" r="13.3" fill="#4075c4"/>
<circle cx="243.9" cy="1250.0" r="12.1" fill="#4075c4"/>
<circle cx="263.3" cy="1252.4" r="13.3" fill="#4075c4"/>
<circle cx="275.4" cy="1237.9" r="9.7" fill="#4075c4"/>
<circle cx="285.1" cy="1262.1" r="10.9" fill="#4075c4"/>
<circle cx="224.5" cy="1271.8" r="10.9" fill="#4075c4"/>
<circle cx="241.5" cy="1271.8" r="12.1" fill="#4075c4"/>
<circle cx="260.9" cy="1271.8" r="10.9" fill="#4075c4"/>
<circle cx="277.8" cy="1276.6" r="9.7" fill="#4075c4"/>
<circle cx="226.9" cy="1298.5" r="9.7" fill="#4075c4"/>
<circle cx="243.9" cy="1296.0" r="10.9" fill="#4075c4"/>
<circle cx="260.9" cy="1300.9" r="10.9" fill="#4075c4"/>
<circle cx="277.8" cy="1296.0" r="9.7" fill="#4075c4"/>
<circle cx="299.7" cy="1288.8" r="9.7" fill="#4075c4"/>
<circle cx="311.8" cy="1293.6" r="10.9" fill="#4075c4"/>
<circle cx="314.2" cy="1303.3" r="9.7" fill="#4075c4"/>
<circle cx="251.2" cy="1320.3" r="12.1" fill="#4075c4"/>
<circle cx="265.7" cy="1317.8" r="9.7" fill="#4075c4"/>
<circle cx="287.5" cy="1320.3" r="9.7" fill="#4075c4"/>
<circle cx="294.8" cy="1330.0" r="9.7" fill="#4075c4"/>
<circle cx="236.6" cy="1327.5" r="9.7" fill="#4075c4"/>
<circle cx="222.1" cy="1343.3" r="9.7" fill="#4075c4"/>
<circle cx="256.0" cy="1343.3" r="9.7" fill="#4075c4"/>
<circle cx="299.7" cy="1343.3" r="9.7" fill="#4075c4"/>
<circle cx="343.3" cy="1315.4" r="8.5" fill="#4075c4"/>
<circle cx="348.1" cy="1330.0" r="6.1" fill="#3368b8"/>
<circle cx="354.2" cy="1304.5" r="6.1" fill="#3368b8"/>
<circle cx="334.8" cy="1337.2" r="6.1" fill="#3368b8"/>
<circle cx="308.9" cy="1324.4" r="4.8" fill="#2e63b3"/>
<circle cx="225.7" cy="1348.5" r="10.9" fill="#4075c4"/>
<circle cx="260.9" cy="1349.7" r="10.9" fill="#4075c4"/>
<circle cx="297.2" cy="1347.3" r="9.7" fill="#4075c4"/>
<circle cx="168.8" cy="1368.6" r="6.1" fill="#3368b8"/>
<circle cx="190.1" cy="1369.1" r="6.8" fill="#3a6fbe"/>
<circle cx="176.5" cy="1393.3" r="10.9" fill="#4075c4"/>
<circle cx="326.3" cy="1362.3" r="10.9" fill="#4075c4"/>
<circle cx="207.6" cy="1388.5" r="9.7" fill="#4075c4"/>
<circle cx="223.3" cy="1376.4" r="9.7" fill="#4075c4"/>
<circle cx="239.1" cy="1375.1" r="8.5" fill="#4075c4"/>
<circle cx="243.9" cy="1386.0" r="10.9" fill="#4075c4"/>
<circle cx="256.0" cy="1366.7" r="10.9" fill="#4075c4"/>
<circle cx="265.7" cy="1378.8" r="10.9" fill="#4075c4"/>
<circle cx="222.1" cy="1400.6" r="9.7" fill="#4075c4"/>
<circle cx="239.1" cy="1400.6" r="9.7" fill="#4075c4"/>
<circle cx="273.0" cy="1395.7" r="12.1" fill="#4075c4"/>
<circle cx="287.5" cy="1395.7" r="8.5" fill="#4075c4"/>
<circle cx="208.8" cy="1418.8" r="8.5" fill="#4075c4"/>
<circle cx="231.8" cy="1412.7" r="9.7" fill="#4075c4"/>
<circle cx="248.8" cy="1420.0" r="12.1" fill="#4075c4"/>
<circle cx="265.7" cy="1412.7" r="9.7" fill="#4075c4"/>
<circle cx="285.1" cy="1415.1" r="10.9" fill="#4075c4"/>
<circle cx="297.2" cy="1429.7" r="8.5" fill="#4075c4"/>
<circle cx="229.4" cy="1433.3" r="8.5" fill="#4075c4"/>
<circle cx="248.8" cy="1446.6" r="8.5" fill="#4075c4"/>
<circle cx="270.6" cy="1444.2" r="9.7" fill="#4075c4"/>
<circle cx="275.4" cy="1458.8" r="9.7" fill="#4075c4"/>
<circle cx="302.1" cy="1449.1" r="10.9" fill="#4075c4"/>
<circle cx="326.3" cy="1466.0" r="10.9" fill="#4075c4"/>
<circle cx="202.0" cy="1447.1" r="5.3" fill="#2e63b3"/>
<circle cx="211.7" cy="1467.2" r="6.1" fill="#3368b8"/>
<circle cx="316.1" cy="1381.2" r="4.8" fill="#2e63b3"/>
<circle cx="328.7" cy="1384.8" r="5.3" fill="#2e63b3"/>
<circle cx="344.5" cy="1393.3" r="5.3" fill="#2e63b3"/>
<circle cx="242.6" cy="1319.7" r="11.4" fill="#4075c4"/>
<circle cx="259.7" cy="1319.7" r="11.4" fill="#4075c4"/>
<circle cx="234.0" cy="1342.5" r="10.0" fill="#4075c4"/>
<circle cx="276.8" cy="1359.6" r="10.0" fill="#4075c4"/>
<circle cx="251.1" cy="1376.7" r="10.0" fill="#4075c4"/>
<circle cx="271.1" cy="1376.7" r="11.4" fill="#4075c4"/>
<circle cx="282.5" cy="1393.8" r="10.0" fill="#4075c4"/>
<circle cx="259.7" cy="1416.6" r="10.0" fill="#4075c4"/>
<circle cx="285.3" cy="1425.1" r="10.0" fill="#4075c4"/>
<circle cx="248.3" cy="1445.1" r="8.6" fill="#4075c4"/>
<circle cx="276.8" cy="1445.1" r="10.0" fill="#4075c4"/>
<circle cx="299.6" cy="1445.1" r="8.6" fill="#4075c4"/>
<circle cx="299.6" cy="1296.8" r="10.0" fill="#4075c4"/>
<circle cx="288.2" cy="1336.8" r="10.0" fill="#4075c4"/>
<circle cx="236.8" cy="1245.5" r="11.4" fill="#4075c4"/>
<circle cx="259.7" cy="1259.8" r="11.4" fill="#4075c4"/>
<circle cx="249.5" cy="1197.4" r="4.1" fill="#2155a2"/>
<circle cx="265.2" cy="1199.8" r="2.2" fill="#173d77"/>
<circle cx="283.2" cy="1202.7" r="2.2" fill="#173d77"/>
<circle cx="303.3" cy="1202.7" r="2.2" fill="#173d77"/>
<circle cx="308.1" cy="1202.7" r="2.2" fill="#173d77"/>
<circle cx="303.3" cy="1208.8" r="3.6" fill="#1c509c"/>
<circle cx="308.1" cy="1214.8" r="2.2" fill="#173d77"/>
<circle cx="346.9" cy="1211.2" r="2.2" fill="#173d77"/>
<circle cx="213.6" cy="1208.3" r="2.2" fill="#173d77"/>
<circle cx="209.5" cy="1219.2" r="2.2" fill="#173d77"/>
<circle cx="258.5" cy="1220.9" r="4.1" fill="#2155a2"/>
<circle cx="189.4" cy="1233.0" r="2.2" fill="#173d77"/>
<circle cx="201.0" cy="1234.2" r="2.2" fill="#173d77"/>
<circle cx="176.0" cy="1239.8" r="2.2" fill="#173d77"/>
<circle cx="179.7" cy="1235.9" r="2.2" fill="#173d77"/>
<circle cx="168.8" cy="1255.6" r="2.2" fill="#173d77"/>
<circle cx="163.9" cy="1265.7" r="2.2" fill="#173d77"/>
<circle cx="176.0" cy="1276.2" r="2.2" fill="#173d77"/>
<circle cx="166.4" cy="1281.0" r="2.2" fill="#173d77"/>
<circle cx="162.7" cy="1283.9" r="2.2" fill="#173d77"/>
<circle cx="167.6" cy="1291.2" r="3.6" fill="#1c509c"/>
<circle cx="168.8" cy="1302.1" r="2.2" fill="#173d77"/>
<circle cx="173.6" cy="1303.3" r="2.2" fill="#173d77"/>
<circle cx="152.5" cy="1303.3" r="2.2" fill="#173d77"/>
<circle cx="332.4" cy="1238.6" r="2.2" fill="#173d77"/>
<circle cx="343.3" cy="1237.9" r="2.2" fill="#173d77"/>
<circle cx="343.3" cy="1241.5" r="2.2" fill="#173d77"/>
<circle cx="314.2" cy="1251.2" r="2.2" fill="#173d77"/>
<circle cx="299.7" cy="1251.2" r="3.2" fill="#1a4a91"/>
<circle cx="304.5" cy="1262.1" r="2.2" fill="#173d77"/>
<circle cx="311.8" cy="1263.3" r="2.7" fill="#184384"/>
<circle cx="319.0" cy="1258.5" r="2.2" fill="#173d77"/>
<circle cx="323.9" cy="1262.1" r="2.7" fill="#184384"/>
<circle cx="332.4" cy="1256.0" r="2.2" fill="#173d77"/>
<circle cx="331.2" cy="1265.7" r="2.2" fill="#173d77"/>
<circle cx="322.7" cy="1268.9" r="3.6" fill="#1c509c"/>
<circle cx="314.2" cy="1269.4" r="2.2" fill="#173d77"/>
<circle cx="316.6" cy="1276.6" r="2.2" fill="#173d77"/>
<circle cx="323.9" cy="1279.1" r="2.2" fill="#173d77"/>
<circle cx="331.2" cy="1274.2" r="2.2" fill="#173d77"/>
<circle cx="337.2" cy="1280.3" r="2.2" fill="#173d77"/>
<circle cx="342.1" cy="1274.7" r="2.2" fill="#173d77"/>
<circle cx="349.3" cy="1285.1" r="2.7" fill="#184384"/>
<circle cx="356.6" cy="1269.4" r="3.6" fill="#1c509c"/>
<circle cx="360.7" cy="1253.6" r="2.2" fill="#173d77"/>
<circle cx="369.5" cy="1251.9" r="2.2" fill="#173d77"/>
<circle cx="379.6" cy="1263.3" r="2.2" fill="#173d77"/>
<circle cx="368.7" cy="1273.0" r="3.6" fill="#1c509c"/>
<circle cx="356.6" cy="1288.8" r="2.2" fill="#173d77"/>
<circle cx="360.2" cy="1298.5" r="2.2" fill="#173d77"/>
<circle cx="369.9" cy="1296.0" r="2.2" fill="#173d77"/>
<circle cx="431.0" cy="1232.5" r="2.2" fill="#173d77"/>
<circle cx="417.9" cy="1265.7" r="2.2" fill="#173d77"/>
<circle cx="405.8" cy="1291.2" r="2.2" fill="#173d77"/>
<circle cx="408.7" cy="1301.4" r="2.2" fill="#173d77"/>
<circle cx="447.0" cy="1291.7" r="2.2" fill="#173d77"/>
<circle cx="442.7" cy="1304.5" r="2.2" fill="#173d77"/>
<circle cx="431.7" cy="1320.3" r="2.2" fill="#173d77"/>
<circle cx="393.7" cy="1324.6" r="2.2" fill="#173d77"/>
<circle cx="406.3" cy="1335.5" r="2.2" fill="#173d77"/>
<circle cx="367.0" cy="1327.1" r="2.2" fill="#173d77"/>
<circle cx="193.5" cy="1266.5" r="3.6" fill="#1c509c"/>
<circle cx="197.9" cy="1285.1" r="2.2" fill="#173d77"/>
<circle cx="193.0" cy="1281.5" r="2.2" fill="#173d77"/>
<circle cx="190.6" cy="1292.4" r="2.2" fill="#173d77"/>
<circle cx="195.4" cy="1294.8" r="2.2" fill="#173d77"/>
<circle cx="200.3" cy="1293.6" r="2.2" fill="#173d77"/>
<circle cx="193.5" cy="1304.5" r="3.6" fill="#1c509c"/>
<circle cx="180.9" cy="1314.7" r="2.2" fill="#173d77"/>
<circle cx="189.4" cy="1318.3" r="2.2" fill="#173d77"/>
<circle cx="172.4" cy="1323.2" r="3.6" fill="#1c509c"/>
<circle cx="205.1" cy="1316.6" r="2.2" fill="#173d77"/>
<circle cx="214.8" cy="1325.1" r="2.2" fill="#173d77"/>
<circle cx="218.5" cy="1334.8" r="2.2" fill="#173d77"/>
<circle cx="225.7" cy="1330.0" r="2.2" fill="#173d77"/>
<circle cx="195.4" cy="1250.0" r="3.6" fill="#1c509c"/>
<circle cx="211.9" cy="1254.3" r="2.2" fill="#173d77"/>
<circle cx="214.8" cy="1260.9" r="2.2" fill="#173d77"/>
<circle cx="211.9" cy="1282.0" r="2.2" fill="#173d77"/>
<circle cx="216.0" cy="1293.6" r="4.1" fill="#2155a2"/>
<circle cx="229.4" cy="1288.8" r="3.6" fill="#1c509c"/>
<circle cx="231.8" cy="1316.6" r="3.2" fill="#1a4a91"/>
<circle cx="233.0" cy="1325.1" r="2.2" fill="#173d77"/>
<circle cx="241.5" cy="1241.5" r="3.6" fill="#1c509c"/>
<circle cx="234.2" cy="1229.4" r="2.2" fill="#173d77"/>
<circle cx="266.9" cy="1240.3" r="3.2" fill="#1a4a91"/>
<circle cx="279.1" cy="1230.6" r="3.2" fill="#1a4a91"/>
<circle cx="285.1" cy="1229.4" r="2.2" fill="#173d77"/>
<circle cx="291.2" cy="1232.5" r="2.7" fill="#184384"/>
<circle cx="287.5" cy="1240.3" r="2.7" fill="#184384"/>
<circle cx="287.5" cy="1247.6" r="2.7" fill="#184384"/>
<circle cx="275.4" cy="1245.1" r="3.6" fill="#1c509c"/>
<circle cx="268.1" cy="1252.4" r="3.2" fill="#1a4a91"/>
<circle cx="241.5" cy="1254.8" r="3.6" fill="#1c509c"/>
<circle cx="251.2" cy="1262.1" r="2.7" fill="#184384"/>
<circle cx="260.9" cy="1264.5" r="3.2" fill="#1a4a91"/>
<circle cx="277.8" cy="1262.1" r="3.2" fill="#1a4a91"/>
<circle cx="282.7" cy="1269.4" r="3.2" fill="#1a4a91"/>
<circle cx="290.0" cy="1276.6" r="2.7" fill="#184384"/>
<circle cx="294.8" cy="1281.5" r="3.6" fill="#1c509c"/>
<circle cx="299.7" cy="1283.9" r="2.7" fill="#184384"/>
<circle cx="287.5" cy="1286.3" r="3.2" fill="#1a4a91"/>
<circle cx="282.7" cy="1296.0" r="3.2" fill="#1a4a91"/>
<circle cx="275.4" cy="1286.3" r="2.7" fill="#184384"/>
<circle cx="268.1" cy="1281.5" r="3.2" fill="#1a4a91"/>
<circle cx="258.5" cy="1283.9" r="2.7" fill="#184384"/>
<circle cx="246.3" cy="1283.9" r="3.2" fill="#1a4a91"/>
<circle cx="239.1" cy="1279.1" r="3.2" fill="#1a4a91"/>
<circle cx="234.2" cy="1286.3" r="3.2" fill="#1a4a91"/>
<circle cx="243.9" cy="1293.6" r="2.7" fill="#184384"/>
<circle cx="248.8" cy="1300.9" r="3.2" fill="#1a4a91"/>
<circle cx="256.0" cy="1305.7" r="2.7" fill="#184384"/>
<circle cx="265.7" cy="1291.2" r="2.7" fill="#184384"/>
<circle cx="275.4" cy="1305.7" r="3.2" fill="#1a4a91"/>
<circle cx="280.3" cy="1313.0" r="3.2" fill="#1a4a91"/>
<circle cx="290.0" cy="1313.0" r="2.7" fill="#184384"/>
<circle cx="299.7" cy="1305.7" r="3.2" fill="#1a4a91"/>
<circle cx="306.9" cy="1300.9" r="3.2" fill="#1a4a91"/>
<circle cx="319.0" cy="1298.5" r="3.2" fill="#1a4a91"/>
<circle cx="323.9" cy="1308.1" r="3.6" fill="#1c509c"/>
<circle cx="331.2" cy="1313.0" r="2.7" fill="#184384"/>
<circle cx="316.6" cy="1315.4" r="2.2" fill="#173d77"/>
<circle cx="323.9" cy="1321.5" r="2.2" fill="#173d77"/>
<circle cx="319.0" cy="1330.0" r="2.2" fill="#173d77"/>
<circle cx="306.9" cy="1337.2" r="2.2" fill="#173d77"/>
<circle cx="316.6" cy="1343.3" r="2.7" fill="#184384"/>
<circle cx="323.9" cy="1344.5" r="2.7" fill="#184384"/>
<circle cx="338.4" cy="1339.7" r="2.7" fill="#184384"/>
<circle cx="343.3" cy="1344.5" r="2.2" fill="#173d77"/>
<circle cx="348.1" cy="1344.5" r="2.2" fill="#173d77"/>
<circle cx="350.6" cy="1337.2" r="2.2" fill="#173d77"/>
<circle cx="338.4" cy="1326.3" r="2.2" fill="#173d77"/>
<circle cx="241.5" cy="1315.4" r="2.7" fill="#184384"/>
<circle cx="246.3" cy="1327.5" r="3.2" fill="#1a4a91"/>
<circle cx="256.0" cy="1330.0" r="2.7" fill="#184384"/>
<circle cx="265.7" cy="1334.8" r="2.7" fill="#184384"/>
<circle cx="275.4" cy="1330.0" r="3.2" fill="#1a4a91"/>
<circle cx="285.1" cy="1330.0" r="2.7" fill="#184384"/>
<circle cx="239.1" cy="1339.7" r="2.7" fill="#184384"/>
<circle cx="246.3" cy="1339.7" r="2.7" fill="#184384"/>
<circle cx="275.4" cy="1339.7" r="2.7" fill="#184384"/>
<circle cx="285.1" cy="1342.1" r="2.7" fill="#184384"/>
<circle cx="294.8" cy="1339.7" r="2.7" fill="#184384"/>
<circle cx="166.4" cy="1358.2" r="2.2" fill="#173d77"/>
<circle cx="156.2" cy="1389.7" r="2.2" fill="#173d77"/>
<circle cx="172.4" cy="1412.7" r="3.6" fill="#1c509c"/>
<circle cx="142.1" cy="1415.9" r="2.2" fill="#173d77"/>
<circle cx="146.5" cy="1449.1" r="3.2" fill="#1a4a91"/>
<circle cx="180.9" cy="1458.8" r="2.2" fill="#173d77"/>
<circle cx="157.4" cy="1489.5" r="2.2" fill="#173d77"/>
<circle cx="176.0" cy="1408.6" r="2.2" fill="#173d77"/>
<circle cx="184.5" cy="1410.3" r="2.2" fill="#173d77"/>
<circle cx="194.2" cy="1412.7" r="2.2" fill="#173d77"/>
<circle cx="196.7" cy="1403.0" r="2.2" fill="#173d77"/>
<circle cx="184.5" cy="1426.0" r="2.2" fill="#173d77"/>
<circle cx="190.6" cy="1424.8" r="2.2" fill="#173d77"/>
<circle cx="187.0" cy="1434.5" r="2.2" fill="#173d77"/>
<circle cx="190.6" cy="1432.1" r="2.2" fill="#173d77"/>
<circle cx="188.2" cy="1447.9" r="2.2" fill="#173d77"/>
<circle cx="204.4" cy="1354.5" r="2.2" fill="#173d77"/>
<circle cx="214.8" cy="1354.5" r="3.2" fill="#1a4a91"/>
<circle cx="231.8" cy="1357.0" r="2.7" fill="#184384"/>
<circle cx="236.6" cy="1361.8" r="2.7" fill="#184384"/>
<circle cx="219.7" cy="1371.5" r="2.7" fill="#184384"/>
<circle cx="211.2" cy="1384.8" r="3.2" fill="#1a4a91"/>
<circle cx="207.6" cy="1395.7" r="2.2" fill="#173d77"/>
<circle cx="214.8" cy="1424.8" r="3.6" fill="#1c509c"/>
<circle cx="212.4" cy="1421.2" r="2.7" fill="#184384"/>
<circle cx="218.0" cy="1476.9" r="3.2" fill="#1a4a91"/>
<circle cx="224.0" cy="1447.9" r="2.2" fill="#173d77"/>
<circle cx="230.6" cy="1475.7" r="2.2" fill="#173d77"/>
<circle cx="231.8" cy="1486.6" r="2.2" fill="#173d77"/>
<circle cx="235.4" cy="1485.4" r="2.2" fill="#173d77"/>
<circle cx="242.0" cy="1484.9" r="2.2" fill="#173d77"/>
<circle cx="242.0" cy="1490.3" r="2.2" fill="#173d77"/>
<circle cx="231.8" cy="1512.1" r="2.2" fill="#173d77"/>
<circle cx="240.3" cy="1515.7" r="2.2" fill="#173d77"/>
<circle cx="241.5" cy="1456.3" r="3.6" fill="#1c509c"/>
<circle cx="246.3" cy="1461.2" r="3.2" fill="#1a4a91"/>
<circle cx="241.5" cy="1470.9" r="2.2" fill="#173d77"/>
<circle cx="251.2" cy="1458.8" r="2.7" fill="#184384"/>
<circle cx="256.0" cy="1466.0" r="3.2" fill="#1a4a91"/>
<circle cx="260.9" cy="1472.1" r="3.2" fill="#1a4a91"/>
<circle cx="253.6" cy="1474.5" r="2.7" fill="#184384"/>
<circle cx="252.4" cy="1481.8" r="2.2" fill="#173d77"/>
<circle cx="247.5" cy="1501.2" r="2.2" fill="#173d77"/>
<circle cx="253.6" cy="1498.7" r="2.7" fill="#184384"/>
<circle cx="256.0" cy="1501.9" r="2.2" fill="#173d77"/>
<circle cx="250.7" cy="1508.4" r="2.2" fill="#173d77"/>
<circle cx="263.3" cy="1512.6" r="2.2" fill="#173d77"/>
<circle cx="273.7" cy="1501.2" r="2.2" fill="#173d77"/>
<circle cx="272.5" cy="1516.4" r="2.2" fill="#173d77"/>
<circle cx="264.5" cy="1483.0" r="2.2" fill="#173d77"/>
<circle cx="274.2" cy="1485.4" r="3.6" fill="#1c509c"/>
<circle cx="277.8" cy="1493.9" r="2.2" fill="#173d77"/>
<circle cx="285.1" cy="1483.0" r="3.6" fill="#1c509c"/>
<circle cx="290.0" cy="1480.6" r="3.2" fill="#1a4a91"/>
<circle cx="287.5" cy="1473.3" r="2.2" fill="#173d77"/>
<circle cx="291.2" cy="1466.0" r="3.6" fill="#1c509c"/>
<circle cx="291.2" cy="1498.7" r="2.7" fill="#184384"/>
<circle cx="302.1" cy="1498.7" r="2.2" fill="#173d77"/>
<circle cx="291.2" cy="1514.0" r="2.2" fill="#173d77"/>
<circle cx="314.2" cy="1470.9" r="2.2" fill="#173d77"/>
<circle cx="315.4" cy="1479.4" r="2.2" fill="#173d77"/>
<circle cx="325.1" cy="1480.6" r="3.2" fill="#1a4a91"/>
<circle cx="330.0" cy="1478.1" r="2.2" fill="#173d77"/>
<circle cx="333.1" cy="1487.8" r="2.2" fill="#173d77"/>
<circle cx="323.9" cy="1493.9" r="2.7" fill="#184384"/>
<circle cx="323.9" cy="1506.7" r="3.6" fill="#1c509c"/>
<circle cx="316.1" cy="1506.0" r="2.2" fill="#173d77"/>
<circle cx="318.6" cy="1516.4" r="2.2" fill="#173d77"/>
<circle cx="338.4" cy="1480.6" r="2.2" fill="#173d77"/>
<circle cx="337.9" cy="1507.7" r="2.2" fill="#173d77"/>
<circle cx="357.8" cy="1481.3" r="2.2" fill="#173d77"/>
<circle cx="362.7" cy="1495.6" r="3.6" fill="#1c509c"/>
<circle cx="377.2" cy="1501.7" r="2.2" fill="#173d77"/>
<circle cx="382.8" cy="1478.9" r="4.1" fill="#2155a2"/>
<circle cx="375.5" cy="1516.4" r="2.2" fill="#173d77"/>
<circle cx="393.0" cy="1513.8" r="2.2" fill="#173d77"/>
<circle cx="398.5" cy="1512.8" r="2.2" fill="#173d77"/>
<circle cx="370.7" cy="1453.2" r="2.2" fill="#173d77"/>
<circle cx="355.4" cy="1447.4" r="2.2" fill="#173d77"/>
<circle cx="339.6" cy="1446.6" r="2.2" fill="#173d77"/>
<circle cx="343.3" cy="1446.6" r="2.2" fill="#173d77"/>
<circle cx="337.2" cy="1439.4" r="2.2" fill="#173d77"/>
<circle cx="333.6" cy="1430.9" r="2.2" fill="#173d77"/>
<circle cx="323.9" cy="1432.8" r="2.2" fill="#173d77"/>
<circle cx="321.5" cy="1451.0" r="2.2" fill="#173d77"/>
<circle cx="314.2" cy="1430.9" r="2.2" fill="#173d77"/>
<circle cx="315.4" cy="1439.4" r="2.2" fill="#173d77"/>
<circle cx="317.8" cy="1441.8" r="2.2" fill="#173d77"/>
<circle cx="306.9" cy="1438.2" r="2.2" fill="#173d77"/>
<circle cx="304.5" cy="1429.7" r="2.2" fill="#173d77"/>
<circle cx="340.9" cy="1426.0" r="2.2" fill="#173d77"/>
<circle cx="336.0" cy="1422.4" r="2.7" fill="#184384"/>
<circle cx="343.3" cy="1417.6" r="2.7" fill="#184384"/>
<circle cx="333.6" cy="1415.1" r="2.2" fill="#173d77"/>
<circle cx="333.6" cy="1407.9" r="3.2" fill="#1a4a91"/>
<circle cx="321.5" cy="1412.7" r="2.7" fill="#184384"/>
<circle cx="316.6" cy="1412.7" r="2.2" fill="#173d77"/>
<circle cx="319.0" cy="1405.4" r="3.6" fill="#1c509c"/>
<circle cx="323.9" cy="1398.2" r="2.2" fill="#173d77"/>
<circle cx="328.7" cy="1399.4" r="2.2" fill="#173d77"/>
<circle cx="340.9" cy="1405.4" r="2.2" fill="#173d77"/>
<circle cx="345.7" cy="1403.0" r="2.2" fill="#173d77"/>
<circle cx="355.4" cy="1403.0" r="2.2" fill="#173d77"/>
<circle cx="353.0" cy="1397.0" r="2.2" fill="#173d77"/>
<circle cx="352.5" cy="1386.0" r="2.2" fill="#173d77"/>
<circle cx="348.1" cy="1386.0" r="2.2" fill="#173d77"/>
<circle cx="342.1" cy="1386.0" r="2.2" fill="#173d77"/>
<circle cx="333.6" cy="1397.0" r="2.2" fill="#173d77"/>
<circle cx="312.3" cy="1395.7" r="2.2" fill="#173d77"/>
<circle cx="363.9" cy="1418.3" r="2.2" fill="#173d77"/>
<circle cx="371.2" cy="1415.9" r="2.2" fill="#173d77"/>
<circle cx="382.1" cy="1421.2" r="2.2" fill="#173d77"/>
<circle cx="375.3" cy="1399.4" r="2.2" fill="#173d77"/>
<circle cx="401.0" cy="1426.8" r="2.2" fill="#173d77"/>
<circle cx="440.2" cy="1375.1" r="2.2" fill="#173d77"/>
<circle cx="464.0" cy="1423.1" r="2.2" fill="#173d77"/>
<circle cx="468.6" cy="1418.3" r="2.2" fill="#173d77"/>
<circle cx="357.8" cy="1356.5" r="2.2" fill="#173d77"/>
<circle cx="374.8" cy="1358.7" r="2.2" fill="#173d77"/>
<circle cx="389.3" cy="1360.1" r="2.2" fill="#173d77"/>
<circle cx="349.3" cy="1365.4" r="2.2" fill="#173d77"/>
<circle cx="350.1" cy="1343.6" r="2.2" fill="#173d77"/>
<circle cx="343.3" cy="1344.4" r="2.2" fill="#173d77"/>
<circle cx="336.0" cy="1343.6" r="2.2" fill="#173d77"/>
<circle cx="323.9" cy="1343.6" r="2.7" fill="#184384"/>
<circle cx="317.8" cy="1344.8" r="2.2" fill="#173d77"/>
<circle cx="336.0" cy="1369.1" r="3.2" fill="#1a4a91"/>
<circle cx="336.0" cy="1350.9" r="2.2" fill="#173d77"/>
<circle cx="311.8" cy="1357.0" r="2.7" fill="#184384"/>
<circle cx="310.6" cy="1364.2" r="2.2" fill="#173d77"/>
<circle cx="310.6" cy="1367.9" r="2.2" fill="#173d77"/>
<circle cx="299.7" cy="1366.7" r="2.2" fill="#173d77"/>
<circle cx="291.9" cy="1373.9" r="3.2" fill="#1a4a91"/>
<circle cx="290.0" cy="1378.8" r="2.2" fill="#173d77"/>
<circle cx="285.1" cy="1383.6" r="2.2" fill="#173d77"/>
<circle cx="303.3" cy="1381.2" r="3.6" fill="#1c509c"/>
<circle cx="304.5" cy="1389.7" r="3.2" fill="#1a4a91"/>
<circle cx="300.9" cy="1395.7" r="2.7" fill="#184384"/>
<circle cx="297.2" cy="1400.6" r="2.2" fill="#173d77"/>
<circle cx="290.0" cy="1357.0" r="3.6" fill="#1c509c"/>
<circle cx="278.3" cy="1350.9" r="3.2" fill="#1a4a91"/>
<circle cx="270.6" cy="1357.0" r="2.7" fill="#184384"/>
<circle cx="258.5" cy="1361.8" r="2.7" fill="#184384"/>
<circle cx="251.2" cy="1357.0" r="2.2" fill="#173d77"/>
<circle cx="265.7" cy="1388.5" r="2.7" fill="#184384"/>
<circle cx="275.4" cy="1388.5" r="2.7" fill="#184384"/>
<circle cx="280.3" cy="1403.0" r="3.2" fill="#1a4a91"/>
<circle cx="275.4" cy="1410.3" r="2.7" fill="#184384"/>
<circle cx="265.7" cy="1405.4" r="3.2" fill="#1a4a91"/>
<circle cx="256.0" cy="1398.2" r="2.7" fill="#184384"/>
<circle cx="260.9" cy="1412.7" r="2.7" fill="#184384"/>
<circle cx="275.4" cy="1422.4" r="3.2" fill="#1a4a91"/>
<circle cx="285.1" cy="1427.3" r="2.7" fill="#184384"/>
<circle cx="290.0" cy="1436.9" r="3.6" fill="#1c509c"/>
<circle cx="280.3" cy="1436.9" r="3.2" fill="#1a4a91"/>
<circle cx="270.6" cy="1432.1" r="3.2" fill="#1a4a91"/>
<circle cx="260.9" cy="1432.1" r="3.2" fill="#1a4a91"/>
<circle cx="265.7" cy="1439.4" r="2.7" fill="#184384"/>
<circle cx="280.3" cy="1451.5" r="2.7" fill="#184384"/>
<circle cx="290.0" cy="1451.5" r="3.2" fill="#1a4a91"/>
<circle cx="260.9" cy="1453.9" r="3.2" fill="#1a4a91"/>
<circle cx="256.0" cy="1441.8" r="2.7" fill="#184384"/>
<circle cx="243.9" cy="1441.8" r="2.7" fill="#184384"/>
<circle cx="299.7" cy="1439.4" r="2.7" fill="#184384"/>
<circle cx="304.5" cy="1446.6" r="2.2" fill="#173d77"/>
<circle cx="299.7" cy="1458.8" r="2.7" fill="#184384"/>
<circle cx="294.8" cy="1461.2" r="2.2" fill="#173d77"/>
<circle cx="234.2" cy="1395.7" r="2.7" fill="#184384"/>
<circle cx="229.4" cy="1405.4" r="3.2" fill="#1a4a91"/>
<circle cx="236.6" cy="1407.9" r="2.7" fill="#184384"/>
<circle cx="226.9" cy="1388.5" r="2.7" fill="#184384"/>
<circle cx="219.7" cy="1390.9" r="2.2" fill="#173d77"/>
<circle cx="212.4" cy="1403.0" r="2.2" fill="#173d77"/>
<circle cx="272.2" cy="1367.0" r="3.4" fill="#1b4d97"/>
<circle cx="271.9" cy="1438.5" r="2.8" fill="#194588"/>
<circle cx="237.7" cy="1355.3" r="3.7" fill="#1d519c"/>
<circle cx="315.8" cy="1254.1" r="3.1" fill="#1a498f"/>
<circle cx="232.3" cy="1361.9" r="2.5" fill="#184180"/>
<circle cx="290.4" cy="1327.4" r="3.4" fill="#1b4d97"/>
<circle cx="297.9" cy="1380.4" r="2.8" fill="#194588"/>
<circle cx="293.9" cy="1432.8" r="2.5" fill="#184180"/>
<circle cx="221.7" cy="1277.5" r="2.8" fill="#194588"/>
<circle cx="291.0" cy="1419.7" r="3.1" fill="#1a498f"/>
<circle cx="270.5" cy="1435.4" r="3.7" fill="#1d519c"/>
<circle cx="244.0" cy="1302.6" r="2.5" fill="#184180"/>
<circle cx="299.0" cy="1342.2" r="3.1" fill="#1a498f"/>
<circle cx="266.2" cy="1365.0" r="2.5" fill="#184180"/>
<circle cx="305.0" cy="1307.7" r="2.8" fill="#194588"/>
<circle cx="279.9" cy="1238.4" r="3.7" fill="#1d519c"/>
<circle cx="312.4" cy="1328.2" r="3.1" fill="#1a498f"/>
<circle cx="263.6" cy="1463.3" r="2.5" fill="#184180"/>
<circle cx="241.4" cy="1455.9" r="2.5" fill="#184180"/>
<circle cx="274.2" cy="1468.8" r="3.4" fill="#1b4d97"/>
<circle cx="267.9" cy="1368.4" r="2.8" fill="#194588"/>
<circle cx="313.8" cy="1296.6" r="2.5" fill="#184180"/>
<circle cx="254.0" cy="1235.0" r="3.4" fill="#1b4d97"/>
<circle cx="311.3" cy="1259.8" r="2.8" fill="#194588"/>
<circle cx="304.7" cy="1233.8" r="3.4" fill="#1b4d97"/>
<circle cx="316.4" cy="1274.3" r="3.7" fill="#1d519c"/>
<circle cx="238.3" cy="1354.7" r="2.8" fill="#194588"/>
<circle cx="267.9" cy="1324.2" r="3.4" fill="#1b4d97"/>
<circle cx="267.9" cy="1282.9" r="3.1" fill="#1a498f"/>
<circle cx="324.9" cy="1467.6" r="3.7" fill="#1d519c"/>
<circle cx="253.1" cy="1445.7" r="2.8" fill="#194588"/>
<circle cx="238.0" cy="1472.5" r="3.7" fill="#1d519c"/>
<circle cx="296.4" cy="1255.5" r="2.8" fill="#194588"/>
<circle cx="241.4" cy="1294.0" r="3.7" fill="#1d519c"/>
<circle cx="256.2" cy="1303.1" r="2.5" fill="#184180"/>
<circle cx="223.4" cy="1281.7" r="2.8" fill="#194588"/>
<circle cx="216.0" cy="1320.5" r="3.7" fill="#1d519c"/>
<circle cx="272.2" cy="1463.6" r="3.4" fill="#1b4d97"/>
<circle cx="321.0" cy="1264.1" r="3.4" fill="#1b4d97"/>
<circle cx="237.4" cy="1268.6" r="2.8" fill="#194588"/>
<circle cx="319.0" cy="1291.7" r="2.8" fill="#194588"/>
<circle cx="234.3" cy="1383.8" r="3.7" fill="#1d519c"/>
<circle cx="239.1" cy="1461.6" r="3.4" fill="#1b4d97"/>
<circle cx="291.6" cy="1333.3" r="2.5" fill="#184180"/>
<circle cx="228.0" cy="1355.6" r="3.1" fill="#1a498f"/>
<circle cx="244.5" cy="1402.1" r="3.1" fill="#1a498f"/>
<circle cx="267.9" cy="1450.5" r="3.4" fill="#1b4d97"/>
<circle cx="251.7" cy="1273.8" r="2.5" fill="#184180"/>
<circle cx="230.3" cy="1347.3" r="3.7" fill="#1d519c"/>
<circle cx="292.7" cy="1299.1" r="2.8" fill="#194588"/>
<circle cx="310.1" cy="1248.1" r="3.4" fill="#1b4d97"/>
<circle cx="271.3" cy="1245.8" r="2.8" fill="#194588"/>
<circle cx="250.2" cy="1359.9" r="2.8" fill="#194588"/>
<circle cx="225.7" cy="1264.9" r="3.4" fill="#1b4d97"/>
<circle cx="339.8" cy="1390.4" r="3.7" fill="#1d519c"/>
<circle cx="289.0" cy="1265.2" r="2.5" fill="#184180"/>
<circle cx="332.6" cy="1346.5" r="3.1" fill="#1a498f"/>
<circle cx="303.8" cy="1464.5" r="2.5" fill="#184180"/>
<circle cx="290.7" cy="1249.5" r="2.5" fill="#184180"/>
<circle cx="307.8" cy="1308.5" r="2.5" fill="#184180"/>
<circle cx="474.7" cy="1290.3" r="3.4" fill="#1a4d96"/>
</g>
<g>
<circle cx="687.0" cy="1227.0" r="13.8" fill="#fef0e4" stroke="#e98a3d" stroke-width="1.1"/>
<circle cx="655.7" cy="1250.5" r="13.8" fill="#fef0e4" stroke="#e98a3d" stroke-width="1.1"/>
<circle cx="706.6" cy="1245.5" r="13.8" fill="#fef0e4" stroke="#e98a3d" stroke-width="1.1"/>
<circle cx="736.4" cy="1246.3" r="13.8" fill="#fef0e4" stroke="#e98a3d" stroke-width="1.1"/>
<circle cx="721.5" cy="1269.0" r="13.8" fill="#fef0e4" stroke="#e98a3d" stroke-width="1.1"/>
<circle cx="720.7" cy="1252.5" r="13.8" fill="#fef0e4" stroke="#e98a3d" stroke-width="1.1"/>
<circle cx="756.8" cy="1266.6" r="13.8" fill="#fef0e4" stroke="#e98a3d" stroke-width="1.1"/>
<circle cx="654.1" cy="1276.8" r="13.8" fill="#fef0e4" stroke="#e98a3d" stroke-width="1.1"/>
<circle cx="636.9" cy="1290.6" r="13.8" fill="#fef0e4" stroke="#e98a3d" stroke-width="1.1"/>
<circle cx="675.3" cy="1290.6" r="13.8" fill="#fef0e4" stroke="#e98a3d" stroke-width="1.1"/>
<circle cx="672.9" cy="1281.2" r="13.8" fill="#fef0e4" stroke="#e98a3d" stroke-width="1.1"/>
<circle cx="719.2" cy="1280.0" r="13.8" fill="#fef0e4" stroke="#e98a3d" stroke-width="1.1"/>
<circle cx="733.3" cy="1299.6" r="13.8" fill="#fef0e4" stroke="#e98a3d" stroke-width="1.1"/>
<circle cx="794.4" cy="1288.6" r="13.8" fill="#fef0e4" stroke="#e98a3d" stroke-width="1.1"/>
<circle cx="756.0" cy="1302.7" r="13.8" fill="#fef0e4" stroke="#e98a3d" stroke-width="1.1"/>
<circle cx="752.1" cy="1312.9" r="13.8" fill="#fef0e4" stroke="#e98a3d" stroke-width="1.1"/>
<circle cx="778.8" cy="1300.4" r="13.8" fill="#fef0e4" stroke="#e98a3d" stroke-width="1.1"/>
<circle cx="701.1" cy="1310.6" r="13.8" fill="#fef0e4" stroke="#e98a3d" stroke-width="1.1"/>
<circle cx="717.6" cy="1339.3" r="13.8" fill="#fef0e4" stroke="#e98a3d" stroke-width="1.1"/>
<circle cx="720.0" cy="1254.1" r="8.6" fill="#4075c4"/>
<circle cx="687.8" cy="1227.0" r="2.1" fill="#163c76"/>
<circle cx="657.2" cy="1250.5" r="2.1" fill="#163c76"/>
<circle cx="708.2" cy="1246.3" r="2.1" fill="#163c76"/>
<circle cx="736.4" cy="1247.0" r="2.1" fill="#163c76"/>
<circle cx="722.3" cy="1269.8" r="2.1" fill="#163c76"/>
<circle cx="757.6" cy="1266.6" r="2.1" fill="#163c76"/>
<circle cx="654.9" cy="1276.5" r="2.1" fill="#163c76"/>
<circle cx="637.6" cy="1290.6" r="2.1" fill="#163c76"/>
<circle cx="672.9" cy="1280.8" r="2.1" fill="#163c76"/>
<circle cx="676.4" cy="1290.2" r="2.1" fill="#163c76"/>
<circle cx="720.0" cy="1280.0" r="2.1" fill="#163c76"/>
<circle cx="734.9" cy="1300.0" r="2.1" fill="#163c76"/>
<circle cx="794.1" cy="1288.6" r="2.1" fill="#163c76"/>
<circle cx="780.3" cy="1300.7" r="2.1" fill="#163c76"/>
<circle cx="756.8" cy="1304.8" r="2.1" fill="#163c76"/>
<circle cx="752.9" cy="1313.2" r="2.1" fill="#163c76"/>
<circle cx="701.9" cy="1311.0" r="2.1" fill="#163c76"/>
<circle cx="718.4" cy="1339.6" r="2.1" fill="#163c76"/>
<circle cx="727.0" cy="1251.8" r="1.8" fill="#163a72"/>
</g>
<g>
<circle cx="1140.8" cy="1223.9" r="13.9" fill="#fef0e4" stroke="#e98a3d" stroke-width="1.1"/>
<circle cx="1110.1" cy="1249.5" r="13.9" fill="#fef0e4" stroke="#e98a3d" stroke-width="1.1"/>
<circle cx="1106.2" cy="1276.5" r="12.8" fill="#fef0e4" stroke="#e98a3d" stroke-width="1.1"/>
<circle cx="1090.6" cy="1289.8" r="13.3" fill="#fef0e4" stroke="#e98a3d" stroke-width="1.1"/>
<circle cx="1127.2" cy="1282.9" r="12.8" fill="#fef0e4" stroke="#e98a3d" stroke-width="1.1"/>
<circle cx="1160.6" cy="1243.1" r="12.8" fill="#fef0e4" stroke="#e98a3d" stroke-width="1.1"/>
<circle cx="1191.4" cy="1245.7" r="12.8" fill="#fef0e4" stroke="#e98a3d" stroke-width="1.1"/>
<circle cx="1209.4" cy="1263.7" r="12.8" fill="#fef0e4" stroke="#e98a3d" stroke-width="1.1"/>
<circle cx="1246.6" cy="1288.0" r="12.8" fill="#fef0e4" stroke="#e98a3d" stroke-width="1.1"/>
<circle cx="1233.7" cy="1298.3" r="12.8" fill="#fef0e4" stroke="#e98a3d" stroke-width="1.1"/>
<circle cx="1204.2" cy="1303.4" r="11.5" fill="#fef0e4" stroke="#e98a3d" stroke-width="1.1"/>
<circle cx="1155.5" cy="1311.1" r="11.5" fill="#fef0e4" stroke="#e98a3d" stroke-width="1.1"/>
<circle cx="1173.4" cy="1336.8" r="10.3" fill="#fef0e4" stroke="#e98a3d" stroke-width="1.1"/>
<circle cx="1157.3" cy="1197.5" r="7.2" fill="#3d72c1"/>
<circle cx="1215.8" cy="1214.4" r="10.8" fill="#4075c4"/>
<circle cx="1136.2" cy="1239.3" r="11.5" fill="#4075c4"/>
<circle cx="1180.6" cy="1245.7" r="9.0" fill="#4075c4"/>
<circle cx="1194.0" cy="1238.0" r="7.7" fill="#4075c4"/>
<circle cx="1267.1" cy="1253.4" r="10.3" fill="#4075c4"/>
<circle cx="1276.1" cy="1251.6" r="6.4" fill="#366bbb"/>
<circle cx="1232.5" cy="1261.1" r="10.3" fill="#4075c4"/>
<circle cx="1260.7" cy="1275.2" r="10.3" fill="#4075c4"/>
<circle cx="1134.9" cy="1261.1" r="11.5" fill="#4075c4"/>
<circle cx="1129.8" cy="1271.4" r="10.3" fill="#4075c4"/>
<circle cx="1159.3" cy="1257.2" r="10.3" fill="#4075c4"/>
<circle cx="1173.4" cy="1270.1" r="11.5" fill="#4075c4"/>
<circle cx="1152.9" cy="1280.3" r="10.3" fill="#4075c4"/>
<circle cx="1183.7" cy="1285.5" r="10.3" fill="#4075c4"/>
<circle cx="1206.8" cy="1272.6" r="9.0" fill="#4075c4"/>
<circle cx="1122.1" cy="1293.2" r="10.3" fill="#4075c4"/>
<circle cx="1152.9" cy="1306.0" r="10.3" fill="#4075c4"/>
<circle cx="1168.3" cy="1298.3" r="7.7" fill="#4075c4"/>
<circle cx="1215.8" cy="1324.0" r="10.3" fill="#4075c4"/>
<circle cx="1250.4" cy="1316.3" r="10.3" fill="#4075c4"/>
<circle cx="1258.1" cy="1343.2" r="10.3" fill="#4075c4"/>
<circle cx="1173.4" cy="1341.9" r="10.3" fill="#4075c4"/>
<circle cx="1194.0" cy="1316.3" r="7.7" fill="#4075c4"/>
<circle cx="1191.4" cy="1354.8" r="7.7" fill="#4075c4"/>
<circle cx="1229.9" cy="1354.8" r="6.4" fill="#366bbb"/>
<circle cx="1282.5" cy="1357.3" r="6.4" fill="#366bbb"/>
<circle cx="1087.0" cy="1236.2" r="4.6" fill="#2e63b3"/>
<circle cx="1240.9" cy="1238.0" r="3.8" fill="#2e63b3"/>
<circle cx="1075.9" cy="1368.5" r="10.8" fill="#4075c4"/>
<circle cx="1122.6" cy="1368.0" r="5.6" fill="#2f64b4"/>
<circle cx="1165.7" cy="1368.0" r="10.3" fill="#4075c4"/>
<circle cx="1200.4" cy="1357.7" r="7.7" fill="#4075c4"/>
<circle cx="1196.5" cy="1373.1" r="9.0" fill="#4075c4"/>
<circle cx="1231.2" cy="1359.0" r="5.6" fill="#2f64b4"/>
<circle cx="1282.5" cy="1359.0" r="6.4" fill="#366bbb"/>
<circle cx="1256.8" cy="1351.3" r="6.4" fill="#366bbb"/>
<circle cx="1148.3" cy="1393.6" r="10.8" fill="#4075c4"/>
<circle cx="1176.0" cy="1397.5" r="9.0" fill="#4075c4"/>
<circle cx="1191.4" cy="1393.6" r="10.3" fill="#4075c4"/>
<circle cx="1210.6" cy="1388.5" r="10.8" fill="#4075c4"/>
<circle cx="1236.3" cy="1385.9" r="9.0" fill="#4075c4"/>
<circle cx="1224.8" cy="1412.9" r="10.8" fill="#4075c4"/>
<circle cx="1249.1" cy="1411.6" r="10.3" fill="#4075c4"/>
<circle cx="1186.3" cy="1416.7" r="7.7" fill="#4075c4"/>
<circle cx="1194.0" cy="1421.9" r="6.4" fill="#366bbb"/>
<circle cx="1132.4" cy="1433.4" r="9.0" fill="#4075c4"/>
<circle cx="1168.3" cy="1437.2" r="10.3" fill="#4075c4"/>
<circle cx="1178.6" cy="1455.2" r="10.3" fill="#4075c4"/>
<circle cx="1195.2" cy="1457.8" r="9.0" fill="#4075c4"/>
<circle cx="1211.9" cy="1437.2" r="7.7" fill="#4075c4"/>
<circle cx="1094.7" cy="1448.0" r="9.0" fill="#4075c4"/>
<circle cx="1233.7" cy="1465.5" r="10.3" fill="#4075c4"/>
<circle cx="1246.6" cy="1480.9" r="10.3" fill="#4075c4"/>
<circle cx="1308.2" cy="1426.5" r="9.8" fill="#4075c4"/>
<circle cx="1147.3" cy="1456.0" r="5.6" fill="#2f64b4"/>
<circle cx="1171.6" cy="1482.2" r="5.1" fill="#2e63b3"/>
<circle cx="1186.3" cy="1483.4" r="6.4" fill="#366bbb"/>
<circle cx="1217.1" cy="1537.3" r="5.1" fill="#2e63b3"/>
<circle cx="1162.7" cy="1279.7" r="11.4" fill="#4075c4"/>
<circle cx="1174.1" cy="1285.4" r="10.0" fill="#4075c4"/>
<circle cx="1151.3" cy="1308.3" r="11.4" fill="#4075c4"/>
<circle cx="1179.8" cy="1319.7" r="8.6" fill="#4075c4"/>
<circle cx="1171.2" cy="1342.5" r="10.0" fill="#4075c4"/>
<circle cx="1199.7" cy="1359.6" r="10.0" fill="#4075c4"/>
<circle cx="1162.7" cy="1365.3" r="10.0" fill="#4075c4"/>
<circle cx="1185.5" cy="1376.7" r="10.0" fill="#4075c4"/>
<circle cx="1179.8" cy="1399.5" r="10.0" fill="#4075c4"/>
<circle cx="1196.9" cy="1393.8" r="8.6" fill="#4075c4"/>
<circle cx="1174.1" cy="1433.7" r="10.0" fill="#4075c4"/>
<circle cx="1196.9" cy="1456.5" r="10.0" fill="#4075c4"/>
<circle cx="1179.8" cy="1456.5" r="10.0" fill="#4075c4"/>
<circle cx="1202.6" cy="1428.0" r="7.1" fill="#3d72c1"/>
<circle cx="1162.7" cy="1445.1" r="7.1" fill="#3d72c1"/>
<circle cx="1219.7" cy="1342.5" r="8.6" fill="#4075c4"/>
<circle cx="1233.9" cy="1342.5" r="8.6" fill="#4075c4"/>
<circle cx="1214.0" cy="1268.3" r="8.6" fill="#4075c4"/>
<circle cx="1172.7" cy="1200.0" r="2.3" fill="#173e7a"/>
<circle cx="1190.9" cy="1203.4" r="3.8" fill="#1e529e"/>
<circle cx="1210.6" cy="1203.4" r="2.3" fill="#173e7a"/>
<circle cx="1215.8" cy="1202.8" r="2.3" fill="#173e7a"/>
<circle cx="1195.2" cy="1213.1" r="2.8" fill="#194588"/>
<circle cx="1254.3" cy="1211.1" r="2.3" fill="#173e7a"/>
<circle cx="1120.8" cy="1208.5" r="2.3" fill="#173e7a"/>
<circle cx="1117.0" cy="1218.8" r="2.3" fill="#173e7a"/>
<circle cx="1162.7" cy="1217.5" r="2.3" fill="#173e7a"/>
<circle cx="1168.3" cy="1216.2" r="2.8" fill="#194588"/>
<circle cx="1165.7" cy="1223.9" r="3.8" fill="#1e529e"/>
<circle cx="1183.7" cy="1223.9" r="2.3" fill="#173e7a"/>
<circle cx="1108.0" cy="1233.6" r="2.8" fill="#194588"/>
<circle cx="1096.5" cy="1232.9" r="2.3" fill="#173e7a"/>
<circle cx="1083.6" cy="1239.8" r="2.3" fill="#173e7a"/>
<circle cx="1091.3" cy="1250.8" r="2.3" fill="#173e7a"/>
<circle cx="1101.6" cy="1250.3" r="2.3" fill="#173e7a"/>
<circle cx="1119.5" cy="1253.9" r="2.3" fill="#173e7a"/>
<circle cx="1077.2" cy="1255.5" r="2.3" fill="#173e7a"/>
<circle cx="1082.3" cy="1254.7" r="2.3" fill="#173e7a"/>
<circle cx="1071.3" cy="1265.7" r="2.3" fill="#173e7a"/>
<circle cx="1083.6" cy="1275.2" r="2.3" fill="#173e7a"/>
<circle cx="1101.1" cy="1265.7" r="2.3" fill="#173e7a"/>
<circle cx="1070.8" cy="1282.9" r="2.3" fill="#173e7a"/>
<circle cx="1074.6" cy="1281.1" r="2.3" fill="#173e7a"/>
<circle cx="1075.4" cy="1290.6" r="2.3" fill="#173e7a"/>
<circle cx="1100.8" cy="1280.9" r="2.8" fill="#194588"/>
<circle cx="1106.2" cy="1285.0" r="2.3" fill="#173e7a"/>
<circle cx="1097.7" cy="1290.6" r="2.3" fill="#173e7a"/>
<circle cx="1108.0" cy="1293.2" r="2.3" fill="#173e7a"/>
<circle cx="1077.2" cy="1301.6" r="2.3" fill="#173e7a"/>
<circle cx="1082.3" cy="1304.7" r="2.3" fill="#173e7a"/>
<circle cx="1090.8" cy="1297.5" r="2.3" fill="#173e7a"/>
<circle cx="1101.6" cy="1304.7" r="2.3" fill="#173e7a"/>
<circle cx="1060.0" cy="1302.9" r="2.3" fill="#173e7a"/>
<circle cx="1088.8" cy="1313.7" r="2.3" fill="#173e7a"/>
<circle cx="1097.7" cy="1318.8" r="3.8" fill="#1e529e"/>
<circle cx="1113.1" cy="1316.3" r="2.3" fill="#173e7a"/>
<circle cx="1079.8" cy="1323.2" r="2.3" fill="#173e7a"/>
<circle cx="1220.9" cy="1236.2" r="2.3" fill="#173e7a"/>
<circle cx="1250.4" cy="1238.8" r="2.8" fill="#194588"/>
<circle cx="1286.9" cy="1263.1" r="2.3" fill="#173e7a"/>
<circle cx="1277.4" cy="1266.2" r="2.3" fill="#173e7a"/>
<circle cx="1276.1" cy="1273.9" r="2.3" fill="#173e7a"/>
<circle cx="1264.5" cy="1288.0" r="4.4" fill="#2358a5"/>
<circle cx="1276.8" cy="1295.7" r="2.8" fill="#194588"/>
<circle cx="1267.9" cy="1297.5" r="2.3" fill="#173e7a"/>
<circle cx="1259.9" cy="1300.9" r="2.3" fill="#173e7a"/>
<circle cx="1263.2" cy="1303.4" r="2.3" fill="#173e7a"/>
<circle cx="1338.4" cy="1232.4" r="2.3" fill="#173e7a"/>
<circle cx="1325.6" cy="1265.7" r="2.3" fill="#173e7a"/>
<circle cx="1312.8" cy="1291.1" r="2.3" fill="#173e7a"/>
<circle cx="1315.9" cy="1301.4" r="2.3" fill="#173e7a"/>
<circle cx="1354.3" cy="1291.1" r="2.3" fill="#173e7a"/>
<circle cx="1382.1" cy="1290.1" r="2.3" fill="#173e7a"/>
<circle cx="1349.7" cy="1304.2" r="2.3" fill="#173e7a"/>
<circle cx="1339.5" cy="1319.6" r="2.8" fill="#194588"/>
<circle cx="1301.2" cy="1324.7" r="2.3" fill="#173e7a"/>
<circle cx="1314.6" cy="1335.5" r="2.3" fill="#173e7a"/>
<circle cx="1274.3" cy="1327.0" r="4.4" fill="#2358a5"/>
<circle cx="1178.6" cy="1231.6" r="2.3" fill="#173e7a"/>
<circle cx="1183.7" cy="1234.2" r="2.3" fill="#173e7a"/>
<circle cx="1188.8" cy="1231.6" r="2.3" fill="#173e7a"/>
<circle cx="1194.0" cy="1231.6" r="2.3" fill="#173e7a"/>
<circle cx="1200.4" cy="1232.4" r="2.3" fill="#173e7a"/>
<circle cx="1204.2" cy="1252.1" r="2.8" fill="#194588"/>
<circle cx="1209.4" cy="1251.6" r="2.8" fill="#194588"/>
<circle cx="1217.1" cy="1247.0" r="2.3" fill="#173e7a"/>
<circle cx="1222.2" cy="1250.8" r="2.3" fill="#173e7a"/>
<circle cx="1145.2" cy="1254.7" r="3.3" fill="#1a4d95"/>
<circle cx="1147.8" cy="1262.4" r="2.8" fill="#194588"/>
<circle cx="1150.3" cy="1270.1" r="2.8" fill="#194588"/>
<circle cx="1160.6" cy="1264.9" r="3.3" fill="#1a4d95"/>
<circle cx="1165.7" cy="1262.4" r="3.3" fill="#1a4d95"/>
<circle cx="1173.4" cy="1254.7" r="3.3" fill="#1a4d95"/>
<circle cx="1181.1" cy="1262.4" r="3.3" fill="#1a4d95"/>
<circle cx="1186.3" cy="1267.5" r="3.6" fill="#1c509b"/>
<circle cx="1191.4" cy="1254.7" r="3.6" fill="#1c509b"/>
<circle cx="1196.5" cy="1262.4" r="3.3" fill="#1a4d95"/>
<circle cx="1194.0" cy="1272.6" r="3.3" fill="#1a4d95"/>
<circle cx="1201.7" cy="1277.8" r="3.3" fill="#1a4d95"/>
<circle cx="1209.4" cy="1280.3" r="2.8" fill="#194588"/>
<circle cx="1214.5" cy="1272.6" r="3.3" fill="#1a4d95"/>
<circle cx="1222.2" cy="1270.1" r="3.6" fill="#1c509b"/>
<circle cx="1224.8" cy="1277.8" r="2.8" fill="#194588"/>
<circle cx="1229.9" cy="1282.9" r="2.8" fill="#194588"/>
<circle cx="1217.1" cy="1288.0" r="2.3" fill="#173e7a"/>
<circle cx="1222.2" cy="1293.2" r="2.8" fill="#194588"/>
<circle cx="1227.3" cy="1303.4" r="2.8" fill="#194588"/>
<circle cx="1232.5" cy="1308.6" r="3.3" fill="#1a4d95"/>
<circle cx="1240.2" cy="1308.6" r="2.8" fill="#194588"/>
<circle cx="1245.3" cy="1303.4" r="2.3" fill="#173e7a"/>
<circle cx="1242.7" cy="1282.9" r="4.4" fill="#2358a5"/>
<circle cx="1235.0" cy="1290.6" r="2.3" fill="#173e7a"/>
<circle cx="1137.5" cy="1277.8" r="2.3" fill="#173e7a"/>
<circle cx="1132.4" cy="1290.6" r="3.3" fill="#1a4d95"/>
<circle cx="1137.5" cy="1300.9" r="3.6" fill="#1c509b"/>
<circle cx="1142.6" cy="1293.2" r="2.8" fill="#194588"/>
<circle cx="1147.8" cy="1303.4" r="3.3" fill="#1a4d95"/>
<circle cx="1158.0" cy="1293.2" r="3.3" fill="#1a4d95"/>
<circle cx="1163.2" cy="1285.5" r="2.8" fill="#194588"/>
<circle cx="1173.4" cy="1288.0" r="2.8" fill="#194588"/>
<circle cx="1178.6" cy="1295.7" r="2.8" fill="#194588"/>
<circle cx="1183.7" cy="1303.4" r="3.3" fill="#1a4d95"/>
<circle cx="1188.8" cy="1295.7" r="2.3" fill="#173e7a"/>
<circle cx="1196.5" cy="1293.2" r="5.1" fill="#2b5fae"/>
<circle cx="1206.8" cy="1295.7" r="2.8" fill="#194588"/>
<circle cx="1211.9" cy="1290.6" r="2.8" fill="#194588"/>
<circle cx="1142.6" cy="1313.7" r="2.8" fill="#194588"/>
<circle cx="1147.8" cy="1318.8" r="2.8" fill="#194588"/>
<circle cx="1152.9" cy="1313.7" r="3.3" fill="#1a4d95"/>
<circle cx="1158.0" cy="1321.4" r="2.8" fill="#194588"/>
<circle cx="1163.2" cy="1313.7" r="2.8" fill="#194588"/>
<circle cx="1168.3" cy="1308.6" r="3.3" fill="#1a4d95"/>
<circle cx="1173.4" cy="1313.7" r="2.8" fill="#194588"/>
<circle cx="1178.6" cy="1321.4" r="3.3" fill="#1a4d95"/>
<circle cx="1183.7" cy="1313.7" r="3.3" fill="#1a4d95"/>
<circle cx="1188.8" cy="1324.0" r="3.3" fill="#1a4d95"/>
<circle cx="1199.1" cy="1313.7" r="2.8" fill="#194588"/>
<circle cx="1204.2" cy="1324.0" r="2.8" fill="#194588"/>
<circle cx="1196.5" cy="1331.7" r="3.3" fill="#1a4d95"/>
<circle cx="1183.7" cy="1331.7" r="2.8" fill="#194588"/>
<circle cx="1137.5" cy="1318.8" r="2.8" fill="#194588"/>
<circle cx="1138.8" cy="1329.1" r="2.8" fill="#194588"/>
<circle cx="1142.6" cy="1334.2" r="3.3" fill="#1a4d95"/>
<circle cx="1147.8" cy="1334.2" r="2.8" fill="#194588"/>
<circle cx="1152.9" cy="1326.5" r="2.3" fill="#173e7a"/>
<circle cx="1122.1" cy="1324.7" r="2.3" fill="#173e7a"/>
<circle cx="1124.7" cy="1332.9" r="2.3" fill="#173e7a"/>
<circle cx="1129.8" cy="1349.6" r="2.3" fill="#173e7a"/>
<circle cx="1132.4" cy="1354.8" r="3.3" fill="#1a4d95"/>
<circle cx="1137.5" cy="1349.6" r="2.3" fill="#173e7a"/>
<circle cx="1111.9" cy="1353.5" r="2.3" fill="#173e7a"/>
<circle cx="1120.8" cy="1354.8" r="2.3" fill="#173e7a"/>
<circle cx="1073.4" cy="1358.1" r="3.3" fill="#1a4d95"/>
<circle cx="1142.6" cy="1357.3" r="2.8" fill="#194588"/>
<circle cx="1155.5" cy="1344.5" r="3.3" fill="#1a4d95"/>
<circle cx="1160.6" cy="1349.6" r="2.8" fill="#194588"/>
<circle cx="1165.7" cy="1354.8" r="2.8" fill="#194588"/>
<circle cx="1181.1" cy="1349.6" r="2.8" fill="#194588"/>
<circle cx="1191.4" cy="1344.5" r="3.3" fill="#1a4d95"/>
<circle cx="1199.1" cy="1347.1" r="2.8" fill="#194588"/>
<circle cx="1209.4" cy="1347.1" r="2.8" fill="#194588"/>
<circle cx="1217.1" cy="1349.6" r="3.3" fill="#1a4d95"/>
<circle cx="1219.6" cy="1357.3" r="2.8" fill="#194588"/>
<circle cx="1229.9" cy="1336.8" r="3.3" fill="#1a4d95"/>
<circle cx="1235.0" cy="1331.7" r="3.3" fill="#1a4d95"/>
<circle cx="1240.2" cy="1339.4" r="2.8" fill="#194588"/>
<circle cx="1245.3" cy="1347.1" r="2.8" fill="#194588"/>
<circle cx="1224.8" cy="1347.1" r="2.8" fill="#194588"/>
<circle cx="1229.9" cy="1347.1" r="2.8" fill="#194588"/>
<circle cx="1265.8" cy="1354.8" r="2.8" fill="#194588"/>
<circle cx="1245.3" cy="1329.1" r="2.3" fill="#173e7a"/>
<circle cx="1258.1" cy="1329.1" r="2.3" fill="#173e7a"/>
<circle cx="1253.0" cy="1331.7" r="2.3" fill="#173e7a"/>
<circle cx="1235.0" cy="1324.0" r="2.3" fill="#173e7a"/>
<circle cx="1235.0" cy="1318.8" r="2.3" fill="#173e7a"/>
<circle cx="1111.9" cy="1353.8" r="2.3" fill="#173e7a"/>
<circle cx="1120.8" cy="1355.1" r="2.3" fill="#173e7a"/>
<circle cx="1132.4" cy="1356.4" r="3.6" fill="#1c509b"/>
<circle cx="1140.1" cy="1357.7" r="2.3" fill="#173e7a"/>
<circle cx="1145.2" cy="1362.8" r="3.3" fill="#1a4d95"/>
<circle cx="1141.4" cy="1368.0" r="3.3" fill="#1a4d95"/>
<circle cx="1140.1" cy="1375.7" r="3.3" fill="#1a4d95"/>
<circle cx="1131.1" cy="1374.4" r="2.3" fill="#173e7a"/>
<circle cx="1127.2" cy="1370.5" r="2.3" fill="#173e7a"/>
<circle cx="1074.1" cy="1359.0" r="2.3" fill="#173e7a"/>
<circle cx="1093.9" cy="1370.5" r="2.3" fill="#173e7a"/>
<circle cx="1097.7" cy="1369.2" r="2.3" fill="#173e7a"/>
<circle cx="1063.9" cy="1389.8" r="2.3" fill="#173e7a"/>
<circle cx="1084.1" cy="1393.6" r="2.3" fill="#173e7a"/>
<circle cx="1049.8" cy="1416.2" r="2.3" fill="#173e7a"/>
<circle cx="1054.1" cy="1448.8" r="2.3" fill="#173e7a"/>
<circle cx="1064.9" cy="1489.3" r="2.8" fill="#194588"/>
<circle cx="1155.5" cy="1355.1" r="2.3" fill="#173e7a"/>
<circle cx="1160.6" cy="1359.0" r="2.3" fill="#173e7a"/>
<circle cx="1176.0" cy="1360.3" r="2.8" fill="#194588"/>
<circle cx="1181.1" cy="1365.4" r="2.3" fill="#173e7a"/>
<circle cx="1178.6" cy="1375.7" r="2.8" fill="#194588"/>
<circle cx="1173.4" cy="1382.1" r="2.3" fill="#173e7a"/>
<circle cx="1158.0" cy="1375.7" r="2.8" fill="#194588"/>
<circle cx="1152.9" cy="1374.4" r="2.3" fill="#173e7a"/>
<circle cx="1217.1" cy="1356.4" r="2.8" fill="#194588"/>
<circle cx="1219.6" cy="1362.8" r="2.8" fill="#194588"/>
<circle cx="1224.8" cy="1368.0" r="2.3" fill="#173e7a"/>
<circle cx="1209.4" cy="1368.0" r="2.3" fill="#173e7a"/>
<circle cx="1214.5" cy="1352.6" r="2.3" fill="#173e7a"/>
<circle cx="1265.8" cy="1356.4" r="3.3" fill="#1a4d95"/>
<circle cx="1296.6" cy="1360.3" r="2.3" fill="#173e7a"/>
<circle cx="1257.6" cy="1365.9" r="3.3" fill="#1a4d95"/>
<circle cx="1242.7" cy="1353.8" r="2.3" fill="#173e7a"/>
<circle cx="1240.2" cy="1368.0" r="2.3" fill="#173e7a"/>
<circle cx="1235.0" cy="1370.5" r="2.3" fill="#173e7a"/>
<circle cx="1347.9" cy="1375.1" r="2.3" fill="#173e7a"/>
<circle cx="1376.9" cy="1417.5" r="2.3" fill="#173e7a"/>
<circle cx="1371.0" cy="1423.1" r="2.3" fill="#173e7a"/>
<circle cx="1117.0" cy="1385.9" r="2.3" fill="#173e7a"/>
<circle cx="1115.7" cy="1396.2" r="2.3" fill="#173e7a"/>
<circle cx="1104.2" cy="1402.6" r="2.3" fill="#173e7a"/>
<circle cx="1091.3" cy="1410.3" r="2.3" fill="#173e7a"/>
<circle cx="1081.1" cy="1410.3" r="2.3" fill="#173e7a"/>
<circle cx="1078.5" cy="1412.9" r="2.3" fill="#173e7a"/>
<circle cx="1101.6" cy="1412.9" r="2.3" fill="#173e7a"/>
<circle cx="1117.0" cy="1411.6" r="2.3" fill="#173e7a"/>
<circle cx="1114.4" cy="1418.0" r="2.3" fill="#173e7a"/>
<circle cx="1124.7" cy="1398.8" r="2.3" fill="#173e7a"/>
<circle cx="1128.5" cy="1405.2" r="2.3" fill="#173e7a"/>
<circle cx="1132.4" cy="1389.8" r="3.3" fill="#1a4d95"/>
<circle cx="1137.5" cy="1403.9" r="2.3" fill="#173e7a"/>
<circle cx="1142.6" cy="1411.6" r="2.8" fill="#194588"/>
<circle cx="1137.5" cy="1418.0" r="2.3" fill="#173e7a"/>
<circle cx="1145.2" cy="1427.0" r="2.3" fill="#173e7a"/>
<circle cx="1122.1" cy="1424.4" r="2.8" fill="#194588"/>
<circle cx="1091.3" cy="1425.2" r="3.3" fill="#1a4d95"/>
<circle cx="1097.7" cy="1425.7" r="2.3" fill="#173e7a"/>
<circle cx="1092.6" cy="1434.7" r="2.3" fill="#173e7a"/>
<circle cx="1097.7" cy="1433.4" r="2.3" fill="#173e7a"/>
<circle cx="1109.3" cy="1447.0" r="2.3" fill="#173e7a"/>
<circle cx="1087.5" cy="1459.1" r="2.3" fill="#173e7a"/>
<circle cx="1118.8" cy="1467.3" r="2.3" fill="#173e7a"/>
<circle cx="1125.5" cy="1476.5" r="2.3" fill="#173e7a"/>
<circle cx="1138.3" cy="1475.7" r="2.8" fill="#194588"/>
<circle cx="1142.1" cy="1485.2" r="2.3" fill="#173e7a"/>
<circle cx="1149.1" cy="1489.9" r="2.8" fill="#194588"/>
<circle cx="1149.1" cy="1483.4" r="2.3" fill="#173e7a"/>
<circle cx="1148.5" cy="1470.6" r="3.8" fill="#1e529e"/>
<circle cx="1150.3" cy="1401.3" r="2.8" fill="#194588"/>
<circle cx="1155.5" cy="1406.5" r="2.3" fill="#173e7a"/>
<circle cx="1163.2" cy="1397.5" r="2.8" fill="#194588"/>
<circle cx="1168.3" cy="1391.1" r="2.8" fill="#194588"/>
<circle cx="1158.0" cy="1383.4" r="2.3" fill="#173e7a"/>
<circle cx="1168.3" cy="1412.9" r="2.3" fill="#173e7a"/>
<circle cx="1173.4" cy="1411.6" r="2.3" fill="#173e7a"/>
<circle cx="1158.0" cy="1419.3" r="2.8" fill="#194588"/>
<circle cx="1163.2" cy="1424.4" r="2.3" fill="#173e7a"/>
<circle cx="1152.9" cy="1434.7" r="2.3" fill="#173e7a"/>
<circle cx="1147.8" cy="1442.4" r="2.8" fill="#194588"/>
<circle cx="1152.9" cy="1447.5" r="3.8" fill="#1e529e"/>
<circle cx="1158.0" cy="1444.9" r="3.3" fill="#1a4d95"/>
<circle cx="1160.6" cy="1455.2" r="2.8" fill="#194588"/>
<circle cx="1163.2" cy="1462.9" r="2.8" fill="#194588"/>
<circle cx="1168.3" cy="1465.5" r="2.8" fill="#194588"/>
<circle cx="1158.0" cy="1473.2" r="2.8" fill="#194588"/>
<circle cx="1160.6" cy="1480.9" r="2.3" fill="#173e7a"/>
<circle cx="1152.9" cy="1457.8" r="2.3" fill="#173e7a"/>
<circle cx="1178.6" cy="1414.2" r="3.3" fill="#1a4d95"/>
<circle cx="1183.7" cy="1424.4" r="3.3" fill="#1a4d95"/>
<circle cx="1188.8" cy="1429.5" r="2.8" fill="#194588"/>
<circle cx="1194.0" cy="1427.0" r="3.3" fill="#1a4d95"/>
<circle cx="1196.5" cy="1434.7" r="2.8" fill="#194588"/>
<circle cx="1188.8" cy="1437.2" r="2.8" fill="#194588"/>
<circle cx="1183.7" cy="1442.4" r="3.3" fill="#1a4d95"/>
<circle cx="1178.6" cy="1447.5" r="2.8" fill="#194588"/>
<circle cx="1194.0" cy="1447.5" r="3.3" fill="#1a4d95"/>
<circle cx="1201.7" cy="1427.0" r="2.8" fill="#194588"/>
<circle cx="1199.1" cy="1414.2" r="2.8" fill="#194588"/>
<circle cx="1204.2" cy="1409.0" r="2.8" fill="#194588"/>
<circle cx="1201.7" cy="1401.3" r="2.8" fill="#194588"/>
<circle cx="1206.8" cy="1401.3" r="3.3" fill="#1a4d95"/>
<circle cx="1196.5" cy="1396.2" r="2.8" fill="#194588"/>
<circle cx="1183.7" cy="1385.9" r="2.8" fill="#194588"/>
<circle cx="1178.6" cy="1391.1" r="2.8" fill="#194588"/>
<circle cx="1219.6" cy="1380.8" r="2.8" fill="#194588"/>
<circle cx="1219.6" cy="1396.2" r="2.8" fill="#194588"/>
<circle cx="1229.9" cy="1398.8" r="2.3" fill="#173e7a"/>
<circle cx="1237.6" cy="1398.8" r="2.3" fill="#173e7a"/>
<circle cx="1245.3" cy="1385.9" r="3.3" fill="#1a4d95"/>
<circle cx="1250.4" cy="1385.9" r="2.8" fill="#194588"/>
<circle cx="1260.7" cy="1385.9" r="3.6" fill="#1c509b"/>
<circle cx="1258.1" cy="1396.2" r="2.3" fill="#173e7a"/>
<circle cx="1262.0" cy="1402.6" r="2.8" fill="#194588"/>
<circle cx="1254.3" cy="1402.6" r="2.3" fill="#173e7a"/>
<circle cx="1245.3" cy="1419.3" r="3.3" fill="#1a4d95"/>
<circle cx="1247.9" cy="1424.4" r="2.8" fill="#194588"/>
<circle cx="1253.0" cy="1427.0" r="2.3" fill="#173e7a"/>
<circle cx="1242.7" cy="1418.0" r="2.8" fill="#194588"/>
<circle cx="1270.9" cy="1418.0" r="2.3" fill="#173e7a"/>
<circle cx="1278.6" cy="1415.4" r="2.3" fill="#173e7a"/>
<circle cx="1282.5" cy="1399.3" r="2.3" fill="#173e7a"/>
<circle cx="1288.9" cy="1421.1" r="2.3" fill="#173e7a"/>
<circle cx="1263.2" cy="1447.5" r="2.3" fill="#173e7a"/>
<circle cx="1278.6" cy="1453.4" r="2.3" fill="#173e7a"/>
<circle cx="1290.2" cy="1478.8" r="2.3" fill="#173e7a"/>
<circle cx="1265.3" cy="1481.4" r="2.3" fill="#173e7a"/>
<circle cx="1270.4" cy="1495.5" r="2.3" fill="#173e7a"/>
<circle cx="1283.8" cy="1501.4" r="2.3" fill="#173e7a"/>
<circle cx="1282.5" cy="1516.3" r="2.3" fill="#173e7a"/>
<circle cx="1283.8" cy="1519.4" r="2.3" fill="#173e7a"/>
<circle cx="1299.7" cy="1513.5" r="2.3" fill="#173e7a"/>
<circle cx="1306.4" cy="1512.4" r="2.8" fill="#194588"/>
<circle cx="1245.3" cy="1447.5" r="3.3" fill="#1a4d95"/>
<circle cx="1249.1" cy="1446.2" r="2.8" fill="#194588"/>
<circle cx="1247.9" cy="1438.5" r="2.3" fill="#173e7a"/>
<circle cx="1240.2" cy="1430.8" r="2.3" fill="#173e7a"/>
<circle cx="1232.5" cy="1432.6" r="2.3" fill="#173e7a"/>
<circle cx="1229.9" cy="1450.1" r="2.3" fill="#173e7a"/>
<circle cx="1217.1" cy="1455.7" r="2.3" fill="#173e7a"/>
<circle cx="1222.2" cy="1439.8" r="2.8" fill="#194588"/>
<circle cx="1217.1" cy="1434.7" r="2.3" fill="#173e7a"/>
<circle cx="1209.4" cy="1444.9" r="2.3" fill="#173e7a"/>
<circle cx="1206.8" cy="1460.3" r="3.3" fill="#1a4d95"/>
<circle cx="1206.8" cy="1474.5" r="3.3" fill="#1a4d95"/>
<circle cx="1201.7" cy="1470.6" r="2.3" fill="#173e7a"/>
<circle cx="1196.5" cy="1479.6" r="2.8" fill="#194588"/>
<circle cx="1191.4" cy="1486.0" r="3.3" fill="#1a4d95"/>
<circle cx="1196.5" cy="1488.6" r="2.3" fill="#173e7a"/>
<circle cx="1183.7" cy="1473.2" r="2.3" fill="#173e7a"/>
<circle cx="1178.6" cy="1486.0" r="3.3" fill="#1a4d95"/>
<circle cx="1173.4" cy="1473.2" r="2.3" fill="#173e7a"/>
<circle cx="1165.7" cy="1480.9" r="2.3" fill="#173e7a"/>
<circle cx="1222.2" cy="1478.3" r="2.3" fill="#173e7a"/>
<circle cx="1229.9" cy="1491.1" r="2.8" fill="#194588"/>
<circle cx="1232.5" cy="1495.0" r="2.3" fill="#173e7a"/>
<circle cx="1223.5" cy="1505.2" r="2.3" fill="#173e7a"/>
<circle cx="1231.2" cy="1506.0" r="2.3" fill="#173e7a"/>
<circle cx="1245.3" cy="1507.8" r="2.3" fill="#173e7a"/>
<circle cx="1242.7" cy="1522.4" r="2.3" fill="#173e7a"/>
<circle cx="1226.0" cy="1516.8" r="2.3" fill="#173e7a"/>
<circle cx="1209.4" cy="1498.3" r="2.3" fill="#173e7a"/>
<circle cx="1199.1" cy="1513.5" r="2.8" fill="#194588"/>
<circle cx="1196.5" cy="1498.8" r="2.3" fill="#173e7a"/>
<circle cx="1191.4" cy="1493.7" r="2.3" fill="#173e7a"/>
<circle cx="1185.0" cy="1492.4" r="2.3" fill="#173e7a"/>
<circle cx="1180.6" cy="1501.4" r="2.3" fill="#173e7a"/>
<circle cx="1179.9" cy="1515.5" r="2.3" fill="#173e7a"/>
<circle cx="1170.9" cy="1512.2" r="2.3" fill="#173e7a"/>
<circle cx="1165.0" cy="1501.4" r="2.3" fill="#173e7a"/>
<circle cx="1161.1" cy="1498.1" r="2.3" fill="#173e7a"/>
<circle cx="1158.0" cy="1508.3" r="3.3" fill="#1a4d95"/>
<circle cx="1155.5" cy="1502.7" r="2.3" fill="#173e7a"/>
<circle cx="1138.8" cy="1511.7" r="2.3" fill="#173e7a"/>
<circle cx="1147.3" cy="1516.8" r="2.3" fill="#173e7a"/>
<circle cx="1197.8" cy="1538.6" r="2.8" fill="#194588"/>
<circle cx="1219.6" cy="1533.5" r="2.8" fill="#194588"/>
<circle cx="1185.8" cy="1411.2" r="2.8" fill="#194588"/>
<circle cx="1235.9" cy="1403.5" r="2.8" fill="#194588"/>
<circle cx="1218.8" cy="1290.9" r="2.5" fill="#184180"/>
<circle cx="1155.5" cy="1374.4" r="2.8" fill="#194588"/>
<circle cx="1188.0" cy="1276.0" r="3.7" fill="#1d519c"/>
<circle cx="1180.6" cy="1487.3" r="3.1" fill="#1a498f"/>
<circle cx="1194.9" cy="1438.0" r="3.1" fill="#1a498f"/>
<circle cx="1176.9" cy="1445.7" r="3.4" fill="#1b4d97"/>
<circle cx="1241.3" cy="1307.7" r="2.8" fill="#194588"/>
<circle cx="1170.9" cy="1363.6" r="3.7" fill="#1d519c"/>
<circle cx="1157.8" cy="1333.9" r="3.4" fill="#1b4d97"/>
<circle cx="1175.2" cy="1400.3" r="2.5" fill="#184180"/>
<circle cx="1164.4" cy="1399.2" r="3.1" fill="#1a498f"/>
<circle cx="1223.1" cy="1412.9" r="3.7" fill="#1d519c"/>
<circle cx="1125.6" cy="1352.2" r="3.4" fill="#1b4d97"/>
<circle cx="1128.7" cy="1375.5" r="3.1" fill="#1a498f"/>
<circle cx="1199.4" cy="1306.8" r="3.4" fill="#1b4d97"/>
<circle cx="1224.8" cy="1308.8" r="3.1" fill="#1a498f"/>
<circle cx="1175.2" cy="1364.4" r="2.8" fill="#194588"/>
<circle cx="1198.3" cy="1382.7" r="2.8" fill="#194588"/>
<circle cx="1183.5" cy="1349.9" r="3.4" fill="#1b4d97"/>
<circle cx="1172.4" cy="1339.9" r="3.4" fill="#1b4d97"/>
<circle cx="1196.9" cy="1279.7" r="3.4" fill="#1b4d97"/>
<circle cx="1184.6" cy="1400.3" r="2.8" fill="#194588"/>
<circle cx="1182.9" cy="1306.5" r="3.1" fill="#1a498f"/>
<circle cx="1137.3" cy="1294.9" r="3.1" fill="#1a498f"/>
<circle cx="1142.7" cy="1463.9" r="3.7" fill="#1d519c"/>
<circle cx="1182.3" cy="1303.1" r="3.4" fill="#1b4d97"/>
<circle cx="1198.6" cy="1386.4" r="3.7" fill="#1d519c"/>
<circle cx="1230.5" cy="1254.9" r="3.7" fill="#1d519c"/>
<circle cx="1184.3" cy="1317.1" r="2.8" fill="#194588"/>
<circle cx="1159.8" cy="1436.3" r="3.7" fill="#1d519c"/>
<circle cx="1205.4" cy="1262.4" r="3.7" fill="#1d519c"/>
<circle cx="1202.9" cy="1380.4" r="3.7" fill="#1d519c"/>
<circle cx="1160.1" cy="1445.7" r="2.5" fill="#184180"/>
<circle cx="1125.6" cy="1373.3" r="2.8" fill="#194588"/>
<circle cx="1204.3" cy="1318.5" r="3.1" fill="#1a498f"/>
<circle cx="1188.0" cy="1382.4" r="2.5" fill="#184180"/>
<circle cx="1223.7" cy="1451.9" r="2.5" fill="#184180"/>
<circle cx="1174.1" cy="1247.0" r="3.1" fill="#1a498f"/>
<circle cx="1210.8" cy="1374.7" r="3.4" fill="#1b4d97"/>
<circle cx="1221.7" cy="1299.7" r="2.8" fill="#194588"/>
<circle cx="1186.0" cy="1367.0" r="2.8" fill="#194588"/>
<circle cx="1196.0" cy="1424.6" r="3.1" fill="#1a498f"/>
<circle cx="1136.1" cy="1297.7" r="3.4" fill="#1b4d97"/>
<circle cx="1214.8" cy="1388.1" r="3.1" fill="#1a498f"/>
<circle cx="1194.3" cy="1349.3" r="3.1" fill="#1a498f"/>
<circle cx="1146.7" cy="1348.7" r="3.1" fill="#1a498f"/>
<circle cx="1177.5" cy="1429.1" r="3.7" fill="#1d519c"/>
<circle cx="1196.3" cy="1468.8" r="3.1" fill="#1a498f"/>
<circle cx="1201.4" cy="1379.8" r="3.1" fill="#1a498f"/>
<circle cx="1221.7" cy="1260.4" r="3.7" fill="#1d519c"/>
<circle cx="1172.6" cy="1454.8" r="2.5" fill="#184180"/>
<circle cx="1195.2" cy="1334.8" r="2.8" fill="#194588"/>
<circle cx="1193.7" cy="1339.6" r="2.5" fill="#184180"/>
<circle cx="1214.5" cy="1329.6" r="2.5" fill="#184180"/>
<circle cx="1166.6" cy="1457.9" r="3.4" fill="#1b4d97"/>
<circle cx="1214.3" cy="1256.1" r="3.7" fill="#1d519c"/>
<circle cx="1165.2" cy="1257.5" r="2.8" fill="#194588"/>
<circle cx="1259.6" cy="1461.9" r="3.7" fill="#1d519c"/>
<circle cx="1184.0" cy="1462.2" r="2.8" fill="#194588"/>
<circle cx="1125.6" cy="1267.2" r="3.1" fill="#1a498f"/>
<circle cx="1210.6" cy="1444.5" r="2.5" fill="#184180"/>
<circle cx="1198.9" cy="1419.7" r="2.8" fill="#194588"/>
<circle cx="1125.6" cy="1352.2" r="3.7" fill="#1d519c"/>
<circle cx="1179.5" cy="1340.8" r="2.5" fill="#184180"/>
<circle cx="1224.0" cy="1273.5" r="2.8" fill="#194588"/>
<circle cx="1131.6" cy="1473.9" r="3.1" fill="#1a498f"/>
<circle cx="1162.4" cy="1478.7" r="3.1" fill="#1a498f"/>
<circle cx="1182.9" cy="1308.8" r="3.1" fill="#1a498f"/>
<circle cx="1195.7" cy="1421.7" r="2.5" fill="#184180"/>
<circle cx="1190.9" cy="1372.4" r="3.1" fill="#1a498f"/>
<circle cx="1259.6" cy="1441.7" r="3.4" fill="#1b4d97"/>
<circle cx="1125.6" cy="1284.3" r="3.1" fill="#1a498f"/>
<circle cx="1196.3" cy="1268.3" r="3.4" fill="#1b4d97"/>
<circle cx="1183.8" cy="1487.0" r="3.4" fill="#1b4d97"/>
<circle cx="1174.6" cy="1281.7" r="3.1" fill="#1a498f"/>
<circle cx="1199.7" cy="1246.4" r="2.5" fill="#184180"/>
<circle cx="1163.5" cy="1300.3" r="2.8" fill="#194588"/>
<circle cx="1183.2" cy="1476.7" r="3.1" fill="#1a498f"/>
<circle cx="1125.6" cy="1430.3" r="3.4" fill="#1b4d97"/>
<circle cx="1238.2" cy="1344.7" r="2.8" fill="#194588"/>
<circle cx="1125.6" cy="1375.5" r="2.8" fill="#194588"/>
<circle cx="1204.6" cy="1431.1" r="3.4" fill="#1b4d97"/>
<circle cx="1192.0" cy="1465.1" r="3.4" fill="#1b4d97"/>
<circle cx="1181.8" cy="1444.5" r="2.8" fill="#194588"/>
<circle cx="1190.6" cy="1277.7" r="2.5" fill="#184180"/>
<circle cx="1190.6" cy="1459.9" r="3.4" fill="#1b4d97"/>
<circle cx="1143.0" cy="1258.9" r="3.4" fill="#1b4d97"/>
<circle cx="1166.6" cy="1252.1" r="3.7" fill="#1d519c"/>
<circle cx="1250.2" cy="1280.3" r="3.7" fill="#1d519c"/>
<circle cx="1196.9" cy="1282.9" r="2.5" fill="#184180"/>
<circle cx="1184.6" cy="1427.4" r="2.8" fill="#194588"/>
<circle cx="1155.2" cy="1363.6" r="3.7" fill="#1d519c"/>
<circle cx="1211.1" cy="1367.6" r="3.7" fill="#1d519c"/>
<circle cx="1203.4" cy="1354.4" r="3.1" fill="#1a498f"/>
<circle cx="1163.8" cy="1372.7" r="3.4" fill="#1b4d97"/>
<circle cx="1153.2" cy="1302.6" r="3.7" fill="#1d519c"/>
<circle cx="1187.5" cy="1467.1" r="3.4" fill="#1b4d97"/>
<circle cx="1173.8" cy="1443.4" r="2.8" fill="#194588"/>
</g>
<g>
<circle cx="229.4" cy="1687.3" r="13.3" fill="#fef0e4" stroke="#e98a3d" stroke-width="1.1"/>
<circle cx="200.3" cy="1711.5" r="13.3" fill="#fef0e4" stroke="#e98a3d" stroke-width="1.1"/>
<circle cx="250.0" cy="1706.7" r="13.3" fill="#fef0e4" stroke="#e98a3d" stroke-width="1.1"/>
<circle cx="262.1" cy="1715.1" r="13.3" fill="#fef0e4" stroke="#e98a3d" stroke-width="1.1"/>
<circle cx="270.6" cy="1711.5" r="13.3" fill="#fef0e4" stroke="#e98a3d" stroke-width="1.1"/>
<circle cx="281.5" cy="1706.7" r="12.1" fill="#fef0e4" stroke="#e98a3d" stroke-width="1.1"/>
<circle cx="300.9" cy="1727.3" r="13.8" fill="#fef0e4" stroke="#e98a3d" stroke-width="1.1"/>
<circle cx="263.3" cy="1740.6" r="13.8" fill="#fef0e4" stroke="#e98a3d" stroke-width="1.1"/>
<circle cx="195.4" cy="1738.2" r="12.1" fill="#fef0e4" stroke="#e98a3d" stroke-width="1.1"/>
<circle cx="216.0" cy="1741.8" r="13.3" fill="#fef0e4" stroke="#e98a3d" stroke-width="1.1"/>
<circle cx="219.7" cy="1751.5" r="12.1" fill="#fef0e4" stroke="#e98a3d" stroke-width="1.1"/>
<circle cx="179.7" cy="1751.5" r="13.3" fill="#fef0e4" stroke="#e98a3d" stroke-width="1.1"/>
<circle cx="245.1" cy="1772.1" r="13.8" fill="#fef0e4" stroke="#e98a3d" stroke-width="1.1"/>
<circle cx="275.4" cy="1758.8" r="12.1" fill="#fef0e4" stroke="#e98a3d" stroke-width="1.1"/>
<circle cx="337.2" cy="1746.6" r="13.3" fill="#fef0e4" stroke="#e98a3d" stroke-width="1.1"/>
<circle cx="323.9" cy="1761.2" r="12.1" fill="#fef0e4" stroke="#e98a3d" stroke-width="1.1"/>
<circle cx="297.2" cy="1775.7" r="10.9" fill="#fef0e4" stroke="#e98a3d" stroke-width="1.1"/>
<circle cx="263.3" cy="1804.8" r="12.1" fill="#fef0e4" stroke="#e98a3d" stroke-width="1.1"/>
<circle cx="265.7" cy="1727.3" r="13.3" fill="#fef0e4" stroke="#e98a3d" stroke-width="1.1"/>
<circle cx="245.1" cy="1678.8" r="10.9" fill="#3db54a"/>
<circle cx="197.4" cy="1698.9" r="6.1" fill="#2fa245"/>
<circle cx="219.2" cy="1736.9" r="6.1" fill="#2fa245"/>
<circle cx="213.6" cy="1744.2" r="4.8" fill="#2a9a43"/>
<circle cx="294.8" cy="1724.8" r="5.3" fill="#2a9a43"/>
<circle cx="294.8" cy="1740.1" r="6.8" fill="#36ab48"/>
<circle cx="192.5" cy="1758.8" r="6.8" fill="#36ab48"/>
<circle cx="204.6" cy="1761.2" r="6.1" fill="#2fa245"/>
<circle cx="222.1" cy="1779.4" r="8.0" fill="#3db54a"/>
<circle cx="173.6" cy="1783.0" r="9.7" fill="#3db54a"/>
<circle cx="190.6" cy="1780.6" r="7.3" fill="#3bb249"/>
<circle cx="264.5" cy="1774.5" r="9.2" fill="#3db54a"/>
<circle cx="291.2" cy="1766.0" r="9.7" fill="#3db54a"/>
<circle cx="292.4" cy="1780.6" r="10.9" fill="#3db54a"/>
<circle cx="309.4" cy="1756.3" r="8.5" fill="#3db54a"/>
<circle cx="311.8" cy="1768.5" r="8.5" fill="#3db54a"/>
<circle cx="344.5" cy="1765.5" r="7.8" fill="#3db54a"/>
<circle cx="208.8" cy="1796.3" r="10.9" fill="#3db54a"/>
<circle cx="190.6" cy="1812.1" r="9.7" fill="#3db54a"/>
<circle cx="222.1" cy="1804.8" r="9.7" fill="#3db54a"/>
<circle cx="359.0" cy="1784.7" r="6.8" fill="#36ab48"/>
<circle cx="430.5" cy="1696.5" r="9.2" fill="#3db54a"/>
<circle cx="265.7" cy="1795.1" r="8.5" fill="#3db54a"/>
<circle cx="285.1" cy="1804.8" r="9.7" fill="#3db54a"/>
<circle cx="290.0" cy="1816.9" r="8.5" fill="#3db54a"/>
<circle cx="260.9" cy="1814.5" r="7.3" fill="#3bb249"/>
<circle cx="190.6" cy="1817.3" r="9.7" fill="#3db54a"/>
<circle cx="190.6" cy="1834.2" r="10.9" fill="#3db54a"/>
<circle cx="228.2" cy="1816.1" r="9.7" fill="#3db54a"/>
<circle cx="240.3" cy="1835.4" r="10.9" fill="#3db54a"/>
<circle cx="263.3" cy="1822.1" r="9.7" fill="#3db54a"/>
<circle cx="290.0" cy="1822.1" r="9.7" fill="#3db54a"/>
<circle cx="275.4" cy="1839.1" r="12.1" fill="#3db54a"/>
<circle cx="285.1" cy="1831.8" r="8.5" fill="#3db54a"/>
<circle cx="199.8" cy="1855.6" r="9.2" fill="#3db54a"/>
<circle cx="165.1" cy="1837.9" r="6.8" fill="#36ab48"/>
<circle cx="299.7" cy="1846.4" r="8.5" fill="#3db54a"/>
<circle cx="280.3" cy="1868.2" r="10.9" fill="#3db54a"/>
<circle cx="270.6" cy="1885.1" r="10.9" fill="#3db54a"/>
<circle cx="275.4" cy="1894.8" r="9.7" fill="#3db54a"/>
<circle cx="280.3" cy="1908.2" r="8.5" fill="#3db54a"/>
<circle cx="340.9" cy="1852.4" r="9.7" fill="#3db54a"/>
<circle cx="350.6" cy="1854.8" r="9.7" fill="#3db54a"/>
<circle cx="346.9" cy="1869.4" r="6.1" fill="#2fa245"/>
<circle cx="331.2" cy="1863.8" r="6.1" fill="#2fa245"/>
<circle cx="223.3" cy="1898.5" r="10.9" fill="#3db54a"/>
<circle cx="224.5" cy="1914.2" r="7.3" fill="#3bb249"/>
<circle cx="201.0" cy="1921.5" r="7.3" fill="#3bb249"/>
<circle cx="302.1" cy="1896.0" r="8.5" fill="#3db54a"/>
<circle cx="299.7" cy="1877.9" r="6.1" fill="#2fa245"/>
<circle cx="344.5" cy="1916.2" r="10.9" fill="#3db54a"/>
<circle cx="235.4" cy="1963.4" r="8.0" fill="#3db54a"/>
<circle cx="264.5" cy="1970.0" r="8.5" fill="#3db54a"/>
<circle cx="264.5" cy="1983.3" r="8.5" fill="#3db54a"/>
<circle cx="275.4" cy="1945.7" r="6.1" fill="#2fa245"/>
<circle cx="279.6" cy="1945.0" r="10.0" fill="#3db54a"/>
<circle cx="296.7" cy="1933.6" r="7.1" fill="#39b049"/>
<circle cx="223.3" cy="1660.6" r="3.2" fill="#156b34"/>
<circle cx="202.0" cy="1666.2" r="2.2" fill="#115d2d"/>
<circle cx="275.4" cy="1654.1" r="2.2" fill="#115d2d"/>
<circle cx="264.0" cy="1669.1" r="2.7" fill="#136430"/>
<circle cx="262.8" cy="1678.1" r="2.2" fill="#115d2d"/>
<circle cx="248.8" cy="1675.1" r="2.2" fill="#115d2d"/>
<circle cx="338.4" cy="1667.9" r="2.2" fill="#115d2d"/>
<circle cx="356.6" cy="1681.2" r="2.2" fill="#115d2d"/>
<circle cx="284.6" cy="1685.6" r="3.2" fill="#156b34"/>
<circle cx="313.0" cy="1684.8" r="3.2" fill="#156b34"/>
<circle cx="225.7" cy="1686.0" r="3.2" fill="#156b34"/>
<circle cx="240.3" cy="1690.9" r="3.6" fill="#177337"/>
<circle cx="247.5" cy="1690.9" r="2.7" fill="#136430"/>
<circle cx="172.4" cy="1695.7" r="2.2" fill="#115d2d"/>
<circle cx="159.6" cy="1705.0" r="2.2" fill="#115d2d"/>
<circle cx="179.7" cy="1704.2" r="2.7" fill="#136430"/>
<circle cx="173.6" cy="1710.3" r="2.2" fill="#115d2d"/>
<circle cx="180.9" cy="1711.5" r="3.6" fill="#177337"/>
<circle cx="179.7" cy="1718.8" r="3.2" fill="#156b34"/>
<circle cx="184.5" cy="1724.8" r="4.1" fill="#1c7d3a"/>
<circle cx="182.1" cy="1732.1" r="2.2" fill="#115d2d"/>
<circle cx="160.8" cy="1726.8" r="2.2" fill="#115d2d"/>
<circle cx="206.3" cy="1719.5" r="2.2" fill="#115d2d"/>
<circle cx="213.6" cy="1724.8" r="2.2" fill="#115d2d"/>
<circle cx="229.4" cy="1723.6" r="3.6" fill="#177337"/>
<circle cx="234.2" cy="1720.0" r="2.2" fill="#115d2d"/>
<circle cx="224.5" cy="1711.5" r="2.2" fill="#115d2d"/>
<circle cx="280.8" cy="1702.3" r="3.2" fill="#156b34"/>
<circle cx="294.8" cy="1698.2" r="3.6" fill="#177337"/>
<circle cx="299.7" cy="1694.5" r="2.2" fill="#115d2d"/>
<circle cx="281.5" cy="1715.9" r="2.2" fill="#115d2d"/>
<circle cx="285.1" cy="1712.2" r="2.2" fill="#115d2d"/>
<circle cx="262.8" cy="1724.1" r="2.7" fill="#136430"/>
<circle cx="248.8" cy="1728.5" r="2.2" fill="#115d2d"/>
<circle cx="247.5" cy="1734.5" r="2.2" fill="#115d2d"/>
<circle cx="240.3" cy="1741.8" r="3.6" fill="#177337"/>
<circle cx="170.7" cy="1746.6" r="3.2" fill="#156b34"/>
<circle cx="177.3" cy="1746.6" r="2.2" fill="#115d2d"/>
<circle cx="184.5" cy="1750.3" r="2.2" fill="#115d2d"/>
<circle cx="170.0" cy="1761.2" r="2.2" fill="#115d2d"/>
<circle cx="197.4" cy="1740.1" r="2.2" fill="#115d2d"/>
<circle cx="190.1" cy="1738.2" r="2.2" fill="#115d2d"/>
<circle cx="212.4" cy="1746.6" r="3.6" fill="#177337"/>
<circle cx="213.6" cy="1751.5" r="2.7" fill="#136430"/>
<circle cx="228.2" cy="1746.6" r="2.2" fill="#115d2d"/>
<circle cx="225.7" cy="1761.2" r="2.2" fill="#115d2d"/>
<circle cx="224.5" cy="1739.4" r="3.2" fill="#156b34"/>
<circle cx="240.3" cy="1756.3" r="4.4" fill="#1f823c"/>
<circle cx="253.6" cy="1752.7" r="3.6" fill="#177337"/>
<circle cx="256.0" cy="1749.1" r="2.2" fill="#115d2d"/>
<circle cx="260.9" cy="1744.2" r="2.2" fill="#115d2d"/>
<circle cx="268.1" cy="1747.9" r="3.2" fill="#156b34"/>
<circle cx="270.1" cy="1738.6" r="2.2" fill="#115d2d"/>
<circle cx="265.7" cy="1760.0" r="2.2" fill="#115d2d"/>
<circle cx="273.0" cy="1764.8" r="2.2" fill="#115d2d"/>
<circle cx="277.8" cy="1767.2" r="2.2" fill="#115d2d"/>
<circle cx="285.1" cy="1751.5" r="3.2" fill="#156b34"/>
<circle cx="290.0" cy="1751.5" r="2.7" fill="#136430"/>
<circle cx="297.2" cy="1753.9" r="2.7" fill="#136430"/>
<circle cx="299.7" cy="1761.2" r="3.2" fill="#156b34"/>
<circle cx="304.5" cy="1751.5" r="2.2" fill="#115d2d"/>
<circle cx="318.6" cy="1717.6" r="2.2" fill="#115d2d"/>
<circle cx="323.9" cy="1727.7" r="2.2" fill="#115d2d"/>
<circle cx="326.3" cy="1726.0" r="2.2" fill="#115d2d"/>
<circle cx="332.4" cy="1728.5" r="2.2" fill="#115d2d"/>
<circle cx="334.8" cy="1728.5" r="2.2" fill="#115d2d"/>
<circle cx="315.4" cy="1735.2" r="2.2" fill="#115d2d"/>
<circle cx="323.4" cy="1734.5" r="2.2" fill="#115d2d"/>
<circle cx="322.0" cy="1739.4" r="2.2" fill="#115d2d"/>
<circle cx="330.0" cy="1743.7" r="2.2" fill="#115d2d"/>
<circle cx="332.4" cy="1746.2" r="2.7" fill="#136430"/>
<circle cx="342.1" cy="1744.7" r="2.2" fill="#115d2d"/>
<circle cx="351.8" cy="1745.4" r="3.2" fill="#156b34"/>
<circle cx="351.0" cy="1722.9" r="2.2" fill="#115d2d"/>
<circle cx="350.1" cy="1734.5" r="2.2" fill="#115d2d"/>
<circle cx="355.4" cy="1753.4" r="2.2" fill="#115d2d"/>
<circle cx="328.7" cy="1751.5" r="3.2" fill="#156b34"/>
<circle cx="323.9" cy="1749.1" r="3.2" fill="#156b34"/>
<circle cx="320.3" cy="1753.9" r="2.7" fill="#136430"/>
<circle cx="325.1" cy="1761.2" r="3.6" fill="#177337"/>
<circle cx="336.0" cy="1758.8" r="4.4" fill="#1f823c"/>
<circle cx="342.1" cy="1756.3" r="2.2" fill="#115d2d"/>
<circle cx="337.2" cy="1773.3" r="2.2" fill="#115d2d"/>
<circle cx="346.9" cy="1779.8" r="3.6" fill="#177337"/>
<circle cx="337.2" cy="1784.2" r="2.2" fill="#115d2d"/>
<circle cx="326.3" cy="1780.6" r="2.2" fill="#115d2d"/>
<circle cx="331.2" cy="1790.3" r="2.2" fill="#115d2d"/>
<circle cx="309.4" cy="1746.2" r="2.2" fill="#115d2d"/>
<circle cx="306.9" cy="1768.5" r="3.6" fill="#177337"/>
<circle cx="311.8" cy="1775.7" r="3.2" fill="#156b34"/>
<circle cx="316.6" cy="1779.4" r="2.7" fill="#136430"/>
<circle cx="314.2" cy="1761.2" r="3.6" fill="#177337"/>
<circle cx="305.7" cy="1785.4" r="2.2" fill="#115d2d"/>
<circle cx="299.7" cy="1778.1" r="2.7" fill="#136430"/>
<circle cx="409.9" cy="1700.1" r="6.1" fill="#2a9a43"/>
<circle cx="416.0" cy="1710.3" r="3.2" fill="#156b34"/>
<circle cx="422.1" cy="1683.1" r="2.2" fill="#115d2d"/>
<circle cx="441.4" cy="1709.8" r="2.2" fill="#115d2d"/>
<circle cx="440.7" cy="1734.0" r="3.6" fill="#177337"/>
<circle cx="404.6" cy="1765.5" r="2.2" fill="#115d2d"/>
<circle cx="416.0" cy="1786.1" r="2.2" fill="#115d2d"/>
<circle cx="436.6" cy="1790.3" r="2.2" fill="#115d2d"/>
<circle cx="440.7" cy="1787.8" r="2.2" fill="#115d2d"/>
<circle cx="384.0" cy="1796.3" r="2.2" fill="#115d2d"/>
<circle cx="365.1" cy="1797.5" r="2.2" fill="#115d2d"/>
<circle cx="359.0" cy="1808.4" r="3.2" fill="#156b34"/>
<circle cx="416.7" cy="1814.5" r="4.8" fill="#238c3f"/>
<circle cx="391.3" cy="1817.7" r="3.2" fill="#156b34"/>
<circle cx="178.5" cy="1772.1" r="3.2" fill="#156b34"/>
<circle cx="160.3" cy="1779.4" r="2.2" fill="#115d2d"/>
<circle cx="180.9" cy="1778.1" r="2.7" fill="#136430"/>
<circle cx="176.0" cy="1784.2" r="3.2" fill="#156b34"/>
<circle cx="168.8" cy="1800.0" r="2.2" fill="#115d2d"/>
<circle cx="175.6" cy="1806.0" r="2.2" fill="#115d2d"/>
<circle cx="168.3" cy="1814.5" r="3.6" fill="#177337"/>
<circle cx="195.4" cy="1791.5" r="2.2" fill="#115d2d"/>
<circle cx="185.7" cy="1800.0" r="2.2" fill="#115d2d"/>
<circle cx="195.0" cy="1800.0" r="3.6" fill="#177337"/>
<circle cx="198.6" cy="1807.2" r="2.2" fill="#115d2d"/>
<circle cx="202.7" cy="1790.3" r="2.2" fill="#115d2d"/>
<circle cx="235.4" cy="1772.8" r="3.2" fill="#156b34"/>
<circle cx="242.7" cy="1770.9" r="3.2" fill="#156b34"/>
<circle cx="245.1" cy="1784.2" r="2.2" fill="#115d2d"/>
<circle cx="236.6" cy="1791.5" r="2.2" fill="#115d2d"/>
<circle cx="229.4" cy="1791.5" r="3.2" fill="#156b34"/>
<circle cx="224.5" cy="1795.1" r="2.7" fill="#136430"/>
<circle cx="231.8" cy="1800.0" r="2.7" fill="#136430"/>
<circle cx="239.1" cy="1797.5" r="3.2" fill="#156b34"/>
<circle cx="231.8" cy="1809.7" r="3.2" fill="#156b34"/>
<circle cx="236.6" cy="1814.5" r="2.7" fill="#136430"/>
<circle cx="213.6" cy="1815.7" r="2.7" fill="#136430"/>
<circle cx="226.9" cy="1814.5" r="2.2" fill="#115d2d"/>
<circle cx="248.8" cy="1795.1" r="4.8" fill="#238c3f"/>
<circle cx="246.3" cy="1800.0" r="3.2" fill="#156b34"/>
<circle cx="253.6" cy="1790.3" r="3.2" fill="#156b34"/>
<circle cx="256.0" cy="1809.7" r="2.7" fill="#136430"/>
<circle cx="256.0" cy="1816.9" r="2.7" fill="#136430"/>
<circle cx="270.6" cy="1785.4" r="3.2" fill="#156b34"/>
<circle cx="275.4" cy="1790.3" r="2.7" fill="#136430"/>
<circle cx="277.8" cy="1780.6" r="3.6" fill="#177337"/>
<circle cx="280.3" cy="1800.0" r="3.2" fill="#156b34"/>
<circle cx="285.1" cy="1795.1" r="2.7" fill="#136430"/>
<circle cx="294.8" cy="1795.1" r="2.7" fill="#136430"/>
<circle cx="299.7" cy="1802.4" r="3.2" fill="#156b34"/>
<circle cx="302.1" cy="1809.7" r="3.2" fill="#156b34"/>
<circle cx="306.9" cy="1807.2" r="4.4" fill="#1f823c"/>
<circle cx="310.6" cy="1812.1" r="3.2" fill="#156b34"/>
<circle cx="299.7" cy="1816.9" r="2.7" fill="#136430"/>
<circle cx="314.2" cy="1816.9" r="2.2" fill="#115d2d"/>
<circle cx="324.6" cy="1802.9" r="3.6" fill="#177337"/>
<circle cx="336.0" cy="1801.9" r="2.2" fill="#115d2d"/>
<circle cx="336.7" cy="1807.2" r="2.2" fill="#115d2d"/>
<circle cx="332.4" cy="1819.4" r="2.2" fill="#115d2d"/>
<circle cx="315.4" cy="1802.4" r="2.2" fill="#115d2d"/>
<circle cx="326.3" cy="1818.1" r="2.2" fill="#115d2d"/>
<circle cx="151.3" cy="1872.5" r="4.8" fill="#238c3f"/>
<circle cx="168.3" cy="1924.6" r="4.8" fill="#238c3f"/>
<circle cx="420.1" cy="1917.1" r="6.1" fill="#2a9a43"/>
<circle cx="168.8" cy="1814.8" r="3.2" fill="#156b34"/>
<circle cx="213.6" cy="1817.3" r="3.2" fill="#156b34"/>
<circle cx="205.1" cy="1829.9" r="4.4" fill="#1f823c"/>
<circle cx="188.2" cy="1846.4" r="3.2" fill="#156b34"/>
<circle cx="168.8" cy="1828.2" r="2.2" fill="#115d2d"/>
<circle cx="154.2" cy="1835.9" r="2.2" fill="#115d2d"/>
<circle cx="157.9" cy="1850.0" r="2.2" fill="#115d2d"/>
<circle cx="174.8" cy="1850.0" r="2.2" fill="#115d2d"/>
<circle cx="218.5" cy="1841.5" r="3.2" fill="#156b34"/>
<circle cx="226.9" cy="1828.2" r="3.2" fill="#156b34"/>
<circle cx="231.8" cy="1843.9" r="3.2" fill="#156b34"/>
<circle cx="236.6" cy="1814.8" r="2.7" fill="#136430"/>
<circle cx="240.3" cy="1819.7" r="2.2" fill="#115d2d"/>
<circle cx="248.8" cy="1820.9" r="2.2" fill="#115d2d"/>
<circle cx="253.6" cy="1831.8" r="2.2" fill="#115d2d"/>
<circle cx="251.2" cy="1840.3" r="2.2" fill="#115d2d"/>
<circle cx="315.4" cy="1828.2" r="3.2" fill="#156b34"/>
<circle cx="316.6" cy="1818.5" r="2.7" fill="#136430"/>
<circle cx="325.1" cy="1816.1" r="2.2" fill="#115d2d"/>
<circle cx="328.7" cy="1820.9" r="2.7" fill="#136430"/>
<circle cx="338.9" cy="1821.6" r="2.2" fill="#115d2d"/>
<circle cx="345.7" cy="1828.2" r="2.2" fill="#115d2d"/>
<circle cx="326.3" cy="1836.2" r="3.6" fill="#177337"/>
<circle cx="332.4" cy="1837.9" r="2.2" fill="#115d2d"/>
<circle cx="317.8" cy="1846.4" r="3.6" fill="#177337"/>
<circle cx="311.8" cy="1853.6" r="3.2" fill="#156b34"/>
<circle cx="306.9" cy="1860.9" r="2.7" fill="#136430"/>
<circle cx="323.9" cy="1850.0" r="2.2" fill="#115d2d"/>
<circle cx="316.6" cy="1870.6" r="2.7" fill="#136430"/>
<circle cx="359.0" cy="1811.2" r="2.2" fill="#115d2d"/>
<circle cx="365.1" cy="1839.8" r="2.2" fill="#115d2d"/>
<circle cx="377.2" cy="1823.3" r="3.2" fill="#156b34"/>
<circle cx="379.2" cy="1829.4" r="2.2" fill="#115d2d"/>
<circle cx="387.6" cy="1840.3" r="2.2" fill="#115d2d"/>
<circle cx="386.9" cy="1850.7" r="2.2" fill="#115d2d"/>
<circle cx="391.0" cy="1817.8" r="3.2" fill="#156b34"/>
<circle cx="416.7" cy="1814.8" r="4.4" fill="#1f823c"/>
<circle cx="405.6" cy="1852.4" r="2.2" fill="#115d2d"/>
<circle cx="410.4" cy="1854.4" r="2.2" fill="#115d2d"/>
<circle cx="441.0" cy="1842.7" r="2.2" fill="#115d2d"/>
<circle cx="400.7" cy="1870.1" r="2.2" fill="#115d2d"/>
<circle cx="465.2" cy="1896.8" r="2.2" fill="#115d2d"/>
<circle cx="387.6" cy="1907.7" r="2.7" fill="#136430"/>
<circle cx="426.2" cy="1942.6" r="2.2" fill="#115d2d"/>
<circle cx="143.3" cy="1865.7" r="3.2" fill="#156b34"/>
<circle cx="145.8" cy="1880.3" r="2.2" fill="#115d2d"/>
<circle cx="158.6" cy="1877.4" r="2.2" fill="#115d2d"/>
<circle cx="170.0" cy="1882.7" r="2.2" fill="#115d2d"/>
<circle cx="180.9" cy="1881.5" r="3.6" fill="#177337"/>
<circle cx="189.4" cy="1875.4" r="2.2" fill="#115d2d"/>
<circle cx="200.3" cy="1869.9" r="4.1" fill="#1c7d3a"/>
<circle cx="190.6" cy="1869.4" r="2.2" fill="#115d2d"/>
<circle cx="207.6" cy="1874.2" r="2.2" fill="#115d2d"/>
<circle cx="213.6" cy="1858.5" r="2.2" fill="#115d2d"/>
<circle cx="222.1" cy="1871.8" r="2.2" fill="#115d2d"/>
<circle cx="226.9" cy="1875.4" r="2.2" fill="#115d2d"/>
<circle cx="224.5" cy="1882.7" r="2.2" fill="#115d2d"/>
<circle cx="234.2" cy="1869.4" r="2.2" fill="#115d2d"/>
<circle cx="236.6" cy="1882.7" r="2.2" fill="#115d2d"/>
<circle cx="241.5" cy="1887.6" r="3.2" fill="#156b34"/>
<circle cx="246.3" cy="1882.7" r="2.7" fill="#136430"/>
<circle cx="157.9" cy="1891.2" r="3.2" fill="#156b34"/>
<circle cx="178.5" cy="1898.0" r="2.2" fill="#115d2d"/>
<circle cx="188.2" cy="1894.8" r="3.2" fill="#156b34"/>
<circle cx="190.6" cy="1897.3" r="2.2" fill="#115d2d"/>
<circle cx="199.1" cy="1888.3" r="2.2" fill="#115d2d"/>
<circle cx="206.3" cy="1902.1" r="3.6" fill="#177337"/>
<circle cx="211.2" cy="1892.4" r="3.6" fill="#177337"/>
<circle cx="149.4" cy="1907.7" r="2.2" fill="#115d2d"/>
<circle cx="156.7" cy="1904.5" r="3.6" fill="#177337"/>
<circle cx="161.5" cy="1903.3" r="3.2" fill="#156b34"/>
<circle cx="161.5" cy="1915.4" r="2.2" fill="#115d2d"/>
<circle cx="168.8" cy="1916.6" r="2.2" fill="#115d2d"/>
<circle cx="172.4" cy="1920.3" r="2.2" fill="#115d2d"/>
<circle cx="177.3" cy="1920.3" r="2.2" fill="#115d2d"/>
<circle cx="159.1" cy="1911.8" r="2.2" fill="#115d2d"/>
<circle cx="163.9" cy="1932.4" r="2.2" fill="#115d2d"/>
<circle cx="170.0" cy="1933.6" r="3.2" fill="#156b34"/>
<circle cx="157.9" cy="1940.2" r="4.1" fill="#1c7d3a"/>
<circle cx="179.7" cy="1942.1" r="4.1" fill="#1c7d3a"/>
<circle cx="145.8" cy="1938.5" r="2.2" fill="#115d2d"/>
<circle cx="180.9" cy="1932.9" r="2.2" fill="#115d2d"/>
<circle cx="190.6" cy="1906.9" r="2.2" fill="#115d2d"/>
<circle cx="195.4" cy="1909.4" r="2.2" fill="#115d2d"/>
<circle cx="194.2" cy="1916.6" r="3.2" fill="#156b34"/>
<circle cx="197.9" cy="1913.0" r="2.2" fill="#115d2d"/>
<circle cx="202.7" cy="1906.9" r="3.2" fill="#156b34"/>
<circle cx="229.4" cy="1921.5" r="3.6" fill="#177337"/>
<circle cx="231.8" cy="1926.3" r="3.2" fill="#156b34"/>
<circle cx="236.6" cy="1923.9" r="2.2" fill="#115d2d"/>
<circle cx="240.3" cy="1916.6" r="2.7" fill="#136430"/>
<circle cx="243.9" cy="1911.8" r="2.2" fill="#115d2d"/>
<circle cx="246.3" cy="1906.9" r="3.2" fill="#156b34"/>
<circle cx="253.6" cy="1902.1" r="3.2" fill="#156b34"/>
<circle cx="251.2" cy="1894.8" r="2.7" fill="#136430"/>
<circle cx="248.8" cy="1890.0" r="2.7" fill="#136430"/>
<circle cx="258.5" cy="1887.6" r="2.2" fill="#115d2d"/>
<circle cx="241.5" cy="1921.5" r="3.2" fill="#156b34"/>
<circle cx="243.9" cy="1926.3" r="2.7" fill="#136430"/>
<circle cx="248.8" cy="1923.9" r="3.2" fill="#156b34"/>
<circle cx="251.2" cy="1931.2" r="3.2" fill="#156b34"/>
<circle cx="256.0" cy="1928.8" r="3.2" fill="#156b34"/>
<circle cx="260.9" cy="1919.1" r="3.6" fill="#177337"/>
<circle cx="265.7" cy="1914.2" r="3.2" fill="#156b34"/>
<circle cx="270.6" cy="1914.2" r="3.2" fill="#156b34"/>
<circle cx="275.4" cy="1919.1" r="2.7" fill="#136430"/>
<circle cx="280.3" cy="1916.6" r="3.2" fill="#156b34"/>
<circle cx="246.3" cy="1938.5" r="3.6" fill="#177337"/>
<circle cx="251.2" cy="1940.9" r="2.7" fill="#136430"/>
<circle cx="243.9" cy="1948.1" r="3.2" fill="#156b34"/>
<circle cx="246.3" cy="1953.0" r="3.2" fill="#156b34"/>
<circle cx="251.2" cy="1955.4" r="2.7" fill="#136430"/>
<circle cx="260.9" cy="1953.0" r="2.7" fill="#136430"/>
<circle cx="260.9" cy="1931.2" r="3.2" fill="#156b34"/>
<circle cx="265.7" cy="1931.2" r="3.2" fill="#156b34"/>
<circle cx="270.6" cy="1928.8" r="2.7" fill="#136430"/>
<circle cx="280.3" cy="1926.3" r="2.2" fill="#115d2d"/>
<circle cx="285.1" cy="1928.8" r="2.2" fill="#115d2d"/>
<circle cx="290.0" cy="1926.3" r="2.7" fill="#136430"/>
<circle cx="297.2" cy="1921.5" r="3.2" fill="#156b34"/>
<circle cx="299.7" cy="1916.6" r="3.6" fill="#177337"/>
<circle cx="306.9" cy="1921.5" r="3.2" fill="#156b34"/>
<circle cx="309.4" cy="1928.8" r="2.7" fill="#136430"/>
<circle cx="299.7" cy="1906.9" r="3.2" fill="#156b34"/>
<circle cx="297.2" cy="1911.8" r="2.7" fill="#136430"/>
<circle cx="270.6" cy="1940.9" r="2.7" fill="#136430"/>
<circle cx="277.8" cy="1944.5" r="3.2" fill="#156b34"/>
<circle cx="282.7" cy="1950.6" r="3.2" fill="#156b34"/>
<circle cx="287.5" cy="1945.7" r="2.7" fill="#136430"/>
<circle cx="292.4" cy="1950.6" r="2.7" fill="#136430"/>
<circle cx="299.7" cy="1948.1" r="2.2" fill="#115d2d"/>
<circle cx="290.0" cy="1940.9" r="2.2" fill="#115d2d"/>
<circle cx="299.7" cy="1933.6" r="3.2" fill="#156b34"/>
<circle cx="304.5" cy="1936.0" r="2.7" fill="#136430"/>
<circle cx="309.4" cy="1940.9" r="2.2" fill="#115d2d"/>
<circle cx="277.8" cy="1960.3" r="3.2" fill="#156b34"/>
<circle cx="285.1" cy="1955.4" r="2.7" fill="#136430"/>
<circle cx="219.7" cy="1959.1" r="4.8" fill="#238c3f"/>
<circle cx="214.8" cy="1956.6" r="2.2" fill="#115d2d"/>
<circle cx="226.9" cy="1955.4" r="2.2" fill="#115d2d"/>
<circle cx="236.6" cy="1984.5" r="2.2" fill="#115d2d"/>
<circle cx="251.2" cy="1982.1" r="3.2" fill="#156b34"/>
<circle cx="262.1" cy="1953.0" r="2.2" fill="#115d2d"/>
<circle cx="299.7" cy="1967.5" r="4.4" fill="#1f823c"/>
<circle cx="298.4" cy="1977.2" r="2.2" fill="#115d2d"/>
<circle cx="301.4" cy="1958.3" r="3.2" fill="#156b34"/>
<circle cx="291.2" cy="1971.2" r="2.2" fill="#115d2d"/>
<circle cx="282.7" cy="1972.4" r="2.2" fill="#115d2d"/>
<circle cx="287.5" cy="1979.7" r="2.2" fill="#115d2d"/>
<circle cx="280.3" cy="1988.1" r="2.2" fill="#115d2d"/>
<circle cx="287.5" cy="1989.4" r="3.2" fill="#156b34"/>
<circle cx="316.6" cy="1970.0" r="2.2" fill="#115d2d"/>
<circle cx="322.0" cy="1985.7" r="2.2" fill="#115d2d"/>
<circle cx="337.2" cy="1985.7" r="2.2" fill="#115d2d"/>
<circle cx="317.8" cy="1890.0" r="2.2" fill="#115d2d"/>
<circle cx="322.7" cy="1880.3" r="2.2" fill="#115d2d"/>
<circle cx="328.7" cy="1885.1" r="2.2" fill="#115d2d"/>
<circle cx="330.0" cy="1894.8" r="2.2" fill="#115d2d"/>
<circle cx="323.9" cy="1902.1" r="2.2" fill="#115d2d"/>
<circle cx="331.2" cy="1909.4" r="2.2" fill="#115d2d"/>
<circle cx="322.7" cy="1921.5" r="2.7" fill="#136430"/>
<circle cx="331.2" cy="1928.8" r="3.6" fill="#177337"/>
<circle cx="337.2" cy="1936.0" r="2.7" fill="#136430"/>
<circle cx="343.3" cy="1935.5" r="2.2" fill="#115d2d"/>
<circle cx="337.2" cy="1954.2" r="3.2" fill="#156b34"/>
<circle cx="339.6" cy="1957.8" r="2.2" fill="#115d2d"/>
<circle cx="331.2" cy="1960.3" r="2.2" fill="#115d2d"/>
<circle cx="326.3" cy="1950.6" r="2.2" fill="#115d2d"/>
<circle cx="321.5" cy="1953.0" r="2.2" fill="#115d2d"/>
<circle cx="319.0" cy="1960.3" r="2.2" fill="#115d2d"/>
<circle cx="314.2" cy="1916.6" r="2.7" fill="#136430"/>
<circle cx="309.4" cy="1906.9" r="2.2" fill="#115d2d"/>
<circle cx="304.5" cy="1902.1" r="2.2" fill="#115d2d"/>
<circle cx="292.4" cy="1887.6" r="3.6" fill="#177337"/>
<circle cx="287.5" cy="1877.9" r="3.2" fill="#156b34"/>
<circle cx="294.8" cy="1873.0" r="3.2" fill="#156b34"/>
<circle cx="299.7" cy="1882.7" r="3.2" fill="#156b34"/>
<circle cx="304.5" cy="1870.6" r="2.7" fill="#136430"/>
<circle cx="290.0" cy="1856.0" r="3.2" fill="#156b34"/>
<circle cx="294.8" cy="1853.6" r="3.2" fill="#156b34"/>
<circle cx="304.5" cy="1856.0" r="2.7" fill="#136430"/>
<circle cx="299.7" cy="1839.1" r="2.2" fill="#115d2d"/>
<circle cx="353.0" cy="1880.3" r="3.2" fill="#156b34"/>
<circle cx="359.0" cy="1880.3" r="2.2" fill="#115d2d"/>
<circle cx="343.3" cy="1882.7" r="3.2" fill="#156b34"/>
<circle cx="344.5" cy="1887.6" r="2.7" fill="#136430"/>
<circle cx="356.6" cy="1904.5" r="2.2" fill="#115d2d"/>
<circle cx="356.6" cy="1966.3" r="5.3" fill="#289642"/>
<circle cx="361.5" cy="1952.5" r="2.2" fill="#115d2d"/>
<circle cx="370.7" cy="1954.9" r="2.2" fill="#115d2d"/>
<circle cx="373.6" cy="1959.1" r="2.2" fill="#115d2d"/>
<circle cx="371.2" cy="1968.7" r="2.2" fill="#115d2d"/>
<circle cx="376.0" cy="1970.4" r="2.2" fill="#115d2d"/>
<circle cx="357.8" cy="1974.8" r="2.2" fill="#115d2d"/>
<circle cx="348.1" cy="1971.9" r="2.2" fill="#115d2d"/>
<circle cx="343.3" cy="1970.0" r="2.2" fill="#115d2d"/>
<circle cx="349.3" cy="1976.0" r="2.2" fill="#115d2d"/>
<circle cx="382.5" cy="1978.9" r="2.2" fill="#115d2d"/>
<circle cx="337.2" cy="1979.7" r="2.2" fill="#115d2d"/>
<circle cx="260.9" cy="1836.7" r="3.2" fill="#156b34"/>
<circle cx="265.7" cy="1846.4" r="3.2" fill="#156b34"/>
<circle cx="273.0" cy="1853.6" r="2.7" fill="#136430"/>
<circle cx="280.3" cy="1853.6" r="3.2" fill="#156b34"/>
<circle cx="285.1" cy="1843.9" r="2.7" fill="#136430"/>
<circle cx="258.5" cy="1853.6" r="2.7" fill="#136430"/>
<circle cx="265.7" cy="1860.9" r="3.2" fill="#156b34"/>
<circle cx="260.9" cy="1868.2" r="2.7" fill="#136430"/>
<circle cx="256.0" cy="1875.4" r="2.7" fill="#136430"/>
<circle cx="265.7" cy="1875.4" r="2.2" fill="#115d2d"/>
<circle cx="270.6" cy="1870.6" r="2.7" fill="#136430"/>
<circle cx="227.7" cy="1941.3" r="3.1" fill="#146a33"/>
<circle cx="267.6" cy="1813.9" r="3.7" fill="#187437"/>
<circle cx="267.4" cy="1789.6" r="3.4" fill="#166e35"/>
<circle cx="263.4" cy="1917.9" r="3.4" fill="#166e35"/>
<circle cx="273.3" cy="1837.0" r="3.4" fill="#166e35"/>
<circle cx="304.1" cy="1807.6" r="3.7" fill="#187437"/>
<circle cx="317.2" cy="1927.6" r="2.8" fill="#136631"/>
<circle cx="291.9" cy="1928.8" r="3.7" fill="#187437"/>
<circle cx="219.7" cy="1819.6" r="3.7" fill="#187437"/>
<circle cx="250.8" cy="1805.3" r="2.5" fill="#126230"/>
<circle cx="269.9" cy="1938.2" r="3.4" fill="#166e35"/>
<circle cx="283.9" cy="1889.4" r="3.7" fill="#187437"/>
<circle cx="303.6" cy="1917.6" r="3.1" fill="#146a33"/>
<circle cx="310.4" cy="1788.2" r="3.1" fill="#146a33"/>
<circle cx="224.6" cy="1905.4" r="2.5" fill="#126230"/>
<circle cx="250.0" cy="1941.3" r="3.1" fill="#146a33"/>
<circle cx="271.6" cy="1851.2" r="2.5" fill="#126230"/>
<circle cx="272.8" cy="1875.7" r="2.8" fill="#136631"/>
<circle cx="250.0" cy="1828.7" r="3.1" fill="#146a33"/>
<circle cx="269.9" cy="1816.7" r="3.7" fill="#187437"/>
<circle cx="289.0" cy="1931.9" r="3.1" fill="#146a33"/>
<circle cx="246.0" cy="1892.3" r="3.1" fill="#146a33"/>
<circle cx="264.2" cy="1933.0" r="3.7" fill="#187437"/>
<circle cx="294.7" cy="1912.5" r="3.1" fill="#146a33"/>
<circle cx="316.7" cy="1841.8" r="3.4" fill="#166e35"/>
<circle cx="276.5" cy="1906.2" r="3.4" fill="#166e35"/>
<circle cx="246.3" cy="1835.8" r="2.5" fill="#126230"/>
<circle cx="243.1" cy="1906.8" r="3.4" fill="#166e35"/>
<circle cx="306.7" cy="1896.8" r="3.4" fill="#166e35"/>
<circle cx="278.2" cy="1864.0" r="3.7" fill="#187437"/>
<circle cx="280.5" cy="1947.0" r="2.8" fill="#136631"/>
<circle cx="259.1" cy="1895.1" r="2.8" fill="#136631"/>
<circle cx="328.1" cy="1835.0" r="3.1" fill="#146a33"/>
<circle cx="295.3" cy="1917.1" r="2.5" fill="#126230"/>
<circle cx="288.2" cy="1897.7" r="3.1" fill="#146a33"/>
<circle cx="296.7" cy="1921.6" r="3.4" fill="#166e35"/>
<circle cx="242.0" cy="1873.7" r="2.8" fill="#136631"/>
<circle cx="277.9" cy="1821.9" r="3.1" fill="#146a33"/>
<circle cx="232.9" cy="1793.3" r="3.4" fill="#166e35"/>
<circle cx="252.8" cy="1880.6" r="3.4" fill="#166e35"/>
<circle cx="278.5" cy="1887.1" r="2.5" fill="#126230"/>
<circle cx="299.9" cy="1942.5" r="2.8" fill="#136631"/>
<circle cx="276.8" cy="1816.2" r="3.1" fill="#146a33"/>
<circle cx="296.2" cy="1882.6" r="3.7" fill="#187437"/>
<circle cx="249.4" cy="1930.5" r="3.1" fill="#146a33"/>
<circle cx="262.8" cy="1942.2" r="2.8" fill="#136631"/>
<circle cx="303.6" cy="1884.9" r="3.1" fill="#146a33"/>
<circle cx="259.9" cy="1813.3" r="2.8" fill="#136631"/>
<circle cx="265.9" cy="1881.4" r="3.7" fill="#187437"/>
<circle cx="296.7" cy="1802.5" r="2.5" fill="#126230"/>
<circle cx="285.9" cy="1899.7" r="2.8" fill="#136631"/>
<circle cx="305.3" cy="1858.3" r="3.4" fill="#166e35"/>
<circle cx="282.5" cy="1874.6" r="3.4" fill="#166e35"/>
<circle cx="262.8" cy="1787.4" r="3.1" fill="#146a33"/>
<circle cx="275.3" cy="1931.9" r="3.1" fill="#146a33"/>
<circle cx="277.0" cy="1907.7" r="2.8" fill="#136631"/>
<circle cx="285.0" cy="1893.7" r="2.5" fill="#126230"/>
<circle cx="277.6" cy="1789.9" r="3.4" fill="#166e35"/>
<circle cx="268.5" cy="1818.4" r="2.5" fill="#126230"/>
<circle cx="252.8" cy="1911.7" r="2.5" fill="#126230"/>
<circle cx="228.3" cy="1935.6" r="2.5" fill="#126230"/>
<circle cx="287.0" cy="1923.6" r="2.5" fill="#126230"/>
<circle cx="265.9" cy="1872.9" r="2.8" fill="#136631"/>
<circle cx="277.9" cy="1943.6" r="3.1" fill="#146a33"/>
<circle cx="271.1" cy="1873.7" r="3.4" fill="#166e35"/>
<circle cx="297.6" cy="1851.2" r="2.5" fill="#126230"/>
<circle cx="219.7" cy="1798.5" r="2.5" fill="#126230"/>
<circle cx="260.5" cy="1887.1" r="3.1" fill="#146a33"/>
<circle cx="267.9" cy="1806.2" r="2.8" fill="#136631"/>
<circle cx="285.3" cy="1935.6" r="3.1" fill="#146a33"/>
</g>
<g>
<circle cx="684.7" cy="1687.9" r="13.8" fill="#fef0e4" stroke="#e98a3d" stroke-width="1.1"/>
<circle cx="654.1" cy="1711.0" r="13.8" fill="#fef0e4" stroke="#e98a3d" stroke-width="1.1"/>
<circle cx="704.3" cy="1706.3" r="13.8" fill="#fef0e4" stroke="#e98a3d" stroke-width="1.1"/>
<circle cx="734.1" cy="1707.0" r="13.8" fill="#fef0e4" stroke="#e98a3d" stroke-width="1.1"/>
<circle cx="712.9" cy="1713.3" r="13.8" fill="#fef0e4" stroke="#e98a3d" stroke-width="1.1"/>
<circle cx="720.0" cy="1729.0" r="13.8" fill="#fef0e4" stroke="#e98a3d" stroke-width="1.1"/>
<circle cx="723.9" cy="1711.7" r="13.8" fill="#fef0e4" stroke="#e98a3d" stroke-width="1.1"/>
<circle cx="755.2" cy="1727.1" r="13.8" fill="#fef0e4" stroke="#e98a3d" stroke-width="1.1"/>
<circle cx="651.7" cy="1737.2" r="13.8" fill="#fef0e4" stroke="#e98a3d" stroke-width="1.1"/>
<circle cx="634.5" cy="1751.3" r="13.8" fill="#fef0e4" stroke="#e98a3d" stroke-width="1.1"/>
<circle cx="673.7" cy="1751.0" r="13.8" fill="#fef0e4" stroke="#e98a3d" stroke-width="1.1"/>
<circle cx="669.8" cy="1741.2" r="13.8" fill="#fef0e4" stroke="#e98a3d" stroke-width="1.1"/>
<circle cx="716.8" cy="1740.3" r="13.8" fill="#fef0e4" stroke="#e98a3d" stroke-width="1.1"/>
<circle cx="730.9" cy="1760.4" r="13.8" fill="#fef0e4" stroke="#e98a3d" stroke-width="1.1"/>
<circle cx="791.3" cy="1749.1" r="13.8" fill="#fef0e4" stroke="#e98a3d" stroke-width="1.1"/>
<circle cx="754.5" cy="1763.5" r="13.8" fill="#fef0e4" stroke="#e98a3d" stroke-width="1.1"/>
<circle cx="750.5" cy="1773.7" r="13.8" fill="#fef0e4" stroke="#e98a3d" stroke-width="1.1"/>
<circle cx="777.2" cy="1761.1" r="13.8" fill="#fef0e4" stroke="#e98a3d" stroke-width="1.1"/>
<circle cx="698.8" cy="1771.3" r="13.8" fill="#fef0e4" stroke="#e98a3d" stroke-width="1.1"/>
<circle cx="716.0" cy="1799.6" r="13.8" fill="#fef0e4" stroke="#e98a3d" stroke-width="1.1"/>
<circle cx="685.6" cy="1687.9" r="1.9" fill="#105a2c"/>
<circle cx="654.9" cy="1711.3" r="1.9" fill="#105a2c"/>
<circle cx="706.0" cy="1707.0" r="1.9" fill="#105a2c"/>
<circle cx="734.1" cy="1707.6" r="1.9" fill="#105a2c"/>
<circle cx="718.0" cy="1714.2" r="1.9" fill="#105a2c"/>
<circle cx="724.9" cy="1712.2" r="1.9" fill="#105a2c"/>
<circle cx="720.3" cy="1730.6" r="1.9" fill="#105a2c"/>
<circle cx="755.8" cy="1727.1" r="1.9" fill="#105a2c"/>
<circle cx="653.2" cy="1737.2" r="1.9" fill="#105a2c"/>
<circle cx="635.8" cy="1751.3" r="1.9" fill="#105a2c"/>
<circle cx="671.0" cy="1741.6" r="2.5" fill="#12612f"/>
<circle cx="674.3" cy="1750.8" r="1.9" fill="#105a2c"/>
<circle cx="717.8" cy="1740.4" r="1.9" fill="#105a2c"/>
<circle cx="733.1" cy="1760.6" r="1.9" fill="#105a2c"/>
<circle cx="791.9" cy="1749.4" r="1.9" fill="#105a2c"/>
<circle cx="778.0" cy="1761.2" r="1.9" fill="#105a2c"/>
<circle cx="755.2" cy="1765.6" r="1.9" fill="#105a2c"/>
<circle cx="751.0" cy="1773.9" r="1.9" fill="#105a2c"/>
<circle cx="700.2" cy="1771.6" r="1.9" fill="#105a2c"/>
<circle cx="716.2" cy="1800.1" r="1.9" fill="#105a2c"/>
</g>
<g>
<circle cx="1138.8" cy="1686.2" r="13.6" fill="#fef0e4" stroke="#e98a3d" stroke-width="1.1"/>
<circle cx="1108.0" cy="1710.6" r="13.6" fill="#fef0e4" stroke="#e98a3d" stroke-width="1.1"/>
<circle cx="1158.0" cy="1705.4" r="12.8" fill="#fef0e4" stroke="#e98a3d" stroke-width="1.1"/>
<circle cx="1173.4" cy="1711.9" r="13.6" fill="#fef0e4" stroke="#e98a3d" stroke-width="1.1"/>
<circle cx="1178.6" cy="1709.3" r="13.6" fill="#fef0e4" stroke="#e98a3d" stroke-width="1.1"/>
<circle cx="1187.5" cy="1705.4" r="12.8" fill="#fef0e4" stroke="#e98a3d" stroke-width="1.1"/>
<circle cx="1209.4" cy="1726.0" r="13.6" fill="#fef0e4" stroke="#e98a3d" stroke-width="1.1"/>
<circle cx="1170.9" cy="1738.8" r="13.6" fill="#fef0e4" stroke="#e98a3d" stroke-width="1.1"/>
<circle cx="1104.2" cy="1736.2" r="12.8" fill="#fef0e4" stroke="#e98a3d" stroke-width="1.1"/>
<circle cx="1124.7" cy="1740.1" r="12.8" fill="#fef0e4" stroke="#e98a3d" stroke-width="1.1"/>
<circle cx="1128.5" cy="1750.3" r="12.3" fill="#fef0e4" stroke="#e98a3d" stroke-width="1.1"/>
<circle cx="1087.5" cy="1750.3" r="13.3" fill="#fef0e4" stroke="#e98a3d" stroke-width="1.1"/>
<circle cx="1152.9" cy="1769.6" r="12.8" fill="#fef0e4" stroke="#e98a3d" stroke-width="1.1"/>
<circle cx="1246.6" cy="1747.8" r="13.6" fill="#fef0e4" stroke="#e98a3d" stroke-width="1.1"/>
<circle cx="1233.7" cy="1759.3" r="12.8" fill="#fef0e4" stroke="#e98a3d" stroke-width="1.1"/>
<circle cx="1204.2" cy="1760.6" r="11.5" fill="#fef0e4" stroke="#e98a3d" stroke-width="1.1"/>
<circle cx="1173.4" cy="1737.5" r="12.8" fill="#fef0e4" stroke="#e98a3d" stroke-width="1.1"/>
<circle cx="1170.9" cy="1799.1" r="12.8" fill="#fef0e4" stroke="#e98a3d" stroke-width="1.1"/>
<circle cx="1183.7" cy="1758.0" r="11.5" fill="#fef0e4" stroke="#e98a3d" stroke-width="1.1"/>
<circle cx="1202.4" cy="1699.5" r="7.2" fill="#3ab149"/>
<circle cx="1099.8" cy="1758.8" r="8.5" fill="#3db54a"/>
<circle cx="1179.9" cy="1763.9" r="6.4" fill="#33a646"/>
<circle cx="1172.2" cy="1774.7" r="9.0" fill="#3db54a"/>
<circle cx="1129.8" cy="1781.1" r="11.5" fill="#3db54a"/>
<circle cx="1138.8" cy="1791.4" r="11.5" fill="#3db54a"/>
<circle cx="1128.5" cy="1799.1" r="7.7" fill="#3db54a"/>
<circle cx="1117.0" cy="1796.5" r="6.4" fill="#33a646"/>
<circle cx="1199.1" cy="1781.1" r="10.3" fill="#3db54a"/>
<circle cx="1222.2" cy="1765.7" r="10.3" fill="#3db54a"/>
<circle cx="1222.2" cy="1782.4" r="10.3" fill="#3db54a"/>
<circle cx="1194.0" cy="1791.4" r="10.3" fill="#3db54a"/>
<circle cx="1204.2" cy="1804.2" r="10.3" fill="#3db54a"/>
<circle cx="1265.8" cy="1784.5" r="10.8" fill="#3db54a"/>
<circle cx="1323.6" cy="1785.8" r="10.8" fill="#3db54a"/>
<circle cx="1142.6" cy="1809.4" r="10.3" fill="#3db54a"/>
<circle cx="1170.9" cy="1814.5" r="7.7" fill="#3db54a"/>
<circle cx="1217.1" cy="1809.4" r="7.7" fill="#3db54a"/>
<circle cx="1088.8" cy="1817.1" r="7.7" fill="#3db54a"/>
<circle cx="1099.0" cy="1814.5" r="6.4" fill="#33a646"/>
<circle cx="1087.5" cy="1819.0" r="7.2" fill="#3ab149"/>
<circle cx="1099.0" cy="1815.1" r="6.4" fill="#33a646"/>
<circle cx="1098.5" cy="1834.4" r="10.8" fill="#3db54a"/>
<circle cx="1072.8" cy="1837.7" r="9.0" fill="#3db54a"/>
<circle cx="1078.5" cy="1852.3" r="7.2" fill="#3ab149"/>
<circle cx="1134.9" cy="1828.0" r="11.5" fill="#3db54a"/>
<circle cx="1147.8" cy="1835.7" r="10.3" fill="#3db54a"/>
<circle cx="1137.5" cy="1815.1" r="9.0" fill="#3db54a"/>
<circle cx="1170.9" cy="1820.3" r="10.3" fill="#3db54a"/>
<circle cx="1194.0" cy="1812.6" r="7.7" fill="#3db54a"/>
<circle cx="1214.5" cy="1813.8" r="7.7" fill="#3db54a"/>
<circle cx="1165.7" cy="1845.9" r="9.0" fill="#3db54a"/>
<circle cx="1197.8" cy="1822.8" r="7.7" fill="#3db54a"/>
<circle cx="1256.8" cy="1854.9" r="10.8" fill="#3db54a"/>
<circle cx="1247.9" cy="1842.8" r="5.6" fill="#2b9c44"/>
<circle cx="1173.4" cy="1874.2" r="11.5" fill="#3db54a"/>
<circle cx="1190.1" cy="1872.9" r="12.8" fill="#3db54a"/>
<circle cx="1209.4" cy="1872.9" r="11.5" fill="#3db54a"/>
<circle cx="1194.0" cy="1861.3" r="7.7" fill="#3db54a"/>
<circle cx="1250.4" cy="1884.4" r="10.8" fill="#3db54a"/>
<circle cx="1072.1" cy="1907.5" r="8.5" fill="#3db54a"/>
<circle cx="1165.7" cy="1917.8" r="10.8" fill="#3db54a"/>
<circle cx="1181.1" cy="1915.2" r="7.7" fill="#3db54a"/>
<circle cx="1194.0" cy="1910.1" r="7.7" fill="#3db54a"/>
<circle cx="1206.8" cy="1917.8" r="10.3" fill="#3db54a"/>
<circle cx="1218.3" cy="1910.1" r="6.4" fill="#33a646"/>
<circle cx="1236.3" cy="1911.4" r="8.5" fill="#3db54a"/>
<circle cx="1253.0" cy="1915.2" r="10.3" fill="#3db54a"/>
<circle cx="1186.3" cy="1940.9" r="11.5" fill="#3db54a"/>
<circle cx="1196.5" cy="1938.3" r="7.7" fill="#3db54a"/>
<circle cx="1192.7" cy="1953.7" r="7.7" fill="#3db54a"/>
<circle cx="1145.7" cy="1981.4" r="10.3" fill="#3db54a"/>
<circle cx="1172.2" cy="1983.2" r="10.3" fill="#3db54a"/>
<circle cx="1182.9" cy="1654.1" r="2.3" fill="#115e2e"/>
<circle cx="1131.1" cy="1660.0" r="2.3" fill="#115e2e"/>
<circle cx="1109.3" cy="1666.2" r="2.3" fill="#115e2e"/>
<circle cx="1171.4" cy="1669.5" r="2.3" fill="#115e2e"/>
<circle cx="1170.9" cy="1678.0" r="2.3" fill="#115e2e"/>
<circle cx="1245.3" cy="1667.7" r="2.3" fill="#115e2e"/>
<circle cx="1263.8" cy="1681.1" r="3.6" fill="#177237"/>
<circle cx="1329.5" cy="1683.1" r="4.4" fill="#1f823c"/>
<circle cx="1155.5" cy="1675.9" r="2.3" fill="#115e2e"/>
<circle cx="1191.9" cy="1686.2" r="2.3" fill="#115e2e"/>
<circle cx="1220.9" cy="1684.9" r="2.3" fill="#115e2e"/>
<circle cx="1134.9" cy="1683.6" r="4.4" fill="#1f823c"/>
<circle cx="1147.8" cy="1690.6" r="3.6" fill="#177237"/>
<circle cx="1155.0" cy="1690.0" r="2.3" fill="#115e2e"/>
<circle cx="1079.8" cy="1695.9" r="2.3" fill="#115e2e"/>
<circle cx="1066.9" cy="1704.9" r="2.3" fill="#115e2e"/>
<circle cx="1087.5" cy="1704.2" r="2.3" fill="#115e2e"/>
<circle cx="1098.5" cy="1703.6" r="3.8" fill="#197738"/>
<circle cx="1104.2" cy="1700.3" r="3.3" fill="#156d35"/>
<circle cx="1081.1" cy="1710.6" r="2.3" fill="#115e2e"/>
<circle cx="1087.5" cy="1713.1" r="2.3" fill="#115e2e"/>
<circle cx="1132.4" cy="1710.6" r="3.3" fill="#156d35"/>
<circle cx="1154.2" cy="1714.4" r="4.4" fill="#1f823c"/>
<circle cx="1188.3" cy="1702.4" r="2.8" fill="#136631"/>
<circle cx="1188.8" cy="1717.0" r="2.3" fill="#115e2e"/>
<circle cx="1194.0" cy="1717.0" r="2.3" fill="#115e2e"/>
<circle cx="1067.7" cy="1726.7" r="3.6" fill="#177237"/>
<circle cx="1087.5" cy="1718.3" r="2.3" fill="#115e2e"/>
<circle cx="1093.9" cy="1718.3" r="2.3" fill="#115e2e"/>
<circle cx="1087.5" cy="1726.0" r="2.3" fill="#115e2e"/>
<circle cx="1095.2" cy="1731.1" r="2.3" fill="#115e2e"/>
<circle cx="1111.9" cy="1719.0" r="2.3" fill="#115e2e"/>
<circle cx="1120.8" cy="1724.7" r="2.3" fill="#115e2e"/>
<circle cx="1137.5" cy="1724.7" r="2.3" fill="#115e2e"/>
<circle cx="1141.4" cy="1719.5" r="2.3" fill="#115e2e"/>
<circle cx="1155.5" cy="1731.1" r="2.3" fill="#115e2e"/>
<circle cx="1155.5" cy="1736.2" r="2.3" fill="#115e2e"/>
<circle cx="1168.3" cy="1723.4" r="2.3" fill="#115e2e"/>
<circle cx="1083.6" cy="1747.3" r="3.8" fill="#197738"/>
<circle cx="1077.2" cy="1755.5" r="3.3" fill="#156d35"/>
<circle cx="1078.5" cy="1760.6" r="2.3" fill="#115e2e"/>
<circle cx="1091.3" cy="1750.3" r="2.3" fill="#115e2e"/>
<circle cx="1097.7" cy="1737.5" r="2.3" fill="#115e2e"/>
<circle cx="1105.4" cy="1740.1" r="2.3" fill="#115e2e"/>
<circle cx="1113.1" cy="1736.2" r="2.3" fill="#115e2e"/>
<circle cx="1120.8" cy="1745.7" r="3.8" fill="#197738"/>
<circle cx="1122.1" cy="1738.8" r="2.3" fill="#115e2e"/>
<circle cx="1128.5" cy="1738.8" r="2.3" fill="#115e2e"/>
<circle cx="1136.2" cy="1738.0" r="2.3" fill="#115e2e"/>
<circle cx="1113.1" cy="1752.9" r="2.3" fill="#115e2e"/>
<circle cx="1111.9" cy="1760.6" r="3.3" fill="#156d35"/>
<circle cx="1140.1" cy="1756.8" r="2.3" fill="#115e2e"/>
<circle cx="1145.2" cy="1756.8" r="2.3" fill="#115e2e"/>
<circle cx="1147.8" cy="1750.3" r="2.3" fill="#115e2e"/>
<circle cx="1154.2" cy="1750.3" r="3.6" fill="#177237"/>
<circle cx="1160.6" cy="1747.8" r="2.3" fill="#115e2e"/>
<circle cx="1177.8" cy="1738.3" r="3.8" fill="#197738"/>
<circle cx="1168.3" cy="1745.2" r="2.3" fill="#115e2e"/>
<circle cx="1176.0" cy="1747.8" r="2.3" fill="#115e2e"/>
<circle cx="1187.5" cy="1743.9" r="3.6" fill="#177237"/>
<circle cx="1190.1" cy="1752.9" r="3.3" fill="#156d35"/>
<circle cx="1196.5" cy="1756.8" r="2.3" fill="#115e2e"/>
<circle cx="1202.9" cy="1755.5" r="2.3" fill="#115e2e"/>
<circle cx="1202.2" cy="1726.0" r="4.4" fill="#1f823c"/>
<circle cx="1225.5" cy="1717.8" r="3.3" fill="#156d35"/>
<circle cx="1231.2" cy="1727.2" r="2.3" fill="#115e2e"/>
<circle cx="1235.0" cy="1728.5" r="2.3" fill="#115e2e"/>
<circle cx="1242.7" cy="1728.5" r="2.3" fill="#115e2e"/>
<circle cx="1230.7" cy="1734.4" r="4.4" fill="#1f823c"/>
<circle cx="1259.4" cy="1722.9" r="2.8" fill="#136631"/>
<circle cx="1253.0" cy="1738.8" r="2.8" fill="#136631"/>
<circle cx="1253.0" cy="1742.6" r="2.3" fill="#115e2e"/>
<circle cx="1258.1" cy="1734.4" r="2.3" fill="#115e2e"/>
<circle cx="1236.3" cy="1744.7" r="4.4" fill="#1f823c"/>
<circle cx="1231.2" cy="1749.1" r="3.8" fill="#197738"/>
<circle cx="1224.8" cy="1751.6" r="3.8" fill="#197738"/>
<circle cx="1219.6" cy="1754.2" r="3.3" fill="#156d35"/>
<circle cx="1214.5" cy="1758.0" r="3.3" fill="#156d35"/>
<circle cx="1210.6" cy="1760.6" r="2.8" fill="#136631"/>
<circle cx="1241.4" cy="1758.6" r="3.6" fill="#177237"/>
<circle cx="1263.2" cy="1753.7" r="2.3" fill="#115e2e"/>
<circle cx="1253.0" cy="1765.7" r="2.3" fill="#115e2e"/>
<circle cx="1247.9" cy="1768.3" r="2.3" fill="#115e2e"/>
<circle cx="1317.1" cy="1700.3" r="2.3" fill="#115e2e"/>
<circle cx="1328.7" cy="1697.7" r="2.3" fill="#115e2e"/>
<circle cx="1337.7" cy="1696.5" r="2.3" fill="#115e2e"/>
<circle cx="1323.6" cy="1710.1" r="2.3" fill="#115e2e"/>
<circle cx="1349.2" cy="1710.1" r="3.3" fill="#156d35"/>
<circle cx="1347.9" cy="1734.2" r="3.3" fill="#156d35"/>
<circle cx="1312.0" cy="1765.7" r="2.3" fill="#115e2e"/>
<circle cx="1291.5" cy="1796.5" r="4.4" fill="#1f823c"/>
<circle cx="1345.4" cy="1789.6" r="4.4" fill="#1f823c"/>
<circle cx="1349.2" cy="1787.5" r="3.3" fill="#156d35"/>
<circle cx="1324.1" cy="1815.3" r="3.6" fill="#177237"/>
<circle cx="1298.7" cy="1817.6" r="2.3" fill="#115e2e"/>
<circle cx="1273.0" cy="1797.3" r="2.3" fill="#115e2e"/>
<circle cx="1266.6" cy="1808.8" r="2.3" fill="#115e2e"/>
<circle cx="1067.7" cy="1779.3" r="3.3" fill="#156d35"/>
<circle cx="1075.9" cy="1781.6" r="2.3" fill="#115e2e"/>
<circle cx="1081.1" cy="1785.0" r="2.3" fill="#115e2e"/>
<circle cx="1086.2" cy="1776.0" r="2.3" fill="#115e2e"/>
<circle cx="1088.8" cy="1779.9" r="2.8" fill="#136631"/>
<circle cx="1096.5" cy="1786.3" r="5.1" fill="#269241"/>
<circle cx="1101.6" cy="1790.1" r="3.3" fill="#156d35"/>
<circle cx="1097.7" cy="1781.1" r="2.3" fill="#115e2e"/>
<circle cx="1083.6" cy="1793.5" r="2.3" fill="#115e2e"/>
<circle cx="1075.4" cy="1800.4" r="2.3" fill="#115e2e"/>
<circle cx="1102.9" cy="1800.4" r="5.1" fill="#269241"/>
<circle cx="1083.1" cy="1806.0" r="2.3" fill="#115e2e"/>
<circle cx="1075.9" cy="1815.8" r="2.3" fill="#115e2e"/>
<circle cx="1095.2" cy="1810.6" r="3.3" fill="#156d35"/>
<circle cx="1104.2" cy="1809.4" r="3.3" fill="#156d35"/>
<circle cx="1142.6" cy="1773.4" r="3.6" fill="#177237"/>
<circle cx="1150.3" cy="1770.9" r="3.3" fill="#156d35"/>
<circle cx="1152.9" cy="1783.7" r="3.6" fill="#177237"/>
<circle cx="1150.3" cy="1791.4" r="3.3" fill="#156d35"/>
<circle cx="1158.0" cy="1794.0" r="4.6" fill="#21873d"/>
<circle cx="1165.7" cy="1794.0" r="3.6" fill="#177237"/>
<circle cx="1173.4" cy="1794.0" r="3.6" fill="#177237"/>
<circle cx="1181.1" cy="1788.8" r="3.3" fill="#156d35"/>
<circle cx="1183.7" cy="1799.1" r="3.3" fill="#156d35"/>
<circle cx="1188.8" cy="1806.8" r="3.3" fill="#156d35"/>
<circle cx="1196.5" cy="1801.7" r="3.8" fill="#197738"/>
<circle cx="1201.7" cy="1796.5" r="3.3" fill="#156d35"/>
<circle cx="1209.4" cy="1794.0" r="3.3" fill="#156d35"/>
<circle cx="1217.1" cy="1804.2" r="3.3" fill="#156d35"/>
<circle cx="1222.2" cy="1794.0" r="2.8" fill="#136631"/>
<circle cx="1227.3" cy="1776.0" r="3.3" fill="#156d35"/>
<circle cx="1235.0" cy="1774.7" r="2.8" fill="#136631"/>
<circle cx="1229.9" cy="1768.3" r="2.3" fill="#115e2e"/>
<circle cx="1244.0" cy="1784.5" r="3.6" fill="#177237"/>
<circle cx="1255.0" cy="1779.9" r="2.8" fill="#136631"/>
<circle cx="1244.0" cy="1773.4" r="2.3" fill="#115e2e"/>
<circle cx="1232.5" cy="1801.7" r="2.3" fill="#115e2e"/>
<circle cx="1244.0" cy="1808.1" r="2.3" fill="#115e2e"/>
<circle cx="1240.2" cy="1794.0" r="2.3" fill="#115e2e"/>
<circle cx="1260.7" cy="1794.0" r="2.3" fill="#115e2e"/>
<circle cx="1122.1" cy="1809.4" r="3.3" fill="#156d35"/>
<circle cx="1129.8" cy="1814.5" r="3.3" fill="#156d35"/>
<circle cx="1137.5" cy="1817.1" r="3.3" fill="#156d35"/>
<circle cx="1147.8" cy="1817.1" r="3.3" fill="#156d35"/>
<circle cx="1155.5" cy="1809.4" r="3.3" fill="#156d35"/>
<circle cx="1163.2" cy="1806.8" r="3.3" fill="#156d35"/>
<circle cx="1176.0" cy="1806.8" r="3.3" fill="#156d35"/>
<circle cx="1183.7" cy="1814.5" r="3.3" fill="#156d35"/>
<circle cx="1194.0" cy="1814.5" r="3.3" fill="#156d35"/>
<circle cx="1204.2" cy="1817.1" r="3.3" fill="#156d35"/>
<circle cx="1217.1" cy="1817.1" r="2.8" fill="#136631"/>
<circle cx="1224.8" cy="1814.5" r="2.8" fill="#136631"/>
<circle cx="1229.9" cy="1809.4" r="2.3" fill="#115e2e"/>
<circle cx="1117.0" cy="1817.1" r="2.8" fill="#136631"/>
<circle cx="1109.3" cy="1809.4" r="2.3" fill="#115e2e"/>
<circle cx="1111.9" cy="1817.1" r="2.3" fill="#115e2e"/>
<circle cx="1101.6" cy="1877.2" r="5.1" fill="#269241"/>
<circle cx="1348.4" cy="1842.8" r="5.6" fill="#2a9a43"/>
<circle cx="1075.9" cy="1815.1" r="2.3" fill="#115e2e"/>
<circle cx="1105.4" cy="1821.5" r="3.3" fill="#156d35"/>
<circle cx="1110.6" cy="1828.0" r="2.3" fill="#115e2e"/>
<circle cx="1087.5" cy="1839.5" r="2.8" fill="#136631"/>
<circle cx="1105.4" cy="1840.8" r="4.6" fill="#21873d"/>
<circle cx="1065.7" cy="1849.8" r="2.3" fill="#115e2e"/>
<circle cx="1061.8" cy="1835.7" r="2.3" fill="#115e2e"/>
<circle cx="1124.7" cy="1812.6" r="2.8" fill="#136631"/>
<circle cx="1156.8" cy="1821.5" r="2.8" fill="#136631"/>
<circle cx="1161.9" cy="1830.5" r="2.8" fill="#136631"/>
<circle cx="1178.6" cy="1833.1" r="2.3" fill="#115e2e"/>
<circle cx="1183.7" cy="1825.4" r="2.3" fill="#115e2e"/>
<circle cx="1188.8" cy="1817.7" r="2.3" fill="#115e2e"/>
<circle cx="1204.2" cy="1825.4" r="2.3" fill="#115e2e"/>
<circle cx="1210.6" cy="1821.5" r="2.3" fill="#115e2e"/>
<circle cx="1223.5" cy="1817.7" r="2.8" fill="#136631"/>
<circle cx="1226.0" cy="1829.2" r="2.3" fill="#115e2e"/>
<circle cx="1246.6" cy="1821.5" r="2.3" fill="#115e2e"/>
<circle cx="1253.0" cy="1828.0" r="2.3" fill="#115e2e"/>
<circle cx="1276.1" cy="1825.9" r="2.3" fill="#115e2e"/>
<circle cx="1283.8" cy="1824.1" r="2.3" fill="#115e2e"/>
<circle cx="1287.6" cy="1829.2" r="2.3" fill="#115e2e"/>
<circle cx="1324.3" cy="1815.1" r="3.6" fill="#177237"/>
<circle cx="1298.7" cy="1817.7" r="2.3" fill="#115e2e"/>
<circle cx="1124.7" cy="1843.4" r="2.3" fill="#115e2e"/>
<circle cx="1138.8" cy="1843.4" r="3.8" fill="#197738"/>
<circle cx="1142.6" cy="1849.8" r="3.3" fill="#156d35"/>
<circle cx="1147.8" cy="1851.1" r="2.3" fill="#115e2e"/>
<circle cx="1152.9" cy="1858.8" r="2.8" fill="#136631"/>
<circle cx="1158.0" cy="1854.9" r="2.3" fill="#115e2e"/>
<circle cx="1168.3" cy="1856.2" r="2.8" fill="#136631"/>
<circle cx="1173.4" cy="1851.1" r="3.3" fill="#156d35"/>
<circle cx="1178.6" cy="1843.4" r="2.3" fill="#115e2e"/>
<circle cx="1186.3" cy="1843.4" r="2.8" fill="#136631"/>
<circle cx="1194.0" cy="1838.2" r="2.8" fill="#136631"/>
<circle cx="1201.7" cy="1833.1" r="3.3" fill="#156d35"/>
<circle cx="1206.8" cy="1845.9" r="4.6" fill="#21873d"/>
<circle cx="1204.2" cy="1856.2" r="2.8" fill="#136631"/>
<circle cx="1209.4" cy="1858.8" r="2.3" fill="#115e2e"/>
<circle cx="1217.1" cy="1861.3" r="2.8" fill="#136631"/>
<circle cx="1219.6" cy="1853.6" r="2.3" fill="#115e2e"/>
<circle cx="1231.2" cy="1849.8" r="2.3" fill="#115e2e"/>
<circle cx="1232.5" cy="1835.7" r="2.3" fill="#115e2e"/>
<circle cx="1240.2" cy="1835.7" r="2.3" fill="#115e2e"/>
<circle cx="1238.9" cy="1848.5" r="2.3" fill="#115e2e"/>
<circle cx="1245.3" cy="1856.2" r="2.8" fill="#136631"/>
<circle cx="1247.9" cy="1863.9" r="2.3" fill="#115e2e"/>
<circle cx="1141.4" cy="1860.8" r="5.1" fill="#269241"/>
<circle cx="1131.1" cy="1859.3" r="3.3" fill="#156d35"/>
<circle cx="1108.0" cy="1854.9" r="2.3" fill="#115e2e"/>
<circle cx="1122.1" cy="1857.5" r="2.3" fill="#115e2e"/>
<circle cx="1117.0" cy="1869.0" r="2.3" fill="#115e2e"/>
<circle cx="1129.8" cy="1872.4" r="5.1" fill="#269241"/>
<circle cx="1137.5" cy="1876.7" r="2.3" fill="#115e2e"/>
<circle cx="1150.3" cy="1869.0" r="2.3" fill="#115e2e"/>
<circle cx="1155.5" cy="1869.0" r="3.6" fill="#177237"/>
<circle cx="1160.6" cy="1874.2" r="2.3" fill="#115e2e"/>
<circle cx="1154.2" cy="1879.3" r="2.3" fill="#115e2e"/>
<circle cx="1051.5" cy="1865.9" r="2.3" fill="#115e2e"/>
<circle cx="1059.2" cy="1872.4" r="2.3" fill="#115e2e"/>
<circle cx="1066.2" cy="1877.2" r="4.4" fill="#1f823c"/>
<circle cx="1052.8" cy="1879.8" r="3.8" fill="#197738"/>
<circle cx="1077.2" cy="1881.9" r="2.3" fill="#115e2e"/>
<circle cx="1086.2" cy="1883.1" r="2.3" fill="#115e2e"/>
<circle cx="1088.8" cy="1888.3" r="2.3" fill="#115e2e"/>
<circle cx="1106.7" cy="1887.0" r="2.3" fill="#115e2e"/>
<circle cx="1116.5" cy="1872.4" r="3.3" fill="#156d35"/>
<circle cx="1109.3" cy="1897.2" r="2.3" fill="#115e2e"/>
<circle cx="1119.5" cy="1890.8" r="2.3" fill="#115e2e"/>
<circle cx="1129.8" cy="1892.1" r="2.3" fill="#115e2e"/>
<circle cx="1136.2" cy="1890.8" r="3.6" fill="#177237"/>
<circle cx="1142.6" cy="1881.9" r="2.3" fill="#115e2e"/>
<circle cx="1147.8" cy="1887.0" r="2.3" fill="#115e2e"/>
<circle cx="1077.2" cy="1896.5" r="3.3" fill="#156d35"/>
<circle cx="1086.2" cy="1898.5" r="2.3" fill="#115e2e"/>
<circle cx="1097.7" cy="1894.7" r="2.3" fill="#115e2e"/>
<circle cx="1100.3" cy="1901.1" r="3.8" fill="#197738"/>
<circle cx="1108.0" cy="1906.2" r="3.8" fill="#197738"/>
<circle cx="1118.3" cy="1906.2" r="3.3" fill="#156d35"/>
<circle cx="1122.1" cy="1903.7" r="2.3" fill="#115e2e"/>
<circle cx="1129.8" cy="1898.5" r="2.3" fill="#115e2e"/>
<circle cx="1142.6" cy="1904.9" r="3.3" fill="#156d35"/>
<circle cx="1147.8" cy="1910.1" r="2.8" fill="#136631"/>
<circle cx="1142.6" cy="1915.2" r="2.3" fill="#115e2e"/>
<circle cx="1134.9" cy="1912.6" r="2.3" fill="#115e2e"/>
<circle cx="1129.8" cy="1912.6" r="3.3" fill="#156d35"/>
<circle cx="1133.7" cy="1921.6" r="3.6" fill="#177237"/>
<circle cx="1138.8" cy="1920.3" r="2.3" fill="#115e2e"/>
<circle cx="1124.7" cy="1922.9" r="2.3" fill="#115e2e"/>
<circle cx="1056.7" cy="1907.5" r="2.3" fill="#115e2e"/>
<circle cx="1064.4" cy="1904.9" r="2.3" fill="#115e2e"/>
<circle cx="1072.1" cy="1916.5" r="3.6" fill="#177237"/>
<circle cx="1078.5" cy="1917.8" r="2.8" fill="#136631"/>
<circle cx="1088.8" cy="1917.8" r="3.8" fill="#197738"/>
<circle cx="1109.3" cy="1921.1" r="4.4" fill="#1f823c"/>
<circle cx="1070.8" cy="1935.7" r="2.3" fill="#115e2e"/>
<circle cx="1078.5" cy="1931.9" r="2.3" fill="#115e2e"/>
<circle cx="1090.0" cy="1928.0" r="2.3" fill="#115e2e"/>
<circle cx="1065.7" cy="1940.1" r="2.3" fill="#115e2e"/>
<circle cx="1052.8" cy="1938.3" r="2.3" fill="#115e2e"/>
<circle cx="1087.5" cy="1941.6" r="2.3" fill="#115e2e"/>
<circle cx="1150.3" cy="1894.7" r="3.3" fill="#156d35"/>
<circle cx="1158.0" cy="1892.1" r="2.8" fill="#136631"/>
<circle cx="1163.2" cy="1897.2" r="2.8" fill="#136631"/>
<circle cx="1168.3" cy="1894.7" r="3.3" fill="#156d35"/>
<circle cx="1173.4" cy="1899.8" r="3.6" fill="#177237"/>
<circle cx="1178.6" cy="1892.1" r="2.8" fill="#136631"/>
<circle cx="1183.7" cy="1898.5" r="3.3" fill="#156d35"/>
<circle cx="1188.8" cy="1894.7" r="2.8" fill="#136631"/>
<circle cx="1194.0" cy="1894.7" r="3.3" fill="#156d35"/>
<circle cx="1199.1" cy="1892.1" r="2.8" fill="#136631"/>
<circle cx="1206.8" cy="1897.2" r="2.8" fill="#136631"/>
<circle cx="1214.5" cy="1894.7" r="3.3" fill="#156d35"/>
<circle cx="1219.6" cy="1899.8" r="2.8" fill="#136631"/>
<circle cx="1224.8" cy="1894.7" r="2.8" fill="#136631"/>
<circle cx="1229.9" cy="1889.5" r="2.3" fill="#115e2e"/>
<circle cx="1235.0" cy="1897.2" r="3.3" fill="#156d35"/>
<circle cx="1227.3" cy="1892.1" r="3.3" fill="#156d35"/>
<circle cx="1240.2" cy="1887.0" r="2.3" fill="#115e2e"/>
<circle cx="1237.6" cy="1879.3" r="2.8" fill="#136631"/>
<circle cx="1255.6" cy="1874.2" r="2.3" fill="#115e2e"/>
<circle cx="1267.1" cy="1880.6" r="2.3" fill="#115e2e"/>
<circle cx="1250.4" cy="1870.3" r="3.3" fill="#156d35"/>
<circle cx="1150.3" cy="1917.8" r="3.3" fill="#156d35"/>
<circle cx="1152.9" cy="1925.5" r="2.8" fill="#136631"/>
<circle cx="1160.6" cy="1928.0" r="3.3" fill="#156d35"/>
<circle cx="1168.3" cy="1928.0" r="3.3" fill="#156d35"/>
<circle cx="1173.4" cy="1930.6" r="2.8" fill="#136631"/>
<circle cx="1178.6" cy="1925.5" r="2.8" fill="#136631"/>
<circle cx="1183.7" cy="1922.9" r="3.3" fill="#156d35"/>
<circle cx="1199.1" cy="1922.9" r="2.8" fill="#136631"/>
<circle cx="1204.2" cy="1933.2" r="3.3" fill="#156d35"/>
<circle cx="1209.4" cy="1930.6" r="2.8" fill="#136631"/>
<circle cx="1217.1" cy="1928.0" r="3.3" fill="#156d35"/>
<circle cx="1222.2" cy="1933.2" r="3.6" fill="#177237"/>
<circle cx="1224.8" cy="1938.3" r="3.3" fill="#156d35"/>
<circle cx="1219.6" cy="1922.9" r="2.8" fill="#136631"/>
<circle cx="1229.9" cy="1920.3" r="3.3" fill="#156d35"/>
<circle cx="1235.0" cy="1933.2" r="2.3" fill="#115e2e"/>
<circle cx="1242.7" cy="1930.6" r="2.3" fill="#115e2e"/>
<circle cx="1245.3" cy="1922.9" r="2.3" fill="#115e2e"/>
<circle cx="1250.4" cy="1935.7" r="2.3" fill="#115e2e"/>
<circle cx="1264.0" cy="1904.9" r="3.3" fill="#156d35"/>
<circle cx="1149.1" cy="1935.7" r="2.8" fill="#136631"/>
<circle cx="1158.0" cy="1938.3" r="2.8" fill="#136631"/>
<circle cx="1163.2" cy="1943.4" r="2.3" fill="#115e2e"/>
<circle cx="1168.3" cy="1935.7" r="2.8" fill="#136631"/>
<circle cx="1178.6" cy="1943.4" r="3.3" fill="#156d35"/>
<circle cx="1204.2" cy="1943.4" r="2.8" fill="#136631"/>
<circle cx="1214.5" cy="1940.9" r="2.3" fill="#115e2e"/>
<circle cx="1227.3" cy="1943.4" r="3.3" fill="#156d35"/>
<circle cx="1229.9" cy="1948.6" r="3.3" fill="#156d35"/>
<circle cx="1235.0" cy="1951.1" r="3.3" fill="#156d35"/>
<circle cx="1224.8" cy="1956.3" r="3.6" fill="#177237"/>
<circle cx="1229.9" cy="1958.8" r="2.8" fill="#136631"/>
<circle cx="1245.3" cy="1953.7" r="2.8" fill="#136631"/>
<circle cx="1238.4" cy="1961.4" r="2.3" fill="#115e2e"/>
<circle cx="1254.3" cy="1952.4" r="2.3" fill="#115e2e"/>
<circle cx="1127.2" cy="1953.7" r="3.8" fill="#197738"/>
<circle cx="1128.5" cy="1960.1" r="3.6" fill="#177237"/>
<circle cx="1122.1" cy="1956.3" r="2.3" fill="#115e2e"/>
<circle cx="1152.9" cy="1949.9" r="2.3" fill="#115e2e"/>
<circle cx="1159.3" cy="1957.5" r="2.3" fill="#115e2e"/>
<circle cx="1163.2" cy="1949.9" r="2.8" fill="#136631"/>
<circle cx="1168.3" cy="1953.7" r="2.3" fill="#115e2e"/>
<circle cx="1173.4" cy="1958.8" r="2.3" fill="#115e2e"/>
<circle cx="1179.9" cy="1956.3" r="2.3" fill="#115e2e"/>
<circle cx="1199.1" cy="1949.9" r="3.3" fill="#156d35"/>
<circle cx="1209.4" cy="1953.7" r="2.3" fill="#115e2e"/>
<circle cx="1142.6" cy="1964.0" r="3.3" fill="#156d35"/>
<circle cx="1147.8" cy="1966.5" r="2.8" fill="#136631"/>
<circle cx="1188.8" cy="1971.7" r="3.8" fill="#197738"/>
<circle cx="1194.0" cy="1971.7" r="3.3" fill="#156d35"/>
<circle cx="1205.5" cy="1976.8" r="2.3" fill="#115e2e"/>
<circle cx="1204.2" cy="1966.5" r="2.3" fill="#115e2e"/>
<circle cx="1224.8" cy="1967.8" r="3.8" fill="#197738"/>
<circle cx="1227.3" cy="1974.2" r="2.3" fill="#115e2e"/>
<circle cx="1247.9" cy="1979.4" r="2.3" fill="#115e2e"/>
<circle cx="1245.3" cy="1987.1" r="2.3" fill="#115e2e"/>
<circle cx="1229.9" cy="1985.8" r="3.3" fill="#156d35"/>
<circle cx="1256.8" cy="1969.1" r="2.8" fill="#136631"/>
<circle cx="1256.8" cy="1975.5" r="2.3" fill="#115e2e"/>
<circle cx="1263.8" cy="1966.5" r="5.6" fill="#2a9a43"/>
<circle cx="1269.2" cy="1951.1" r="3.6" fill="#177237"/>
<circle cx="1277.4" cy="1954.5" r="2.8" fill="#136631"/>
<circle cx="1279.9" cy="1961.4" r="2.3" fill="#115e2e"/>
<circle cx="1283.3" cy="1971.1" r="2.3" fill="#115e2e"/>
<circle cx="1290.2" cy="1979.4" r="5.1" fill="#269241"/>
<circle cx="1295.3" cy="1907.5" r="2.3" fill="#115e2e"/>
<circle cx="1308.2" cy="1870.3" r="3.6" fill="#177237"/>
<circle cx="1313.3" cy="1852.3" r="2.3" fill="#115e2e"/>
<circle cx="1317.1" cy="1854.9" r="2.3" fill="#115e2e"/>
<circle cx="1294.0" cy="1850.5" r="2.3" fill="#115e2e"/>
<circle cx="1295.3" cy="1840.8" r="2.3" fill="#115e2e"/>
<circle cx="1273.0" cy="1840.0" r="2.3" fill="#115e2e"/>
<circle cx="1328.2" cy="1917.3" r="2.3" fill="#115e2e"/>
<circle cx="1333.3" cy="1942.7" r="2.3" fill="#115e2e"/>
<circle cx="1372.3" cy="1896.7" r="5.1" fill="#269241"/>
<circle cx="1264.5" cy="1917.8" r="2.3" fill="#115e2e"/>
<circle cx="1250.8" cy="1927.9" r="2.5" fill="#126230"/>
<circle cx="1147.8" cy="1765.7" r="3.1" fill="#146a33"/>
<circle cx="1148.4" cy="1786.8" r="2.8" fill="#136631"/>
<circle cx="1200.3" cy="1812.2" r="2.5" fill="#126230"/>
<circle cx="1188.9" cy="1767.1" r="2.5" fill="#126230"/>
<circle cx="1216.5" cy="1944.4" r="3.4" fill="#166e35"/>
<circle cx="1149.5" cy="1898.5" r="3.1" fill="#146a33"/>
<circle cx="1200.6" cy="1905.4" r="2.8" fill="#136631"/>
<circle cx="1191.2" cy="1884.6" r="3.7" fill="#187437"/>
<circle cx="1141.6" cy="1802.5" r="3.1" fill="#146a33"/>
<circle cx="1125.6" cy="1942.2" r="3.1" fill="#146a33"/>
<circle cx="1157.8" cy="1884.9" r="3.1" fill="#146a33"/>
<circle cx="1131.0" cy="1795.3" r="3.4" fill="#166e35"/>
<circle cx="1157.2" cy="1872.0" r="3.4" fill="#166e35"/>
<circle cx="1174.1" cy="1910.5" r="3.7" fill="#187437"/>
<circle cx="1165.8" cy="1822.4" r="3.7" fill="#187437"/>
<circle cx="1187.7" cy="1780.8" r="2.5" fill="#126230"/>
<circle cx="1197.2" cy="1867.8" r="3.7" fill="#187437"/>
<circle cx="1174.6" cy="1782.8" r="3.1" fill="#146a33"/>
<circle cx="1223.7" cy="1862.9" r="3.4" fill="#166e35"/>
<circle cx="1159.5" cy="1782.5" r="2.5" fill="#126230"/>
<circle cx="1175.2" cy="1893.7" r="3.4" fill="#166e35"/>
<circle cx="1185.5" cy="1932.8" r="3.7" fill="#187437"/>
<circle cx="1222.0" cy="1781.1" r="3.4" fill="#166e35"/>
<circle cx="1224.8" cy="1772.8" r="3.4" fill="#166e35"/>
<circle cx="1253.9" cy="1835.5" r="2.8" fill="#136631"/>
<circle cx="1200.0" cy="1943.0" r="2.5" fill="#126230"/>
<circle cx="1138.1" cy="1862.3" r="3.4" fill="#166e35"/>
<circle cx="1182.3" cy="1943.0" r="3.4" fill="#166e35"/>
<circle cx="1153.8" cy="1853.5" r="2.5" fill="#126230"/>
<circle cx="1213.7" cy="1799.0" r="3.4" fill="#166e35"/>
<circle cx="1198.9" cy="1938.7" r="2.8" fill="#136631"/>
<circle cx="1216.3" cy="1882.9" r="3.7" fill="#187437"/>
<circle cx="1204.3" cy="1866.0" r="2.8" fill="#136631"/>
<circle cx="1182.0" cy="1929.6" r="3.4" fill="#166e35"/>
<circle cx="1215.4" cy="1903.7" r="3.4" fill="#166e35"/>
<circle cx="1208.6" cy="1890.0" r="3.4" fill="#166e35"/>
<circle cx="1121.3" cy="1775.4" r="2.8" fill="#136631"/>
<circle cx="1151.0" cy="1817.9" r="3.7" fill="#187437"/>
<circle cx="1173.2" cy="1875.5" r="2.5" fill="#126230"/>
<circle cx="1189.5" cy="1879.4" r="3.1" fill="#146a33"/>
<circle cx="1169.2" cy="1941.3" r="3.4" fill="#166e35"/>
<circle cx="1183.5" cy="1777.1" r="3.7" fill="#187437"/>
<circle cx="1253.9" cy="1890.3" r="2.5" fill="#126230"/>
<circle cx="1186.3" cy="1849.8" r="3.4" fill="#166e35"/>
<circle cx="1222.5" cy="1945.6" r="3.1" fill="#146a33"/>
<circle cx="1213.1" cy="1908.2" r="2.8" fill="#136631"/>
<circle cx="1183.5" cy="1901.4" r="3.4" fill="#166e35"/>
<circle cx="1196.3" cy="1794.8" r="3.4" fill="#166e35"/>
<circle cx="1227.9" cy="1900.8" r="2.5" fill="#126230"/>
<circle cx="1160.4" cy="1873.2" r="3.7" fill="#187437"/>
<circle cx="1194.9" cy="1896.0" r="2.8" fill="#136631"/>
<circle cx="1156.7" cy="1929.1" r="2.5" fill="#126230"/>
<circle cx="1178.3" cy="1804.5" r="2.5" fill="#126230"/>
<circle cx="1206.6" cy="1906.5" r="3.4" fill="#166e35"/>
<circle cx="1154.7" cy="1874.6" r="3.1" fill="#146a33"/>
<circle cx="1169.2" cy="1911.7" r="3.1" fill="#146a33"/>
<circle cx="1153.5" cy="1940.5" r="3.1" fill="#146a33"/>
<circle cx="1187.5" cy="1926.8" r="3.4" fill="#166e35"/>
<circle cx="1190.6" cy="1902.5" r="3.1" fill="#146a33"/>
</g>
</svg></body></html>
